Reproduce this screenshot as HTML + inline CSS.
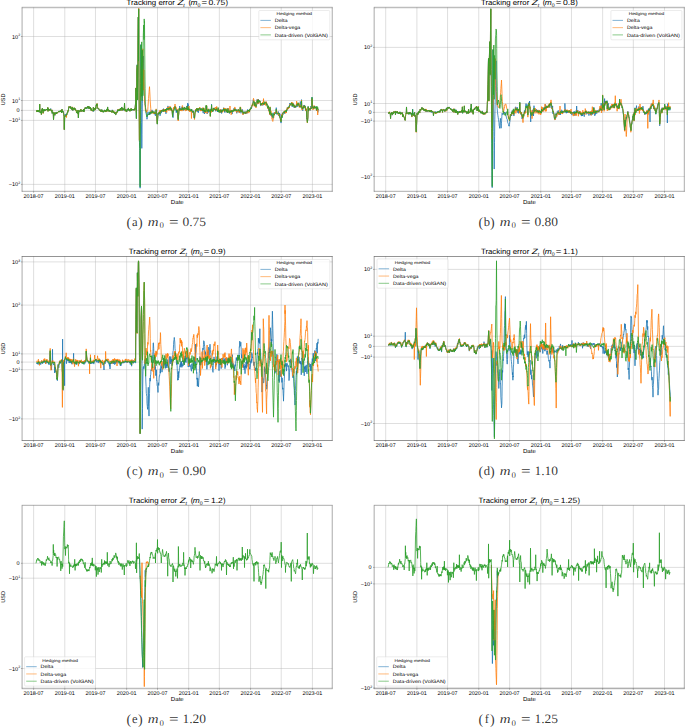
<!DOCTYPE html>
<html><head><meta charset="utf-8"><style>html,body{margin:0;padding:0;background:#fff;overflow:hidden}svg{display:block}</style></head>
<body>
<svg width="685" height="727" viewBox="0 0 685 727" font-family="'Liberation Sans', sans-serif" fill="#000" text-rendering="geometricPrecision">
<rect width="685" height="727" fill="#fff"/>
<clipPath id="clipa"><rect x="22.3" y="7.5" width="310" height="183.9"/></clipPath>
<path d="M33.6 7.5V191.4M64.79 7.5V191.4M95.46 7.5V191.4M126.65 7.5V191.4M157.5 7.5V191.4M188.68 7.5V191.4M219.36 7.5V191.4M250.55 7.5V191.4M281.22 7.5V191.4M312.41 7.5V191.4M22.3 36.5H332.3M22.3 100.5H332.3M22.3 110.4H332.3M22.3 120.4H332.3M22.3 184.4H332.3" stroke="#b0b0b0" stroke-opacity="0.45" stroke-width="0.9" fill="none"/>
<path d="M36.5 110.28 36.75 111.76 36.99 111.2 37.24 110.7 37.48 111.35 37.73 110.32 37.97 111.56 38.22 111.78 38.46 110.4 38.71 111.51 38.95 111.29 39.2 110.25 39.44 111.42 39.69 104.34 40 111.96 40.18 112.91 40.42 112.11 40.67 112.15 40.91 112.94 41.16 111.25 41.4 114.55 41.65 111.28 41.89 109.52 42.14 110.54 42.38 108.1 42.63 110.17 42.87 110.68 43.12 113.15 43.36 110.35 43.61 110.27 43.86 110.76 44 109.22 44.1 111.07 44.35 110.88 44.59 109.85M45.08 111.02 45.33 110.43 45.57 110.13 45.82 109.64 46.06 110.14 46.31 109.79 46.55 109.46 46.8 109.74 47.04 109.43 47.29 109.56 47.53 108.81 47.78 107.56 48 110.96 48.27 108.42 48.51 109.39 48.76 109.66 49 109.42 49.25 110.25 49.49 109.44 49.74 110.4 49.98 109.41 50.23 109.82 50.47 109.06 50.72 108.53 50.97 109.59 51.21 110.68 51.46 111.28 51.7 111.07 52 110.13 52.19 113.53 52.44 112.09 52.68 112.14 52.93 112.22 53.2 112.24 53.42 116.57 53.5 119.64 53.66 117.14 53.9 113.93 54.15 112.98 54.4 113.61 54.64 114.4 54.89 115.55 55 112.99 55.13 113.4 55.38 112.46 55.62 112.85 55.87 113.47 56.11 112.97 56.36 112.63 56.6 113.82 56.85 112.19 57.09 112.41 57.34 112.68 57.58 113.09 57.83 112.33 58 111.9 58.32 111.59 58.57 111.57 58.81 111.82 59.06 111.79 59.3 110.98 59.55 111.52 59.79 111.91 60.04 111.81 60.28 110.83 60.53 110.71 60.77 111.78 61 110.84 61.26 110.48 61.51 112.61 61.75 111.63 62 109.25 62.24 112.58 62.49 111.24 62.73 111.39 62.98 111.61 63.22 111.18 63.5 112.12 63.71 114.68 64 116.32 64.2 126.18 64.3 129.66 64.45 125.22 64.7 115.91 64.94 115.71 65.18 114 65.43 114.99 65.68 116.3 65.92 116.18 66.17 116.04 66.41 115.27 66.5 113.86 66.66 114.39 66.9 114.77 67.15 113.76 67.39 112.17 67.64 113 67.88 111.14 68 111.38 68.13 111 68.37 110.82 68.62 107.96 68.86 106.86 69 106.78 69.11 106.46 69.35 107.49 69.6 107.31 69.84 107.87 70.09 107.96 70.33 108.13 70.58 106.37 70.82 108.46 71.07 108.18 71.31 107.73 71.56 109.19 71.8 108.29 72 108.05 72.29 107.15 72.54 108.9 72.79 110.53 73.03 108.08 73.28 108.71 73.52 108.62 73.77 109.55 74.01 109.33 74.26 107.92 74.5 108.44 74.75 109.2 75 109.93 75.24 108.59 75.48 108.79 75.73 110.33 75.97 110.52 76.22 110.11M77 112.79 77.2 112.52 77.44 113.58 77.69 112.41 77.93 110.48 78.18 113.11 78.42 117.85 78.67 111.86 78.91 111.44 79.16 110.49 79.4 110.99 79.65 112.16 79.9 111.2 80 110.91 80.14 110.94 80.39 111.08 80.63 111.07 80.88 109.19 81.12 110.32 81.37 110.58 81.61 111.39 81.86 111.34 82.1 110.68 82.35 110.23 82.59 110.64 82.84 110.02 83.08 110.44 83.33 111.9 83.57 109.27 83.82 111.21 84 111.44 84.31 111.58 84.55 109.12 84.8 108.14 85 108.17 85.29 107.46 85.53 107.18 85.78 108.1 86.02 109.04 86.27 107.73 86.51 107.67 86.76 107.87 87 107.84 87.25 108.48 87.5 107.01 87.74 106.38 88 107.31 88.23 107.3 88.48 106.23 88.72 107.78 88.97 108.79 89.21 106.58 89.46 107.61 89.7 107.55 90 108.58 90.19 108.89 90.44 107.22 90.68 108.59 90.93 109.43 91.17 110.35 91.42 108.75 91.66 109.98 91.91 110.12 92 110.17 92.15 110.82 92.4 110.93 92.64 110.88 92.89 110.87 93.13 109.71 93.38 107.28 93.62 111.56 93.87 110.7 94.11 109.59 94.36 108.91 94.61 107.97 94.85 108.42 95 108.98 95.1 110.01 95.34 109.15 95.59 107.62 95.83 108.44 96.08 105.57 96.32 105.19 96.5 104.33 96.81 105.68 97.06 103.77 97.3 106.22 97.55 107.51 97.79 108.48 98 108.38 98.28 109.01 98.53 108.91 98.77 108.86 99.02 108.74 99.26 110.08 99.51 110.4 99.75 110.07 100 110.56 100.24 110.81 100.49 111.43 100.73 110.4 100.98 109.57 101.22 110.5 101.47 111.2 101.72 111.9 101.96 109.78 102.21 111.58 102.45 111.95 102.7 110.85 103 111.59 103.19 111.78 103.43 112.27 103.68 111.26 103.92 111.35 104.17 111.48 104.41 109.94 104.66 110.1 104.9 111.48 105.15 111.26 105.39 110.52 105.64 110.47 105.88 111.86 106.13 110.23 106.37 110.75 106.62 110.76 106.86 110.54 107 109 107.11 109.84 107.35 110.55 107.6 106.91 107.84 110.28 108.09 111.41 108.33 109.94 108.58 109.66 108.83 110.56 109.07 110.5 109.32 111.23 109.56 110.04 109.81 111.11 110 111.93 110.3 110.76 110.54 111.17 110.79 111.16 111.03 111.5 111.28 111.95 111.52 111.67 111.77 112.25 112.01 111.46 112.26 109.85 112.5 111.47 112.75 110.54 113 110.68 113.24 112.74 113.48 111.68 113.73 111.83 113.97 111.7 114.22 112.8 114.46 113.5 114.71 112.3 114.95 112.1 115.2 112.03 115.44 113.91 115.69 114.78 116 114.42 116.18 113.74 116.43 112.22 116.67 112.88 116.92 112.78 117.16 111.2 117.41 111.93 117.65 109.84 117.9 110.83 118 109.65 118.14 110.34 118.39 110.61 118.63 111.21 118.88 109.61 119.12 109.61 119.37 110.56 119.61 110.28 119.86 109 120.1 110.66 120.35 109.48 120.59 108.12 120.84 109.39 121.08 108.29 121.33 108.28 121.57 108.45 121.82 106.96 122 110.49 122.31 108.77 122.55 108.54 122.8 109.37 123.04 109.81 123.29 108.51 123.54 110.27 123.78 109.86 124.03 110.24 124.27 109.9 124.52 103.06 124.76 109.71 125.01 109.59 125.25 111.09 125.5 109.88 125.74 109.35 126 109.33 126.23 111.21 126.48 109.85 126.72 111.6 126.97 110.64 127.21 109.97 127.46 109.45 127.7 110.26 127.95 108.94 128.19 109.51 128.44 108.01 128.68 110.31 128.93 109.78 129.17 110.53 129.42 111.05 129.66 109.52 129.91 109.89 130 111.21 130.15 110.2 130.4 109.29 130.65 109.59 130.89 109.85 131.14 108.49 131.38 110.73 131.63 109.82 131.87 109.5 132.12 109.24 132.36 109.67 132.61 110.32 132.85 109.48 133 109.82 133.1 109.89 133.34 109.02 133.59 109.96 133.83 110.02 134.08 109.88 134.32 110.19 134.5 109.26 134.81 108.59 135 109.45 135.3 105.93 135.6 102.91 135.79 93.95 135.9 88 136.04 97.99 136.2 112.66 136.28 113.89 136.4 118.52 136.53 102.33 136.8 70.09 137.02 67.43 137.2 64.72 137.51 92.68 137.6 99.57 137.76 74.51 138 39.95 138.3 17.02 138.5 61.28 138.7 8.7 139 77.62 139.23 114.34 139.4 139.66 139.5 142.56 139.72 148.42 139.8 150.66 139.96 170.23 140.1 188.16 140.2 169.26 140.5 120.59 140.7 83.41 140.9 44.53 141 55.99 141.19 78.57 141.3 109.51 141.43 122.13 141.7 141 141.8 148.36 142 134.36 142.1 125.03 142.3 110 142.41 103.17 142.5 98.73 142.66 88.1 142.9 75.95 143 70.75 143.15 63.89 143.3 60.75 143.39 58.26 143.5 56.07 143.7 69.88 143.8 75.66 143.88 81.64 144 90.26 144.2 92.87 144.37 94.97 144.5 96.75 144.62 98.87 144.9 103.1 145 104.77 145.11 104.97 145.3 104.97 145.5 107.23 145.6 108.04 145.8 110.53 146 112.03 146.09 113.14 146.34 114.67 146.5 115.22 146.58 115.49 146.83 117.49 147 119.26 147.32 116.3 147.56 113.78 147.81 113.09 148 111.75 148.3 113.43 148.54 114.24 148.8 113.88 149.03 114.23 149.28 114.7 149.5 113.12 149.77 114.74 150 111.57 150.2 113.74 150.5 113.76 150.75 112.5 151 111.18 151.24 113.33 151.48 112.76 151.73 111.72 152 109.89 152.22 111.54 152.47 111.36 152.71 111.73 153 112.3 153.2 112.41 153.45 112.07 153.69 112.71 153.94 111.34 154.18 114.23 154.43 114.1 154.67 113.18 154.92 113.69 155.16 114.48 155.41 115.82 155.65 113.01 155.9 112.72 156.14 110.04 156.39 113.15 156.5 113.89 156.63 114.88 156.88 118.59 157.12 122.4 157.3 123.77 157.61 118.98 157.86 115.81 158 113.1 158.1 114.86 158.35 114.61 158.59 114.17 158.84 112.72 159.08 112.8 159.33 111.58 159.58 112.88 159.82 112.8 160.07 115.82 160.31 111.7 160.56 111.59 160.8 112.02 161.05 110.48 161.29 113.13 161.54 111.13 161.78 111.19 162 109.94 162.27 111.64 162.52 110.5 162.76 109.73 163.01 109.43 163.25 110.06 163.5 108.61 163.74 110.28 163.99 110.27 164.23 110.67 164.48 110.28 164.72 109.69 165 110.63 165.21 110.81 165.46 111.14 165.7 109.29 165.95 113.84 166.19 110.46 166.44 110.27 166.69 108.15 166.93 109.54 167.18 109.58 167.42 109.17 167.67 108.31 167.91 105.92 168.16 106.67 168.4 110.01 168.65 107.8 168.89 108.2 169.14 109.41 169.38 109.52 169.63 108.96 169.87 109.8 170 107.56 170.12 108.92 170.36 108.12 170.61 107.17 170.85 109.94 171.1 110.14 171.34 110.39 171.59 108.61 171.83 111.03 172.08 110.05 172.32 112.97 172.57 115.87 172.81 111.93 173 117.69 173.3 111.82 173.55 111.52 173.8 110.25 174.04 109.03 174.29 108.26 174.53 107.73 174.78 106.55 175 106.41 175.27 108.45 175.51 108.54 175.76 110.08 176 110.3 176.25 112.69 176.49 110.63 176.74 112.18 176.98 109.51 177.23 111.17 177.5 110.68 177.72 116.9 177.96 118.57 178.2 119.49 178.45 115.96 178.7 114.14 179 109.88 179.19 109.07 179.43 110.08 179.68 106.06 179.92 109.51 180.17 108.1 180.41 109.11 180.66 109.75 180.9 109.61 181.15 109.15 181.4 109.83 181.64 107.74 181.89 109.07 182.13 106.69 182.38 108.76 182.62 106.99 182.87 109.33 183.11 110.39 183.36 110.5 183.6 108.45 183.85 108.26 184.09 109.44 184.34 107.85 184.58 106.94 184.83 107.28 185 108.49 185.32 108.51 185.56 108.26 185.81 108.46 186.05 108.95 186.3 110.24 186.54 108.36 186.79 109.29 187.03 105.97 187.28 109.21 187.52 108.08 187.77 102.99 188.01 107.94 188.26 104.48 188.51 108.6 188.75 107.88 189 110.58 189.24 109.89 189.49 110.28 189.73 108.58 190 110.24 190.22 109.84 190.47 110.41 190.71 110.85 190.96 111.1 191.2 109.33 191.45 110.29 191.69 109.55 191.94 111.42 192.18 111.74 192.43 112.66 192.67 111.99 192.92 110.62 193.16 111.96 193.41 111.56 193.5 111.52 193.65 113.36 193.9 117.74 194.14 116.44 194.39 116.68 194.5 118.71 194.63 117.01 194.88 113.16 195.12 111.96 195.37 110.25 195.5 111.21 195.62 109.53 195.86 111.2 196.11 110.72 196.35 109.76 196.6 109.07 196.84 108.66 197.09 109.68 197.33 110.84 197.58 110.69 197.82 111.91 198.07 109.93 198.31 112.82 198.56 111.42 198.8 110.72 199.05 110.74 199.29 108.58 199.54 108.65 199.78 108.02 200 108.08 200.27 109.66 200.52 110.55 200.76 109.65 201.01 109.24 201.25 110.53 201.5 109.89 201.74 108.44 201.99 109.68 202.23 110.75 202.48 109.83 202.73 109.98 202.97 112.28 203.22 113.13 203.46 111.38 203.71 108.6 203.95 111.25 204.2 111.31 204.44 114 204.69 110.63 205 112.01 205.18 111.94 205.42 112.47 205.67 111.91 205.91 109.7 206.16 105.81 206.4 110.11 206.65 106.51 206.89 110.72 207.14 113.96 207.38 113.3 207.63 111.22 207.87 111.52 208.12 109.83 208.36 112.49 208.61 110.1 208.85 110.46 209.1 111.21 209.34 111.29 209.59 110.88 209.83 110.84 210 109.63 210.08 108.83 210.33 115.87 210.57 111.55 210.82 110.04 211.06 112.07 211.31 110.79 211.55 104.2 211.8 110.14 212.04 109.87 212.29 109.29 212.53 110.9 212.78 111.75 213.02 108.3 213.27 109.6 213.51 108.49 213.76 109.23 214 107.85 214.25 108.63 214.49 108.84 214.74 109.44 215 108.95 215.23 110.1 215.47 109.93 215.72 111.33 215.96 109.89 216.21 109.73 216.45 109.11 216.7 107.68 216.94 109.82 217.19 109.38 217.44 111.93 217.68 109.85 217.93 111.21 218.17 109.45 218.42 108.72 218.66 111.96 218.91 110.21 219.15 110.24 219.4 109.98 219.64 111.02 219.89 111.54 220 111.81 220.13 110.25 220.38 110.82 220.62 109.37 220.87 112.59 221.11 110.92 221.36 110.37 221.6 113.51 221.85 111.59 222.09 109.42 222.34 110.53 222.58 110.89 222.83 110.14 223.07 110.82 223.32 110.7 223.56 107.7 223.81 110.97 224.05 108.88 224.3 108.93 224.55 112.13 224.79 112.56 225 109.82 225.28 110.65 225.53 109.94 225.77 110.67 226.02 110.26 226.26 112.41 226.51 110.43 226.75 110.87 227 108.91 227.24 109.99 227.49 112.61 227.73 112.09 227.98 108.07 228.22 110.8 228.47 111.5 228.71 111.09 228.96 112.72 229.2 110.95 229.45 113.54 229.69 112.41 230 111.68 230.18 111.58 230.43 111.93 230.67 112.34 230.92 112.41 231.16 111.15 231.41 109.96 231.66 110.27 231.9 112.5 232.15 114.07 232.39 111.73 232.64 110.92 232.88 111.33 233.13 110.66 233.37 109.65 233.62 109.77 233.86 109.71 234.11 107.99 234.35 110.29 234.6 111.08 234.84 108.98 235 109.44 235.09 110.29 235.33 109.3 235.58 110.11 235.82 109.13 236.07 109.23 236.31 111.47 236.56 110.94 236.8 113.34 237.05 110.98 237.29 111.31 237.54 111.23 237.78 110.86 238.03 110.3 238.27 109.18 238.52 110.84 238.77 110.63 239.01 112.68 239.26 111.33 239.5 110.79 239.75 111.15 240 111.76 240.24 107.72 240.48 110.19 240.73 111.09 240.97 113.27 241.22 111.23 241.46 109.61 241.71 111.38 241.95 111.87 242.2 110.25 242.44 109.45 242.69 110.82 242.93 113.75 243.18 114.4 243.42 111.83 243.67 113.21 243.91 113.31 244.16 111.74 244.4 112.33 244.65 111.73 244.89 112.86 245 112.17 245.14 113.21 245.38 113.92 245.63 112.84 245.87 111.51 246.12 112.6 246.37 112.37 246.61 113.56 246.86 113.78 247.1 112.59 247.35 110.27 247.59 109.5 247.84 110.74 248.08 110.87 248.33 111.63 248.57 110.17 248.82 110.8 249.06 110.85 249.31 110.74 249.55 110.6 249.8 108.91 250 108.79 250.29 108.59 250.53 109.85 250.78 107.85 251.02 107.26 251.27 107.88 251.51 108.51 251.76 107.02 252 105.09 252.25 105.49 252.49 105.38 252.74 104.48 252.98 101.87 253.23 99.77 253.48 100.11 253.72 101.92 254 102.82 254.21 101.96 254.46 102.82 254.7 104.96 254.95 102.38 255.19 105.28 255.44 105.15 255.68 106.11 256 107.1 256.17 104.74 256.42 104.62 256.66 104.26 256.91 103.3 257.15 99.21 257.4 101.8 257.64 100.28 257.89 101.19 258.13 103.91 258.38 99.16 258.62 100.16 258.8 101.41 259.11 100.94 259.36 101.04 259.6 100.71 259.85 101.09 260 101.87 260.09 101.69 260.34 102.7 260.59 105.75 260.83 105.68 261 103.25 261.32 104.94 261.57 104.2 261.81 104.64 262.06 103.8 262.3 103.08 262.55 103.83 262.79 105.53 263.04 104.14 263.28 104.74 263.5 103.92 263.77 104.49 264.02 104.96 264.26 103.39 264.51 103.85 264.75 103.22 265 103.32 265.24 103.28 265.49 103.88 265.73 103.19 266 101.78 266.22 103.68 266.47 102.43 266.71 103.42 266.96 104.09 267.2 104.77 267.45 107.01 267.7 107.74 268 106.38 268.19 109 268.43 107.62 268.68 110.43 268.92 109.41 269.17 110.63 269.41 109.84 269.66 112.15 269.9 114.63 270 108.16 270.15 113.77 270.39 113.56 270.64 113.55 270.88 113.65 271 115.78 271.13 114.12 271.37 114.13 271.62 116.37 271.86 115.89 272 115.21 272.11 114.52 272.35 116.58 272.6 116.54 272.8 116.95 273 118.4 273.09 116.31 273.33 113.55 273.5 112.82 273.82 114 274.07 115.2 274.31 115.16 274.5 112.42 274.8 112.93 275.05 113.79 275.3 112.32 275.54 112.52 275.79 112.65 276 111.47 276.28 107.67 276.52 112.5 276.77 114.22 277.01 114.56 277.26 114.15 277.5 113.79 277.75 113.73 277.99 112.55 278.24 111.43 278.48 112.94 278.73 115.84 279 114.57 279.22 112.9 279.46 115.24 279.71 117.23 279.95 113.8 280.2 116.82 280.44 119.26 280.69 119.13 281 123.08 281.18 121.08 281.42 118.76 281.67 114.92 281.91 117.94 282.16 116.27 282.41 112.93 282.65 114.64 282.9 114.46 283 114.52 283.14 113.18 283.39 111.89 283.63 112.17 283.88 112.14 284.12 112.09 284.37 113.63 284.61 111.9 284.86 113.29 285.1 111.9 285.35 111.23 285.59 111.19 285.84 111.54 286 111.24 286.08 110.59 286.33 112.32 286.57 110.56 286.82 110.75 287 109.86 287.31 107.75 287.55 108.3 287.8 107.61 288.04 109.08 288.29 108.61 288.53 108.74 288.78 106.67 289.02 107.68 289.27 106.73 289.52 104.43 289.76 103.04 290.01 103.31 290.25 104.43 290.5 105.24 290.74 104.07 290.99 103.53 291.23 104.42 291.5 103.78 291.72 104.17 291.97 102.94 292.21 106.85 292.46 104.08 292.7 103.9 292.95 106.2 293.19 103.28 293.44 105.65 293.68 105.05 293.93 106.59 294.17 107.92 294.42 106.13 294.66 104.88 294.91 107.61 295 107.34 295.15 106.37 295.4 107.38 295.64 106.12 295.89 106.34 296.13 107.29 296.38 106.36 296.63 104.21 296.87 104.41 297.12 103.38 297.36 104.19 297.61 106.64 297.85 104.6 298 104.28 298.1 102.93 298.34 105.12 298.59 103.7 298.83 104.09 299 105.54 299.32 106.4 299.57 105.6 299.81 105.77 300.06 103.72 300.3 101.5 300.55 103.89 300.79 106.89 301.04 106.38 301.28 104.2 301.53 99.64 301.77 106.63 302 108.76 302.26 108.09 302.51 108.77 302.75 110.81 303 108.14 303.24 107.76 303.49 108.19 303.73 105.26 303.98 106.84 304.23 106.85 304.47 105.35 304.72 105.34 305 107.94 305.21 107.3 305.45 109.49 305.7 110.58 305.94 109.57 306.19 111.32 306.5 111.56 306.68 118.93 306.92 117.79 307.17 120.12 307.4 121.61 307.66 119.5 307.9 117.36 308.15 106.47 308.39 108.86 308.5 110.39 308.64 110.41 308.88 110.38 309.13 110.33 309.37 108.45 309.62 108.63 309.86 109.77 310.11 110.57 310.35 108.26 310.6 108.79 310.84 106.1 311.09 108.33 311.34 108.86 311.58 108.43 311.83 106.93 312 97.19 312.32 106.15 312.56 108.15 312.81 106.84 313.05 108.32 313.3 106.74 313.54 107.92 313.79 108.24 314.03 107.4 314.28 105.97 314.52 106.19 314.77 106.84 315 107.99 315.26 107.17 315.5 107.74 315.75 108.3 315.99 106.87 316.24 107.04 316.48 110.49 316.73 110.75 316.97 108.33 317.22 107.74 317.46 111.11 317.71 109.21 317.95 109.09 318.2 112.41" stroke="#1f77b4" stroke-width="0.8" stroke-opacity="1" fill="none" stroke-linejoin="round" clip-path="url(#clipa)"/>
<path d="M36.5 110.28 36.75 111.62 36.99 111.41 37.24 110.47 37.48 111.64 37.73 110.28 37.97 111.54 38.22 111.64 38.46 110.07 38.71 111.12 38.95 111.14 39.2 110.45 39.44 111.51 39.69 104.04 40 112 40.18 112.53 40.42 112.12 40.67 112.2 40.91 113.11 41.16 111.41 41.4 114.55 41.65 111.56 41.89 109.66 42.14 110.85 42.38 108.19 42.63 110.74 42.87 111.11 43.12 113.54 43.36 110.62 43.61 110.14 43.86 111.25 44 109.42 44.1 110.9M44.59 109.88 44.84 110.24 45.08 110.9 45.33 110.08 45.57 110.02 45.82 109.93 46.06 110.26 46.31 109.97 46.55 109.03 46.8 109.78 47.04 109.35 47.29 109.73 47.53 108.98 47.78 107.41 48 111.39 48.27 108.46 48.51 109.3 48.76 109.4 49 109.41 49.25 110.14 49.49 109.61 49.74 110.43 49.98 109.61 50.23 109.75 50.47 109.19 50.72 109.32 50.97 110.51 51.21 110.63 51.46 111.19 51.7 110.97 52 109.85 52.19 113.11 52.44 112.32 52.68 112.82 52.93 112.72 53.2 112.49 53.42 116.64 53.5 119.5 53.66 116.82 53.9 113.93 54.15 112.62 54.4 113.32 54.64 113.94 54.89 115.1 55 112.61 55.13 113.37 55.38 112.98 55.62 113.46 55.87 113.73 56.11 113.33 56.36 112.97 56.6 113.86 56.85 112.3 57.09 112.58 57.34 113.34 57.58 112.94 57.83 112.32 58 111.78 58.32 111.73 58.57 111.48 58.81 111.93 59.06 112.06 59.3 111.1 59.55 111.64 59.79 111.82 60.04 111.87 60.28 111.15 60.53 110.65 60.77 111.64 61 110.68 61.26 110.78 61.51 112.79 61.75 112.18 62 109.37 62.24 112.15 62.49 111.4 62.73 111.5 62.98 111.75 63.22 111.73 63.5 112.48 63.71 114.63 64 116.4 64.2 126.19 64.3 129.73 64.45 124.71 64.7 115.86 64.94 115.36 65.18 115.4 65.43 115.65 65.68 116.33 65.92 116.04 66.17 115.98 66.41 114.98 66.5 117.5 66.66 114.37 66.9 114.64 67.15 113.8 67.39 112.5 67.64 112.79 67.88 110.83 68 111.2 68.13 110.53 68.37 110.97 68.62 108.25 68.86 107.19 69 106.84 69.11 106.21 69.35 107.37 69.6 107.41 69.84 107.77 70.09 108.15 70.33 108.25 70.58 106.67 70.82 107.92 71.07 107.57 71.31 108.14 71.56 109.48 71.8 108.28 72 108.25 72.29 106.8 72.54 108.98 72.79 110.26 73.03 108.21 73.28 109.15 73.52 108.88 73.77 109.66 74.01 109.73 74.26 107.68 74.5 108.37 74.75 109.24 75 109.82 75.24 108.62 75.48 108.98 75.73 110.41 75.97 110.37 76.22 109.96 76.46 112.67 76.71 111.76 77 113.01 77.2 112.32 77.44 113.39 77.69 112.43 77.93 110.05 78.18 113.02 78.42 117.73 78.67 111.95 78.91 111.53 79.16 110.55 79.4 111.05 79.65 111.89 79.9 111.26 80 111.06 80.14 111.21 80.39 111.35 80.63 111.29 80.88 109.06 81.12 110.33 81.37 110.53 81.61 111.21 81.86 111.55 82.1 111.01 82.35 110.58 82.59 110.51 82.84 109.97 83.08 110.12 83.33 111.66 83.57 108.96 83.82 110.94 84 111.23 84.31 111.42 84.55 109.03 84.8 108.34 85 108.23 85.29 107.48 85.53 108.05 85.78 107.85 86.02 108.97M87 107.61 87.25 107.86 87.5 107.3 87.74 106.33 88 107.22 88.23 107.52 88.48 106.5 88.72 107.86 88.97 108.93 89.21 106.76 89.46 107.71 89.7 107.83 90 108.88 90.19 108.94 90.44 107.25 90.68 108.57 90.93 109.97 91.17 110.51 91.42 108.68 91.66 109.95 91.91 109.98 92 110.07 92.15 111.01 92.4 111.23 92.64 110.96 92.89 111 93.13 109.7 93.38 107.27 93.62 110.99 93.87 110.71 94.11 109.53 94.36 108.98 94.61 108.21 94.85 108.68 95 108.56 95.1 110.01 95.34 108.91 95.59 107.85 95.83 108.91 96.08 105.34 96.32 105.14 96.5 104.03 96.81 105.71 97.06 103.36 97.3 105.86 97.55 107.07 97.79 108.04 98 108.48 98.28 108.78 98.53 108.52 98.77 108.6 99.02 108.79 99.26 109.87 99.51 110.35 99.75 109.95 100 110.5 100.24 110.99 100.49 111.41 100.73 110.5 100.98 109.72 101.22 110.69 101.47 111.37 101.72 111.79 101.96 109.87 102.21 111.6 102.45 112.22 102.7 110.99 103 111.48 103.19 111.3 103.43 111.99 103.68 111.09 103.92 111.2 104.17 111.51 104.41 110.05 104.66 110.4 104.9 111.52 105.15 111.57 105.39 110.63 105.64 110.29 105.88 112.06 106.13 110.36 106.37 111.14 106.62 111.63 106.86 110.85 107 109.32 107.11 110.05 107.35 110.36 107.6 106.98 107.84 110.38 108.09 111.4 108.33 109.28 108.58 109.65 108.83 110.28 109.07 110.94 109.32 111.37 109.56 110.27 109.81 111.2 110 111.94 110.3 111.07 110.54 111.38 110.79 111.3 111.03 111.63 111.28 112.08 111.52 111.85 111.77 112.48 112.01 111.83 112.26 110.09 112.5 111.82 112.75 110.92 113 110.7 113.24 112.76 113.48 111.31 113.73 111.69 113.97 111.15 114.22 112.43 114.46 113.25 114.71 112.15 114.95 112.01 115.2 112.07 115.44 113.73 115.69 114.46 116 113.86 116.18 113.2 116.43 112.08 116.67 113.2 116.92 113 117.16 111.74 117.41 112.2 117.65 109.96 117.9 110.61 118 109.33 118.14 110.04 118.39 110.53 118.63 110.85 118.88 109.51 119.12 109.69 119.37 110.8 119.61 110.08 119.86 108.8 120.1 110.58 120.35 109.36 120.59 108.14 120.84 109.18 121.08 108.53M121.82 107.01 122 110.73 122.31 108.85 122.55 108.42 122.8 109.41 123.04 109.92 123.29 108.68 123.54 109.96 123.78 109.73 124.03 110.13 124.27 110.16 124.52 103.08 124.76 109.17 125.01 109.71 125.25 111.21 125.5 109.52 125.74 109.45 126 109.51 126.23 111.4 126.48 110.05 126.72 111.68 126.97 110.38 127.21 109.7 127.46 109.11 127.7 110.27M128.19 109.57 128.44 107.89 128.68 109.89 128.93 109.89 129.17 110.6 129.42 110.82 129.66 109.43 129.91 109.82 130 111.23 130.15 110.59 130.4 109.39 130.65 109.35 130.89 109.98 131.14 108.41 131.38 110.51 131.63 109.5 131.87 109.63 132.12 109.13 132.36 109.69 132.61 109.83 132.85 109.34 133 109.8 133.1 109.83 133.34 109.25 133.59 110.24 133.83 109.81 134.08 109.86 134.32 110.21 134.5 109.66 134.81 108.55 135 109.55 135.3 106.26 135.6 103.16 135.79 93.85 135.9 87.85 136.04 98.06 136.2 112.19M136.4 118.59 136.53 103.34 136.8 70.26 137.02 68.19 137.2 65.6 137.51 92.97 137.6 99.49 137.76 74.99 138 40.46 138.3 17.19 138.5 60.99 138.7 8.25 139 78.21 139.23 114.64 139.4 140.45 139.5 109.84 139.72 119.48 139.8 123.14 139.96 114.45 140.1 106.36 140.2 99.78 140.5 88.34 140.7 79.81 140.9 74.42 141 70.25 141.19 67.76 141.3 66.32 141.43 65.5 141.7 62.78 141.8 62.15 142 60.6 142.1 59.54 142.3 55 142.41 54.22 142.5 53.08 142.66 51.24 142.9 48.79 143 58.96 143.15 73.65 143.3 90.23 143.39 86.76 143.5 81.61 143.7 74.33 143.8 69.58 143.88 73.69 144 79.14 144.2 86.62 144.37 95.3 144.5 101.81 144.62 101.74 144.9 103.07 145 105.23 145.11 106.53 145.3 108.85 145.5 110.82 145.6 110.54 145.8 109.66 146 110.54 146.09 110.23 146.34 111.44 146.5 112.38 146.58 111.12 146.83 112.02 147 111.08 147.32 110.76 147.56 109.91 147.81 109.83 148 106.39 148.3 101.98 148.54 98.47 148.8 94.85 149.03 92.34 149.28 89.39 149.5 86.7 149.77 91.48 150 96.1 150.2 100.71 150.5 104.92 150.75 108.4 151 112.59 151.24 111.7 151.48 113.26 151.73 113.33 152 113.09 152.22 111.99 152.47 110.97 152.71 111.14 153 112.13 153.2 112.17 153.45 113.78 153.69 113.43 153.94 112.28 154.18 113.42 154.43 113.79 154.67 112.01 154.92 112.88 155.16 113.08 155.41 113.42 155.65 112.7 155.9 113.77 156.14 108.87 156.39 111.37 156.5 115.16 156.63 114.56 156.88 119.83 157.12 122.21 157.3 123.81 157.61 118.72 157.86 115.58 158 113.7 158.1 113.62 158.35 113.83 158.59 113.35 158.84 112.32 159.08 112.72 159.33 111.67 159.58 112.16 159.82 110.33 160.07 113.29 160.31 110.83 160.56 110.34 160.8 111.77 161.05 110.86 161.29 110.73 161.54 110.6 161.78 110.91 162 110.65 162.27 110.62 162.52 109.82 162.76 109.86 163.01 109.61 163.25 111.55 163.5 109.71 163.74 111.59 163.99 109.94 164.23 111.24 164.48 110.56 164.72 109.08 165 111.8 165.21 110.48 165.46 111.16 165.7 109.61 165.95 111.14 166.19 109.09 166.44 109.83 166.69 112.49 166.93 110.98 167.18 109.02 167.42 107.44 167.67 107.16 167.91 109.35 168.16 109.24 168.4 108.85 168.65 106.9 168.89 110.66 169.14 108.3 169.38 108.56 169.63 108.26 169.87 108.07 170 105.97 170.12 110.29 170.36 109.76 170.61 107.8 170.85 109.98 171.1 109.78 171.34 110.48 171.59 108.24 171.83 110.7 172.08 111.55 172.32 113.24 172.57 116.33 172.81 110.53 173 112.18 173.3 111.38 173.55 107.2 173.8 109.34 174.04 108.46 174.29 108.6 174.53 108.41 174.78 108.6 175 104 175.27 107.97 175.51 108.02 175.76 106.85 176 106.85 176.25 108.51 176.49 108.3 176.74 109.07 176.98 109.93 177.23 110.91 177.5 109.61 177.72 115.44 177.96 118.14 178.2 120.98 178.45 116.77 178.7 114.01 179 110.35 179.19 108.21 179.43 110.18 179.68 107.87 179.92 110.55 180.17 109.18 180.41 110.84 180.66 109.96 180.9 109.73 181.15 109.25 181.4 109.85 181.64 109.78 181.89 111.13 182.13 106.69 182.38 105.47 182.62 106.23 182.87 110.5 183.11 109.44 183.36 109.13 183.6 107.78 183.85 108.78 184.09 108.86 184.34 108.81 184.58 107.56 184.83 109.19 185 110.08 185.32 111.09 185.56 110.86 185.81 110 186.05 108.9 186.3 109.76 186.54 110.15 186.79 110.64 187.03 107.29 187.28 109.19 187.52 109.53 187.77 108.27 188.01 109.18 188.26 107.42 188.51 110.54 188.75 109.69 189 106 189.24 110.66 189.49 111.89 189.73 109.16 190 110.22 190.22 110.66 190.47 110.63 190.71 111.59 190.96 111.1 191.2 110.42 191.45 118.51 191.69 112.15 191.94 111.76 192.18 111.56 192.43 111.36 192.67 111.44 192.92 110.94 193.16 111.05 193.41 111.02 193.5 112.02 193.65 114.09 193.9 113.72 194.14 115.99 194.39 118.5 194.5 119.5 194.63 117.83 194.88 114.31 195.12 112.64 195.37 112.05 195.5 111.12 195.62 109.35 195.86 111.77 196.11 110.38 196.35 109.66 196.6 109.4 196.84 108.08 197.09 109.56 197.33 108.74 197.58 110.32 197.82 109.37 198.07 108.33 198.31 110.97 198.56 109.7 198.8 108.51 199.05 109.15 199.29 108.54 199.54 108.37 199.78 107.08 200 108.4 200.27 109.21 200.52 111.13 200.76 110.32 201.01 110.71 201.25 110.75 201.5 110.04 201.74 109.23 201.99 110.57 202.23 110.81 202.48 109.47 202.73 107.6 202.97 110.61 203.22 109.98 203.46 110.47 203.71 108.1 203.95 111.27 204.2 108.78 204.44 111.41 204.69 110.37 205 112.72 205.18 110.71 205.42 112.86 205.67 113.15 205.91 111.06 206.16 105.86 206.4 109.29 206.65 105.48 206.89 110.57 207.14 113.39 207.38 111.78 207.63 110.12 207.87 110.74 208.12 108.62 208.36 110.88 208.61 110.64 208.85 109.98 209.1 110.71 209.34 110.45 209.59 111.56 209.83 111.46 210 110.98 210.08 109.71 210.33 116.39 210.57 110.08 210.82 112.3 211.06 110.03 211.31 112.38 211.55 104.99 211.8 111.77 212.04 110.67 212.29 109.66 212.53 109.23 212.78 110.84 213.02 109.32 213.27 109.4 213.51 107.95 213.76 109.14 214 108.37 214.25 108.48 214.49 108.5 214.74 109.96 215 110.04 215.23 107.24 215.47 108.31 215.72 107.73 215.96 107.49 216.21 110.77 216.45 110.16 216.7 106.41 216.94 108.68 217.19 110.45 217.44 110.37 217.68 110.1 217.93 110.34 218.17 108.44 218.42 109.34 218.66 111.65 218.91 110.52 219.15 110.81 219.4 109.62 219.64 111.78 219.89 112.67 220 111.04 220.13 110.81 220.38 111.32 220.62 109.48 220.87 111.7 221.11 112.13 221.36 110.4 221.6 110.75 221.85 109.98 222.09 110.13 222.34 112.39 222.58 111.21 222.83 111.27 223.07 110.53 223.32 111.41 223.56 109.54 223.81 108.1 224.05 110.1 224.3 107.92 224.55 110.88 224.79 110.48 225 108 225.28 108.99 225.53 109.46 225.77 110.54 226.02 109.56 226.26 112.08 226.51 110.02 226.75 111.5 227 108.77 227.24 108.52 227.49 112.11 227.73 110.45 227.98 108.42 228.22 110.89 228.47 111.4 228.71 112.27 228.96 112.43 229.2 111.1 229.45 113.09 229.69 110.91 230 106 230.18 112.07 230.43 112.53 230.67 112.82 230.92 110.62 231.16 114.77 231.41 112.64 231.66 110.64 231.9 110.65 232.15 111.32 232.39 111.31 232.64 112.09 232.88 110.41 233.13 110.68 233.37 109.53 233.62 111.14 233.86 110.41 234.11 111.02 234.35 110.25 234.6 110.63 234.84 106.94 235 108.7 235.09 108.27 235.33 109.52 235.58 109.75 235.82 111.25 236.07 111.29 236.31 111.45 236.56 110.74 236.8 112.52 237.05 110.64 237.29 110.2 237.54 110.56 237.78 111.1 238.03 110.69 238.27 109.08 238.52 110.75 238.77 112.01 239.01 111.25 239.26 111.46 239.5 113.04 239.75 112.31 240 111.53 240.24 106.81 240.48 107.51 240.73 107.21 240.97 108.96 241.22 111.16 241.46 110.79 241.71 111.8 241.95 112.17 242.2 111.52 242.44 110.6 242.69 113.03 242.93 114.91 243.18 113.94 243.42 112.46 243.67 112.91 243.91 113.3 244.16 112.93 244.4 113.19 244.65 112.49 244.89 112.42 245 111.78 245.14 112.83 245.38 112.67 245.63 113.34 245.87 113.45 246.12 112.23 246.37 111.95 246.61 111.62 246.86 113.37 247.1 112.1 247.35 112.2 247.59 110.62 247.84 111.18 248.08 110.64 248.33 111.03 248.57 111.24 248.82 113.12 249.06 110.4 249.31 110.23 249.55 111.67 249.8 109.17 250 109.62 250.29 109.98 250.53 108.84 250.78 108.32 251.02 108.17 251.27 107.68 251.51 106.92 251.76 106.35 252 105.11 252.25 103.82 252.49 103.74 252.74 104.16 252.98 106.17 253.23 102.25 253.48 98.32 253.72 99.21 254 100.13 254.21 101.21 254.46 101.87 254.7 106.53 254.95 102.77 255.19 103.55 255.44 103.4 255.68 106.46 256 107.88 256.17 105.49 256.42 104.98 256.66 104.29 256.91 103.34 257.15 100.67 257.4 103.25 257.64 99.49 257.89 100.16 258.13 103.76 258.38 99.76 258.62 100.65 258.8 100.86 259.11 102.52 259.36 101.76 259.6 101.21 259.85 102.17 260 101 260.09 103.12 260.34 104.62 260.59 104.78 260.83 104.48 261 104.31 261.32 105.29 261.57 103.38 261.81 103.17 262.06 105.24 262.3 104.01 262.55 102.19 262.79 104.77 263.04 103.62 263.28 102.7 263.5 98.6 263.77 102.53 264.02 103.54 264.26 102.91 264.51 104.94 264.75 104.45 265 104.4 265.24 103.35 265.49 103.35 265.73 105.53 266 101.5 266.22 103.07 266.47 102.46 266.71 104.12 266.96 103.68 267.2 105.28 267.45 107.41 267.7 108.14 268 108.22 268.19 108.91 268.43 107.01 268.68 107.66 268.92 109.22 269.17 112.16 269.41 110 269.66 111.69 269.9 114.68 270 106.75 270.15 112.15 270.39 115.05 270.64 113.3 270.88 111.95 271 110.89 271.13 112.26 271.37 114.1 271.62 115.21 271.86 118.64 272 118.95 272.11 118.62 272.35 120.52 272.6 120.88 272.8 121.44 273 120.47 273.09 120.28 273.33 118.14 273.5 118.09 273.82 117.44 274.07 114.8 274.31 113.83 274.5 112.27 274.8 113.9 275.05 113.69 275.3 113.21 275.54 113.02 275.79 112.56 276 111.64 276.28 109.74 276.52 112.17 276.77 111.28 277.01 112.55 277.26 112.38 277.5 113.02 277.75 113.11 277.99 114.13 278.24 115.19 278.48 114.23 278.73 113.26 279 114.26 279.22 114.21 279.46 116.77 279.71 117.43 279.95 116.76 280.2 117.62 280.44 120.26 280.69 119.45 281 121.3 281.18 118.62 281.42 117.64 281.67 114.3 281.91 116.13 282.16 116.85 282.41 115.91 282.65 115.05 282.9 113.82 283 113.19 283.14 112.31 283.39 112.01 283.63 112.54 283.88 112.45 284.12 111.8 284.37 111.4 284.61 110.56 284.86 111.29 285.1 111.87 285.35 112.34 285.59 113.35 285.84 111.74 286 113 286.08 110.79 286.33 112.4 286.57 110.37 286.82 108.95 287 109.57 287.31 107.52 287.55 108.31 287.8 107.98 288.04 108.91 288.29 107.27 288.53 108.92 288.78 107.73 289.02 106.97 289.27 107.97 289.52 105.82 289.76 104.26 290.01 104.06 290.25 104.9 290.5 104.59 290.74 105.12 290.99 105.09 291.23 103.35 291.5 103.13 291.72 101.99 291.97 102.83 292.21 105.96 292.46 104.11 292.7 102.62 292.95 104.38 293.19 103.73 293.44 105.39 293.68 106.24 293.93 105.81 294.17 106.9 294.42 105.57 294.66 104.87 294.91 107.52 295 107.58 295.15 106.93 295.4 106.95 295.64 106.51 295.89 106.61 296.13 105.86 296.38 105.43 296.63 101.12 296.87 103.55 297.12 103.41 297.36 104.25 297.61 104.81 297.85 103.02 298 105.95 298.1 103.15 298.34 103.53 298.59 104.31 298.83 103.84 299 103 299.32 107.43 299.57 106.68 299.81 105.67 300.06 107.34 300.3 105.61 300.55 105.48 300.79 106.14 301.04 106.6 301.28 107.6 301.53 100.04 301.77 108.21 302 110.11 302.26 108.58 302.51 109.09 302.75 109 303 105.89 303.24 107.17 303.49 106.8 303.73 105.93 303.98 107.19 304.23 106.81 304.47 107.33 304.72 105.8 305 108.17 305.21 106.74 305.45 107.29 305.7 110.37 305.94 109.16 306.19 110.8 306.5 108.56 306.68 116.33 306.92 117.53 307.17 122.42 307.4 123.02 307.66 119.4 307.9 117.96 308.15 106.91 308.39 109.32 308.5 110.19 308.64 111.17 308.88 109.43 309.13 109.19 309.37 108.4 309.62 109.48 309.86 109.51 310.11 110.14 310.35 110.08 310.6 108.24 310.84 107.8 311.09 108.11 311.34 106.95 311.58 107.72 311.83 107.93 312 98.64 312.32 106.03 312.56 106.32 312.81 106.73 313.05 109.96 313.3 108.22 313.54 107.38 313.79 106.68 314.03 105.45 314.28 106.01 314.52 108.52 314.77 108.87 315 108.81 315.26 107.75 315.5 107.62 315.75 107.49 315.99 107.43 316.24 108.42 316.48 110.58 316.73 107.85 316.97 107 317.22 107.31 317.46 110.48 317.71 114.99 317.95 110.96 318.2 109.29" stroke="#ff7f0e" stroke-width="0.8" stroke-opacity="1" fill="none" stroke-linejoin="round" clip-path="url(#clipa)"/>
<path d="M36.5 110.28 36.75 111.7 36.99 111.35 37.24 110.61 37.48 111.58 37.73 110.21 37.97 111.53 38.22 111.83 38.46 110.53 38.71 111.64 38.95 111.18 39.2 110.42 39.44 111.44 39.69 104.12 40 111.74 40.18 112.73 40.42 112.09 40.67 112.09 40.91 112.81 41.16 111.09 41.4 114.46 41.65 111.54 41.89 109.56 42.14 110.86 42.38 108.22 42.63 110.18 42.87 110.84 43.12 113.12 43.36 110.05 43.61 110.11 43.86 110.5 44 109.09 44.1 110.89 44.35 110.95 44.59 109.84 44.84 110.45 45.08 111.03 45.33 110.09 45.57 110.16 45.82 109.45 46.06 109.97 46.31 109.92 46.55 109.01 46.8 109.62 47.04 109.14 47.29 109.61 47.53 108.78 47.78 107.47 48 111.5 48.27 108.63 48.51 109.34 48.76 109.54 49 109.4 49.25 110.24 49.49 109.57 49.74 110.36 49.98 109.36 50.23 109.72 50.47 109.14 50.72 109.37 50.97 110.48 51.21 110.76 51.46 111.35 51.7 110.97 52 109.93 52.19 113.31 52.44 111.84 52.68 112.49 52.93 112.48 53.2 112.27 53.42 116.62 53.5 119.66 53.66 116.99 53.9 113.82 54.15 112.65 54.4 113.64 54.64 114.2 54.89 114.95 55 112.66 55.13 113.31 55.38 112.84 55.62 113.2 55.87 113.67 56.11 113.01 56.36 112.75 56.6 113.83 56.85 112.14 57.09 112.36 57.34 112.86 57.58 112.78 57.83 112.18 58 111.91 58.32 111.74 58.57 111.48 58.81 111.77 59.06 111.88 59.3 110.84 59.55 111.49 59.79 111.85 60.04 111.65 60.28 111.1 60.53 110.78 60.77 111.85 61 110.68 61.26 110.72 61.51 112.89 61.75 111.63 62 109.18 62.24 112.06 62.49 111.11 62.73 111.43 62.98 111.74 63.22 111.6 63.5 112.4 63.71 114.63 64 116.42 64.2 126.28 64.3 129.63 64.45 125.07 64.7 115.86 64.94 115.95 65.18 115.6 65.43 115.66 65.68 116.39 65.92 116.07 66.17 115.9 66.41 115 66.5 113.79 66.66 114.44 66.9 114.5 67.15 113.76 67.39 112.4 67.64 112.82 67.88 110.8 68 111.27 68.13 110.68 68.37 110.91 68.62 108.08 68.86 107.04 69 106.82 69.11 106.42 69.35 107.4 69.6 107.4 69.84 107.71 70.09 107.78 70.33 108.17 70.58 106.54 70.82 108.13 71.07 107.94 71.31 108.17 71.56 109.58 71.8 108.34 72 108.23 72.29 107.07 72.54 108.81 72.79 110.33 73.03 107.91 73.28 108.82 73.52 108.58 73.77 109.32 74.01 109.34 74.26 107.73 74.5 108.52 74.75 109.08 75 109.86 75.24 108.6 75.48 108.84 75.73 110.3 75.97 110.44 76.22 110.07 76.46 112.69 76.71 111.79 77 112.81 77.2 112.37 77.44 113.35 77.69 112.16 77.93 110.05 78.18 112.99 78.42 117.93 78.67 111.96 78.91 111.23 79.16 110.4 79.4 110.9 79.65 111.83 79.9 111.29 80 111.14 80.14 111.16 80.39 111.15 80.63 111.19 80.88 109.28 81.12 110.54 81.37 110.62 81.61 111.42 81.86 111.43 82.1 110.92 82.35 110.18 82.59 110.58 82.84 110.32 83.08 110.3 83.33 111.77 83.57 109.14 83.82 111.13 84 111.37 84.31 111.49 84.55 109.03 84.8 108.25 85 108.17 85.29 107.57 85.53 108.1 85.78 108.08 86.02 108.98 86.27 107.7 86.51 107.29 86.76 107.46 87 107.57 87.25 108.29 87.5 107.15 87.74 106.3 88 107.33 88.23 107.46 88.48 106.59 88.72 107.68 88.97 108.85 89.21 106.64 89.46 107.71 89.7 107.54 90 108.67 90.19 108.99 90.44 107.3 90.68 108.57 90.93 109.88 91.17 110.48 91.42 108.68 91.66 110.08 91.91 110.09 92 110.25 92.15 110.84 92.4 110.8 92.64 110.61 92.89 110.82 93.13 109.63 93.38 107.34 93.62 111.11 93.87 110.39 94.11 109.44 94.36 109.11 94.61 108.33 94.85 108.62 95 108.71 95.1 110.05 95.34 108.95 95.59 107.53 95.83 108.62 96.08 105.42 96.32 104.91 96.5 104.17 96.81 105.76 97.06 103.78 97.3 106.32 97.55 107.51 97.79 108.41 98 108.32 98.28 108.83 98.53 108.65 98.77 108.88 99.02 108.72 99.26 109.86 99.51 110.27 99.75 110.04 100 110.44 100.24 110.86 100.49 111.44 100.73 110.53 100.98 109.64 101.22 110.62 101.47 111.34 101.72 111.71 101.96 109.82 102.21 111.58 102.45 112 102.7 110.89 103 111.53 103.19 111.72 103.43 112.26 103.68 111.03 103.92 111.17 104.17 111.3 104.41 109.98 104.66 109.96 104.9 111.33 105.15 111.46 105.39 110.59 105.64 110.53 105.88 111.98 106.13 110.02 106.37 111.09 106.62 111.03 106.86 110.47 107 108.85 107.11 109.84 107.35 110.29 107.6 107.06 107.84 110.11 108.09 111.42 108.33 109.81 108.58 109.65 108.83 110.42 109.07 111.07 109.32 111.25 109.56 110.28 109.81 111.18 110 111.85 110.3 110.85 110.54 111.1 110.79 111.17 111.03 111.44 111.28 111.93 111.52 111.59 111.77 112.46 112.01 111.63 112.26 110.23 112.5 111.54 112.75 110.65 113 110.79 113.24 112.73 113.48 111.71 113.73 111.77 113.97 111.69 114.22 112.7 114.46 113.59 114.71 112.26 114.95 112.09 115.2 112.13 115.44 113.78 115.69 114.68 116 114.39 116.18 113.84 116.43 112.29 116.67 112.72 116.92 112.81 117.16 111.49 117.41 111.99 117.65 110 117.9 110.64 118 109.54 118.14 110.1 118.39 110.47 118.63 110.92 118.88 109.79 119.12 109.64 119.37 110.76 119.61 110.21 119.86 108.88 120.1 110.55 120.35 109.31 120.59 108.19 120.84 109.34 121.08 108.51 121.33 108.64 121.57 108.64 121.82 107.04 122 110.56 122.31 108.83 122.55 108.44 122.8 109.59 123.04 109.94 123.29 108.58 123.54 110.01 123.78 109.62 124.03 109.9 124.27 110.01 124.52 103.01 124.76 109.64 125.01 109.73 125.25 111.09 125.5 109.63 125.74 109.55 126 109.61 126.23 111.39 126.48 110.36 126.72 111.84 126.97 110.45 127.21 109.84 127.46 109.23 127.7 110.29 127.95 108.88 128.19 109.62 128.44 107.98 128.68 110.04 128.93 109.87 129.17 110.51 129.42 110.88 129.66 109.5 129.91 109.83 130 111.27 130.15 110.39 130.4 109.43 130.65 109.55 130.89 109.62 131.14 108.37 131.38 110.72 131.63 109.58 131.87 109.57 132.12 109.16 132.36 109.79 132.61 110.11 132.85 109.31 133 109.73 133.1 109.88 133.34 109.14 133.59 110.11 133.83 109.82 134.08 109.8 134.32 110.23 134.5 109.55 134.81 108.52 135 109.5 135.3 106.11 135.6 103.13 135.79 93.98 135.9 87.97 136.04 97.86 136.2 112.22 136.28 113.73 136.4 118.63 136.53 102.72 136.8 70.23 137.02 67.63 137.2 64.88 137.51 92.87 137.6 99.94 137.76 74.94 138 40.14 138.3 17.04 138.5 61.04 138.7 9.03 139 78.8 139.23 114.62 139.4 140.21 139.5 142.7 139.72 148.54 139.8 150.77 139.96 169.72 140.1 186.85 140.2 168.67 140.5 120.51 140.7 83.52 140.9 44.86 141 56.33 141.19 79.51 141.3 96.3 141.43 76.5 141.7 41.89 141.8 57.04 142 85.57 142.1 100.75 142.3 74.77 142.41 60.62 142.5 50.25 142.66 67.62 142.9 95.71 143 79.48 143.15 57.32 143.3 35.09 143.39 32.74 143.5 29.95 143.7 24.97 143.8 29.38 143.88 33.89 144 39.59 144.2 18.93 144.37 22.49 144.5 21.59 144.62 38.59 144.9 69.45 145 79.91 145.11 88.25 145.3 104.28 145.5 107.42 145.6 109.22 145.8 111.34 146 112.35 146.09 112.91 146.34 113.24 146.5 113.58 146.58 113.97 146.83 116.63 147 115.37 147.32 116.44 147.56 115.81 147.81 114.85 148 114.63 148.3 113.86 148.54 114.68 148.8 114.38 149.03 114 149.28 113.75 149.5 112.82 149.77 114.35 150 112.08 150.2 113.52 150.5 112.94 150.75 112.68 151 112.15 151.24 113.19 151.48 112.42 151.73 112.34 152 111.38 152.22 113.35 152.47 111.25 152.71 112.27 153 112.17 153.2 111.95 153.45 112.34 153.69 112.61 153.94 111.56 154.18 113.17 154.43 113.21 154.67 113.12 154.92 113.54 155.16 113.59 155.41 112.75 155.65 113.2 155.9 113.41 156.14 109.6 156.39 113.13 156.5 113.9 156.63 115.59 156.88 118.94 157.12 122.13 157.3 124.23 157.61 119.08 157.86 115.98 158 113.55 158.1 113.45 158.35 113.81 158.59 113.79 158.84 112.93 159.08 113.29 159.33 112 159.58 113.3 159.82 112.86 160.07 114.22 160.31 111.48 160.56 111.32 160.8 111.03 161.05 110.83 161.29 111.46 161.54 110.48 161.78 110.83 162 110.42 162.27 111.16 162.52 110.7 162.76 110.53 163.01 110.51 163.25 111.67 163.5 109.66 163.74 110.43 163.99 110.16 164.23 110.4 164.48 110.39 164.72 109.87 165 111.27 165.21 110.17 165.46 111.13 165.7 109.01 165.95 110.55 166.19 109.34 166.44 110.2 166.69 108.66 166.93 109.92 167.18 109.38 167.42 108.98 167.67 108.33 167.91 109.97 168.16 108.99 168.4 108.97 168.65 108.21 168.89 109.23 169.14 109 169.38 108.49 169.63 109.01 169.87 108.85 170 107.34 170.12 108.58 170.36 108.82 170.61 107.44 170.85 109.63 171.1 110.09 171.34 110.23 171.59 108.81 171.83 110.11 172.08 110.44 172.32 112.89 172.57 116.72 172.81 111.15 173 112.45 173.3 110.75 173.55 110.74 173.8 110.73 174.04 109.07 174.29 108.61 174.53 109.26 174.78 108.13 175 106.48 175.27 107.72 175.51 108.17 175.76 108.35 176 109.34 176.25 110.68 176.49 109.97 176.74 110.62 176.98 110.61 177.23 111.29 177.5 110.38 177.72 114.97 177.96 117.07 178.2 119.66 178.45 116.47 178.7 114.34 179 110.25 179.19 108.61 179.43 110.3 179.68 107.97 179.92 109.95 180.17 108.95 180.41 109.57 180.66 109.71 180.9 109.6 181.15 109.53 181.4 110.14 181.64 109.02 181.89 109.62 182.13 108.62 182.38 109.58 182.62 107.55 182.87 108.77 183.11 108.74 183.36 109.3 183.6 107.92 183.85 108.77 184.09 109.94 184.34 107.92 184.58 107.37 184.83 108.67 185 109.18 185.32 109.2 185.56 108.55 185.81 109.11 186.05 107.99 186.3 109.27 186.54 108.53 186.79 109.23 187.03 105.96 187.28 108.71 187.52 109.84 187.77 108.53 188.01 109.64 188.26 107.45 188.51 110.23 188.75 109 189 109.8 189.24 110.1 189.49 110.18 189.73 109.34 190 110.24 190.22 110.38 190.47 110.21 190.71 110.7 190.96 111.31 191.2 109.69 191.45 110.98 191.69 109.23 191.94 111.08 192.18 111.58 192.43 111.75 192.67 111.32 192.92 112.05 193.16 111.33 193.41 111.06 193.5 111.17 193.65 113.26 193.9 114.8 194.14 115.28 194.39 117 194.5 118.11 194.63 116.96 194.88 114.72 195.12 113.42 195.37 111.29 195.5 111.14 195.62 109.92 195.86 111.42 196.11 111.07 196.35 110.08 196.6 110.04 196.84 108.13 197.09 109.37 197.33 109.18 197.58 110.38 197.82 109.04 198.07 108.52 198.31 110.3 198.56 109.28 198.8 108.59 199.05 109.42 199.29 109.16 199.54 108.77 199.78 107.86 200 108.27 200.27 108.77 200.52 109.88 200.76 108.96 201.01 108.65 201.25 109.7 201.5 109.41 201.74 108.74 201.99 109.82 202.23 110.74 202.48 110.56 202.73 108.73 202.97 110.82 203.22 111.1 203.46 110.22 203.71 107.81 203.95 110.9 204.2 109.92 204.44 111.95 204.69 110.54 205 111.97 205.18 110.55 205.42 111.82 205.67 111.15 205.91 110.02 206.16 105.1 206.4 109.7 206.65 105.97 206.89 110.59 207.14 111.84 207.38 111.51 207.63 110 207.87 110.98 208.12 109.34 208.36 110.81 208.61 109.47 208.85 110.3 209.1 111.24 209.34 110.92 209.59 111.29 209.83 111.48 210 110.65 210.08 109.6 210.33 116.38 210.57 110.36 210.82 109.57 211.06 110.78 211.31 110.83 211.55 104.86 211.8 110.39 212.04 110.36 212.29 109.84 212.53 110.35 212.78 111.8 213.02 110.07 213.27 110.86 213.51 108.29 213.76 108.93 214 108.05 214.25 109.05 214.49 109.49 214.74 110.01 215 109.51 215.23 109.84 215.47 109.81 215.72 109.91 215.96 108.96 216.21 109.76 216.45 108.98 216.7 108.71 216.94 109.71 217.19 110.47 217.44 111.02 217.68 110.08 217.93 111.25 218.17 107.49 218.42 109.52 218.66 112.27 218.91 110.01 219.15 110.76 219.4 110 219.64 111.54 219.89 112.66 220 111.43 220.13 111.44 220.38 110.82 220.62 110.35 220.87 111.4 221.11 111.58 221.36 110.68 221.6 112.1 221.85 110.47 222.09 109.82 222.34 111.48 222.58 110.45 222.83 110.28 223.07 110.51 223.32 110.24 223.56 108.7 223.81 109.82 224.05 110.06 224.3 109.3 224.55 111.28 224.79 110.68 225 109.12 225.28 110.16 225.53 109.8 225.77 110.07 226.02 108.75 226.26 111.38 226.51 110.38 226.75 111.61 227 110.06 227.24 110.33 227.49 112.9 227.73 110.73 227.98 108.73 228.22 111.27 228.47 111.79 228.71 111.74 228.96 112.34 229.2 110.54 229.45 112.94 229.69 112.47 230 111.64 230.18 111.72 230.43 111.69 230.67 112.38 230.92 110.51 231.16 111.83 231.41 110.84 231.66 111.43 231.9 110.96 232.15 111.34 232.39 110.56 232.64 112.06 232.88 110.9 233.13 110.4 233.37 110.75 233.62 111.42 233.86 109.66 234.11 111.01 234.35 110.84 234.6 110.73 234.84 108.9 235 109.76 235.09 109.9 235.33 110.45 235.58 110.78 235.82 110.29 236.07 109.54 236.31 110.79 236.56 110.3 236.8 110.76 237.05 110.39 237.29 110.54 237.54 110.87 237.78 111.11 238.03 110.8 238.27 109.45 238.52 110.4 238.77 110.73 239.01 110.3 239.26 111.2 239.5 111.12 239.75 111.18 240 110.25 240.24 107.19 240.48 111.41 240.73 110.45 240.97 111.63 241.22 111.13 241.46 110.66 241.71 111.53 241.95 112.01 242.2 111.42 242.44 110.62 242.69 111.45 242.93 113.11 243.18 113.31 243.42 112.19 243.67 113.11 243.91 113.42 244.16 112.79 244.4 113.14 244.65 112.7 244.89 113.04 245 112.43 245.14 113.27 245.38 113.51 245.63 112.99 245.87 112.39 246.12 111.63 246.37 111.67 246.61 112.08 246.86 112.39 247.1 112.09 247.35 112.21 247.59 110.67 247.84 111.2 248.08 110.26 248.33 110.89 248.57 110.04 248.82 111.14 249.06 109.91 249.31 110.21 249.55 111.69 249.8 109.09 250 109.51 250.29 109.61 250.53 109.17 250.78 107.98 251.02 108.19 251.27 108.55 251.51 107.7 251.76 106.46 252 105.84 252.25 105.26 252.49 104.61 252.74 103.84 252.98 104.5 253.23 102.9 253.48 101.61 253.72 101.16 254 101.22 254.21 102.12 254.46 102.58 254.7 106 254.95 102.28 255.19 103.63 255.44 104.49 255.68 105.59 256 106.62 256.17 105.02 256.42 105.45 256.66 104.78 256.91 103.29 257.15 100.6 257.4 102.7 257.64 100.15 257.89 100.68 258.13 102.86 258.38 99.83 258.62 100.85 258.8 100.93 259.11 101.48 259.36 101.27 259.6 100.57 259.85 101.97 260 101.37 260.09 102.18 260.34 103.22 260.59 103.73 260.83 104.91 261 104.07 261.32 105.07 261.57 103.53 261.81 103.59 262.06 104.21 262.3 103.16 262.55 103.27 262.79 103.75 263.04 103.02 263.28 103.36 263.5 103.97 263.77 103.18 264.02 104.43 264.26 101.61 264.51 103.44 264.75 103.74 265 103.47 265.24 103 265.49 102.51 265.73 102.74 266 102.45 266.22 103.17 266.47 103.02 266.71 105.29 266.96 103.98 267.2 105.22 267.45 106.85 267.7 107.89 268 108.08 268.19 108.14 268.43 105.68 268.68 108.01 268.92 109.11 269.17 110.65 269.41 109.88 269.66 111.73 269.9 114.03 270 107.09 270.15 112.23 270.39 113.09 270.64 112.48 270.88 113.31 271 114.91 271.13 114.41 271.37 114.28 271.62 114.14 271.86 115.15 272 112.84 272.11 114.25 272.35 116.26 272.6 115.96 272.8 116.17 273 116.3 273.09 117.66 273.33 116.65 273.5 114.19 273.82 114.71 274.07 115.1 274.31 115.01 274.5 113.98 274.8 114.23 275.05 113.93 275.3 113.43 275.54 112.9 275.79 112.71 276 111.64 276.28 109.05 276.52 112.26 276.77 113.82 277.01 113.26 277.26 113.54 277.5 113.64 277.75 113.65 277.99 113.78 278.24 112.98 278.48 113.15 278.73 113.1 279 113.88 279.22 113.44 279.46 116.34 279.71 117.08 279.95 116.94 280.2 118.1 280.44 119.6 280.69 119.14 281 121.97 281.18 120.11 281.42 119.03 281.67 115.48 281.91 117.66 282.16 117.3 282.41 115.48 282.65 115.53 282.9 113.99 283 113.18 283.14 112.63 283.39 112.42 283.63 112.38 283.88 112.2 284.12 111.5 284.37 112.66 284.61 111.3 284.86 111.86 285.1 111.66 285.35 111.05 285.59 111.15 285.84 111.19 286 110.93 286.08 109.99 286.33 112.02 286.57 109.95 286.82 110.26 287 110.37 287.31 108.49 287.55 108.39 287.8 108.24 288.04 108.08 288.29 106.9 288.53 107.39 288.78 107.6 289.02 107.11 289.27 107.15 289.52 105.34 289.76 105.76 290.01 105.23 290.25 105.02 290.5 104.67 290.74 104.04 290.99 103.92 291.23 102.81 291.5 102.89 291.72 103.88 291.97 103.5 292.21 106.12 292.46 103.76 292.7 103.63 292.95 105.84 293.19 104.38 293.44 105.38 293.68 104.74 293.93 105.67 294.17 106.86 294.42 106.23 294.66 105.63 294.91 107.36 295 107.26 295.15 106.17 295.4 106.96 295.64 106.24 295.89 106.13 296.13 106.52 296.38 105.53 296.63 105.31 296.87 104.98 297.12 104.08 297.36 104.69 297.61 105.43 297.85 104.09 298 104.43 298.1 102.67 298.34 104.61 298.59 104.81 298.83 104.41 299 105.59 299.32 106.72 299.57 106.87 299.81 106.35 300.06 106.48 300.3 106.12 300.55 105.83 300.79 107.36 301.04 106.86 301.28 106.61 301.53 100.89 301.77 107.75 302 108.4 302.26 107.94 302.51 107.97 302.75 108.8 303 107.03 303.24 107.8 303.49 108.12 303.73 106.1 303.98 106.02 304.23 106.2 304.47 105.65 304.72 105.93 305 107.53 305.21 106.34 305.45 107.6 305.7 109.72 305.94 109.16 306.19 110.55 306.5 110.79 306.68 117.4 306.92 117.62 307.17 121.24 307.4 122.52 307.66 119.94 307.9 117.32 308.15 106.6 308.39 111.05 308.5 110.51 308.64 109.41 308.88 109.57 309.13 109.18 309.37 109.26 309.62 109.07 309.86 108.69 310.11 109.15 310.35 109.09 310.6 109.2 310.84 107.96 311.09 108.3 311.34 108.3 311.58 108.12 311.83 107.16 312 97.28 312.32 106.13 312.56 106.92 312.81 107.22 313.05 108.14 313.3 107.5 313.54 107.95 313.79 108.7 314.03 107.69 314.28 106 314.52 107.38 314.77 107.24 315 108.06 315.26 107.27 315.5 106.74 315.75 107.14 315.99 107.4 316.24 106.51 316.48 110.28 316.73 107.86 316.97 106.33 317.22 106.64 317.46 108.93 317.71 108 317.95 107.77 318.2 110.18" stroke="#2ca02c" stroke-width="0.8" stroke-opacity="1" fill="none" stroke-linejoin="round" clip-path="url(#clipa)"/>
<path d="M22.1 7.5V191.4M332.3 7.5V191.4" stroke="#000" stroke-opacity="0.26" stroke-width="1.3" fill="none"/>
<path d="M21.7 7.5H332.7M21.7 191.4H332.7" stroke="#000" stroke-opacity="0.26" stroke-width="1.3" fill="none"/>
<path d="M33.6 191.4v1.4M64.79 191.4v1.4M95.46 191.4v1.4M126.65 191.4v1.4M157.5 191.4v1.4M188.68 191.4v1.4M219.36 191.4v1.4M250.55 191.4v1.4M281.22 191.4v1.4M312.41 191.4v1.4M22.3 36.5h-1.4M22.3 100.5h-1.4M22.3 110.4h-1.4M22.3 120.4h-1.4M22.3 184.4h-1.4" stroke="#000" stroke-opacity="0.5" stroke-width="0.5" fill="none"/>
<text x="33.6" y="197.8" font-size="5.5" text-anchor="middle" textLength="20" lengthAdjust="spacingAndGlyphs">2018-07</text>
<text x="64.79" y="197.8" font-size="5.5" text-anchor="middle" textLength="20" lengthAdjust="spacingAndGlyphs">2019-01</text>
<text x="95.46" y="197.8" font-size="5.5" text-anchor="middle" textLength="20" lengthAdjust="spacingAndGlyphs">2019-07</text>
<text x="126.65" y="197.8" font-size="5.5" text-anchor="middle" textLength="20" lengthAdjust="spacingAndGlyphs">2020-01</text>
<text x="157.5" y="197.8" font-size="5.5" text-anchor="middle" textLength="20" lengthAdjust="spacingAndGlyphs">2020-07</text>
<text x="188.68" y="197.8" font-size="5.5" text-anchor="middle" textLength="20" lengthAdjust="spacingAndGlyphs">2021-01</text>
<text x="219.36" y="197.8" font-size="5.5" text-anchor="middle" textLength="20" lengthAdjust="spacingAndGlyphs">2021-07</text>
<text x="250.55" y="197.8" font-size="5.5" text-anchor="middle" textLength="20" lengthAdjust="spacingAndGlyphs">2022-01</text>
<text x="281.22" y="197.8" font-size="5.5" text-anchor="middle" textLength="20" lengthAdjust="spacingAndGlyphs">2022-07</text>
<text x="312.41" y="197.8" font-size="5.5" text-anchor="middle" textLength="20" lengthAdjust="spacingAndGlyphs">2023-01</text>
<text x="18.1" y="38.5" font-size="5.5" text-anchor="end">10</text>
<text x="18.2" y="36.4" font-size="3.6">2</text>
<text x="18.1" y="102.5" font-size="5.5" text-anchor="end">10</text>
<text x="18.2" y="100.4" font-size="3.6">1</text>
<text x="19.5" y="112.4" font-size="5.5" text-anchor="end">0</text>
<text x="18.1" y="122.4" font-size="5.5" text-anchor="end">−10</text>
<text x="18.2" y="120.3" font-size="3.6">1</text>
<text x="18.1" y="186.4" font-size="5.5" text-anchor="end">−10</text>
<text x="18.2" y="184.3" font-size="3.6">2</text>
<text x="177.3" y="204.3" font-size="5.8" text-anchor="middle" textLength="13" lengthAdjust="spacingAndGlyphs">Date</text>
<text transform="translate(5 99.45) rotate(-90)" font-size="5.6" text-anchor="middle" textLength="11.6" lengthAdjust="spacingAndGlyphs">USD</text>
<text x="126.5" y="5.4" font-size="7.6" textLength="48.4" lengthAdjust="spacingAndGlyphs">Tracking error</text>
<text x="177.4" y="5.4" font-size="7.6" font-style="italic" textLength="6" lengthAdjust="spacingAndGlyphs">Z</text>
<text x="183.3" y="6.7" font-size="5.2" font-style="italic">t</text>
<text x="188.4" y="5.4" font-size="7.6">(</text>
<text x="190.4" y="5.4" font-size="7.6" font-style="italic" textLength="7" lengthAdjust="spacingAndGlyphs">m</text>
<text x="197.4" y="6.7" font-size="5.2">0</text>
<text x="201.4" y="5.2" font-size="7.6" textLength="5.6" lengthAdjust="spacingAndGlyphs">=</text>
<text x="208.6" y="5.4" font-size="7.6" textLength="16.6" lengthAdjust="spacingAndGlyphs">0.75</text>
<text x="225.4" y="5.4" font-size="7.6">)</text>
<rect x="258.8" y="10.5" width="71" height="29.3" rx="1" fill="#fff" fill-opacity="0.8" stroke="#d0d0d0" stroke-opacity="0.8" stroke-width="0.5"/>
<text x="294.3" y="15.3" font-size="4" text-anchor="middle" textLength="35.5" lengthAdjust="spacingAndGlyphs">Hedging method</text>
<path d="M260.4 20.4h10.5" stroke="#1f77b4" stroke-opacity="0.55" stroke-width="1"/>
<text x="274.8" y="22.1" font-size="4.8" textLength="12.8" lengthAdjust="spacingAndGlyphs">Delta</text>
<path d="M260.4 27.65h10.5" stroke="#ff7f0e" stroke-opacity="0.55" stroke-width="1"/>
<text x="274.8" y="29.35" font-size="4.8" textLength="25.5" lengthAdjust="spacingAndGlyphs">Delta-vega</text>
<path d="M260.4 34.9h10.5" stroke="#2ca02c" stroke-opacity="0.55" stroke-width="1"/>
<text x="274.8" y="36.6" font-size="4.8" textLength="53" lengthAdjust="spacingAndGlyphs">Data-driven (VolGAN)</text>
<g font-family="'Liberation Serif', serif" fill-opacity="0.8">
<text x="126.4" y="227" font-size="14">(</text>
<text x="138" y="227" font-size="14">)</text>
<text x="134.85" y="226.1" font-size="12.6" text-anchor="middle">a</text>
<text x="147.7" y="226.1" font-size="12.6" font-style="italic" textLength="10.8" lengthAdjust="spacingAndGlyphs">m</text>
<text x="159.5" y="228.4" font-size="8.8">0</text>
<text x="169.1" y="226.1" font-size="12.6" textLength="9.6" lengthAdjust="spacingAndGlyphs">=</text>
<text x="182.5" y="226.1" font-size="12.8" textLength="23.6" lengthAdjust="spacingAndGlyphs">0.75</text>
</g>
<clipPath id="clipb"><rect x="374.4" y="7.5" width="310" height="183.9"/></clipPath>
<path d="M385.7 7.5V191.4M416.89 7.5V191.4M447.56 7.5V191.4M478.75 7.5V191.4M509.6 7.5V191.4M540.78 7.5V191.4M571.46 7.5V191.4M602.65 7.5V191.4M633.32 7.5V191.4M664.51 7.5V191.4M374.4 47.4H684.4M374.4 103.5H684.4M374.4 112.4H684.4M374.4 121.1H684.4M374.4 176.5H684.4" stroke="#b0b0b0" stroke-opacity="0.45" stroke-width="0.9" fill="none"/>
<path d="M388.6 113.88 388.85 112.86 389.09 111.99 389.34 112.96 389.58 112.7 389.83 113.09 390.07 114.08 390.32 114.06 390.56 118.83 390.81 114.28 391.05 113.18 391.3 113.25 391.54 112.77 391.79 114.22 392 112.46 392.28 115.18 392.52 114.93 392.77 113.24 393.01 112.85 393.26 113.72 393.5 112.7 393.75 111.51 393.99 112.34 394.24 112.58 394.48 112.75 394.73 112.45 394.97 112.12 395.22 111.19 395.46 114.84 395.71 112.5 396 111.42 396.2 112.69 396.45 112.16 396.69 112.16 396.94 112.26 397.18 113.25 397.43 111.58 397.67 113.09 397.92 112.55 398.16 112.97 398.41 113.78 398.65 112.83 398.9 113.7 399.14 112.79 399.39 112.91 399.63 112.86 399.88 111.85 400 113.72 400.12 112.21 400.37 113.08 400.61 114.22 400.86 112.84 401.1 113.37 401.35 112.83 401.59 113.41 401.84 113.85 402.08 112.58 402.33 114.06 402.57 113.73 402.82 116.84 403 114.76 403.31 115.15 403.56 116.2 403.8 116.59 404.05 116.79 404.29 117.42 404.54 118.69 404.78 120.01 405.03 120.22 405.2 120.31 405.52 116.32M406 113.44 406.25 113.95 406.5 106.94 406.74 113.35 406.99 113.63 407.23 114.05 407.48 113.46 407.72 112.75 407.97 112.47 408.21 112.17 408.46 113.94 408.7 113.26 408.95 113.14 409.19 114.47 409.44 112.75 409.68 113.73 410 112.28 410.17 113.81 410.42 112.87 410.67 113.3 410.91 113.94 411.16 114.57 411.4 113.14 411.65 113.62 411.89 116.55 412.14 113.4 412.38 113.18 412.63 109.11 412.87 114.33 413 113.23 413.12 114.35 413.36 114.7 413.61 114.85 413.85 115.75 414.1 115.32 414.34 114.37 414.59 112.42 414.83 116.51 415.08 115.33 415.32 116.21 415.5 116.32 415.81 123.82 416.06 129.55 416.2 131.69 416.3 128.71 416.55 124.57 416.79 119.67 417 113.13 417.28 114.21 417.53 114.16 417.78 114.64 418.02 114.19 418.27 112.03 418.51 113.45 418.76 111.6 419 110.97 419.25 110.86 419.49 111.45 419.74 112.68 419.98 110.24 420.23 109.12 420.47 110 420.72 110.56M421.21 109.01 421.45 108.86 421.7 107.68 422 107.31 422.19 109.35 422.43 108.54 422.68 108.72 422.92 108.98 423.17 109.42 423.41 108.78 423.66 108.8 423.9 110.46 424.15 109.07 424.39 110.47 424.64 110.44 424.89 110.16 425 110.58 425.13 109.35 425.38 109.01 425.62 109.56 425.87 111.6 426.11 109.9 426.36 110.08 426.6 111.18 426.85 111.58 427.09 110.82 427.34 111.37 427.58 110.72 427.83 110.88 428.07 111.23 428.32 110.53 428.56 110.66 428.81 110.69 429.05 110.51 429.3 111.51 429.54 110.76 429.79 111.86 430 110.28 430.28 111.33 430.52 111.81 430.77 111.66 431.01 110.06 431.26 111.21 431.5 110.33 431.75 111.74 432 112.9 432.24 111.24 432.49 111.71 432.73 111.38 432.98 111.81 433.22 112.49 433.47 115.89 433.71 113 433.96 112.28 434.2 111.68 434.45 112.31 434.69 112.3 435 113.18 435.18 112.54 435.43 112.3 435.67 111.47 435.92 112.84 436.16 112.14 436.41 112.9 436.65 112.54 436.9 112.87 437.14 111.95 437.39 111.4 437.63 112.38 437.88 112.12 438.12 112.19 438.37 111.78 438.61 111.37 438.86 112.19 439.1 112 439.35 111.19 439.6 111.31 439.84 112.13 440 110.7 440.09 111.32 440.33 110.2 440.58 110.72 440.82 109.66 441.07 109.06 441.31 110.41 441.56 109.65 441.8 109.28 442.05 109.47 442.29 110.32 442.54 112.26 442.78 110.04 443.03 110.05 443.27 109.93 443.52 110.02 443.76 109.42 444.01 110.25 444.25 109.98 444.5 110.85 444.74 111.46 445 109.58 445.23 109.7 445.48 109.95 445.72 110.85 445.97 110.68 446.21 109.19 446.46 107.97 446.71 109.07 446.95 109.96 447.2 107.58 447.44 107.89 447.69 108.2 447.93 107.33 448.18 107.04 448.42 108.08 448.67 108.17 448.91 107.76 449 108.11 449.16 106.93 449.4 107.74 449.65 108.3 449.89 108.15 450.14 108.56 450.38 108.62 450.63 109.27 450.87 108.65 451.12 109.43 451.36 109.38 451.61 109.1 451.85 109.06 452 110.15 452.1 110.56 452.34 109.76 452.59 111.83 452.83 111.46 453.08 110.49 453.32 109.88 453.57 109.07 453.82 109.77 454.06 112.43 454.31 109.38 454.55 108.88 454.8 110.29 455.04 109.9 455.29 110.97 455.53 110.98 455.78 112.85 456.02 109.75 456.27 111.1 456.51 112.7 456.76 112.62 457 112.76 457.25 111.84 457.49 111.34 457.74 114.23 458 112.09 458.23 111.75 458.47 111.4 458.72 112.14 458.96 112.78 459.21 111.84 459.45 112.08 459.7 112.97 459.94 112.35 460.19 112.25 460.43 111.77 460.68 111.66 460.93 111.11 461.17 111.83 461.42 112.55 461.66 110.91 461.91 110.46 462.15 111.34 462.4 107.01 462.64 113.34 462.89 111.39 463 110.45 463.13 110.85 463.38 111.63 463.62 110.86 463.87 112.05 464.11 110.96 464.36 106 464.6 111.97 464.85 111.78 465.09 110.73 465.34 111.03 465.58 111.81 465.83 112.04 466.07 111.69 466.32 112.87 466.56 112.72 466.81 113.79 467.05 113.48 467.3 111.74 467.54 113.09 467.79 112.75 468 112.53 468.28 113.45 468.53 109.52 468.77 112.76 469.02 112.63 469.26 113.01 469.51 112.45 469.75 112.05 470 112.35 470.24 111.61 470.49 108.3 470.73 111.68 470.98 110.85 471.22 104.19 471.47 110.48 471.71 110.5 472 110.42 472.2 112.43 472.45 110.6 472.69 111.09 472.94 109.71 473.18 114.22 473.43 109.79 473.67 109.65 473.92 109.07 474.16 109.15 474.41 108.69 474.65 109.85 474.9 108.17 475.14 108.23 475.39 107.84 475.64 108.39 475.88 107.77 476.13 107.14 476.37 108.05 476.5 106.96 476.62 106.45 476.86 108.58 477.11 110.79 477.35 107.29 477.6 109.57 477.84 110.42 478.09 109.5 478.33 106.91 478.58 110.32 478.82 111.3 479 109.64 479.31 111.45 479.56 111.08 479.8 110.74 480.05 111.47 480.29 111.2 480.54 112.51 480.78 113.18 481.03 112.24 481.27 112.83 481.52 112.96 481.76 112.28 482.01 111.84 482.25 110.83 482.5 112.31 482.75 113.75 483 112.95 483.24 114.2 483.48 112.68 483.73 113.98 483.97 112.89 484.22 113.62 484.46 113.17 484.71 114.35 484.95 114.2 485.2 113.6 485.44 113.24 485.69 112.76 486 112.28 486.18 112.12 486.42 112.19 486.67 111.79 486.91 112.76 487 112.08 487.16 108.04 487.4 101.91 487.5 101.01 487.65 94.01 487.89 84.7 488 79.96 488.14 74.49 488.38 62.79 488.5 58.7 488.63 71.61 488.9 100.66 489.12 78.3 489.3 60.52 489.61 47.43 489.8 41.75 490.1 67.2 490.2 75.27 490.35 53.75 490.5 31.15 490.59 25.88 490.8 8.63 491.08 50.18 491.2 69.4 491.33 86.43 491.5 104.23 491.7 128.55 491.82 143.75 492.06 171.67 492.2 187.67 492.31 166.42 492.6 109.91 492.8 78.65 493 49.77 493.29 83.3 493.4 95.31 493.6 112.91 493.8 131.58 494 150.47 494.2 169.05 494.51 142.53 494.6 136.25 494.8 119.81 495 108.96 495.3 92.13 495.4 85.42 495.5 79.97 495.8 69.04 496 60.85 496.3 80.89 496.47 91.6 496.6 99.67 496.72 103.01 496.9 103.9 497 104.38 497.21 108.86 497.5 112.49 497.7 114.13 497.95 115.71 498.19 117.24 498.5 119.61 498.68 120.93 499 122.76 499.17 125.41 499.42 126.19 499.7 128.34 499.91 125.12 500 123.82 500.15 122.41 500.4 118.38 500.5 118.92 500.64 120.21 500.89 122.86 501 125.6 501.1 128.22 501.38 123.53 501.5 121.62 501.62 120.44 501.87 116.32 502 113.83 502.11 113.29 502.3 114.03 502.6 113.84 502.85 114.68 503 114.15 503.09 113.79 503.34 112.99 503.5 112.99 503.58 113.32 503.83 113.4 504.07 113.44 504.32 112.43 504.57 112.13 504.81 113.58 505 112.26 505.3 113.08 505.55 113.94 505.79 113.72 506 115.22 506.28 117.36 506.53 117.45 506.77 118.8 507 118.97 507.26 119.47 507.51 121.45 507.75 122.69 508 123.22 508.24 123.63 508.49 124.5 508.73 125.91 508.98 125.79 509.3 126.18 509.5 124.64 509.71 122.09 509.96 121.15 510.2 118.39 510.5 114.92 510.69 115.68 511 114.56 511.18 115.68 511.43 115.13 511.68 115.98 511.92 114.23 512.17 110.62 512.41 112.76 512.66 113.71 512.9 111.08 513.15 110.54 513.39 110.03 513.64 113.36 513.88 116.04 514.13 113.54 514.37 113.63 514.62 110.2 514.86 110.17 515 108.68 515.11 108.35 515.35 107.35 515.6 106.79 515.84 109.39 516.09 109.46 516.33 110.26 516.58 110.05 516.82 111.12 517.07 107.01 517.31 108.13 517.56 109.82 517.8 112.62 518.05 109.33 518.29 109.46 518.54 113.36 518.79 112.68 519.03 111.15 519.28 111.24 519.52 111.48 519.77 102.6 520 111.02 520.26 112.17 520.5 111.47 520.75 114.34 520.99 112.83 521.24 113.5 521.48 115.2 521.73 115.74 521.97 119.04 522.22 118.67 522.46 116.48 522.71 118.58 523 118.9 523.2 115.15 523.44 116.54 523.69 116.1 523.93 114.27 524.18 113.96 524.42 110.54 524.67 112.62 524.91 111.44 525.16 112.36 525.4 108.65 525.65 107.14 525.9 104.77 526 103.54 526.14 106.44 526.39 106.56 526.63 107.01 526.88 105.22 527.12 104.39 527.37 107.09 527.61 106.5 527.86 114.4 528.1 106.39 528.35 107.72 528.59 107.17 528.84 102.6 529.08 103.34 529.33 104.53 529.6 101 529.82 107.71 530.06 107.43 530.31 112.54 530.55 112.3 530.7 121.9 530.8 114.93 531 113.68 531.29 113.48 531.53 113.62 531.78 113.15 532.02 115.34 532.27 114.53 532.51 112.74 532.76 109.79 533 112.01 533.25 112.28 533.5 115.98 533.74 111.58 533.99 105.71 534.23 109.8 534.48 111.15 534.72 110.04 535 110.77 535.21 110.99 535.46 111.66 535.7 110.94 535.95 110.64 536.19 109.07 536.44 110.18 536.68 111.1 536.93 112.5 537.17 112.06 537.42 111.46 537.66 112.2 537.91 111.88 538.15 110.34 538.4 112.97 538.64 112.65 538.89 112.69 539.13 109.96 539.38 111.41 539.62 111.2 539.87 111.01 540 111.23 540.11 110.95 540.36 111.33 540.61 112.8 540.85 113.45 541.1 110.99 541.34 112.38 541.59 108.8 541.83 110.91 542.08 110.55 542.32 111.48 542.57 110.04 542.81 111 543.06 111.4 543.3 109.31 543.55 108.7 543.79 109.22 544.04 107.22 544.28 109.53 544.53 109.28 544.77 107.85 545 108.97 545.26 109.54 545.51 104.5 545.75 105.3 546 107.06 546.24 107.06 546.49 108.68 546.73 107.26 546.98 105.94 547.22 106.02 547.47 106.66 547.72 107.65 547.96 106.51 548.21 106.36 548.45 106.46 548.7 104.94 549 104.64 549.19 106.61 549.43 105.06 549.68 105.19 549.92 107.71 550.17 106.27 550.41 103.42 550.66 103.68 550.9 104.28 551 102.74 551.15 104.79 551.39 104.39 551.64 105.01 551.88 108.8 552.13 108.49 552.37 109.54 552.62 105.94 552.86 113.71 553.11 112.26 553.35 112.3 553.6 113.65 553.84 113.16 554.09 115.62 554.33 118.19 554.58 117.55 554.83 119.61 555 119.86 555.32 118.16 555.56 116.67 555.81 118.11 556.05 113.33 556.3 115.94 556.54 115 556.79 115.52 557 114.36 557.28 111.52 557.52 112.43 557.77 112.26 558.01 111.14 558.26 110.37 558.5 112.73 558.75 111.74 558.99 114.52 559.24 114.42 559.48 114.98 559.73 114 560 113.66 560.22 114.11 560.46 114.95 560.71 113.54 560.95 111.98 561.2 110.41 561.44 109.8 561.69 110.54 562 112.46 562.18 110.74 562.43 112.41 562.67 111.16 562.92 111.15 563.16 112.27 563.41 113.15 563.65 112.8 563.9 112.51 564.14 111.99 564.39 110.65 564.63 110.93 564.88 103.43 565.12 107.2 565.37 108.51 565.61 111.49 565.86 112.44 566.1 111.01 566.35 113.24 566.59 112.07 566.84 110.15 567 111.41 567.08 111.37 567.33 111.84 567.57 112.76 567.82 112.1 568.06 111.18 568.31 112.8 568.55 112.19 568.8 112.67 569.04 112.76 569.29 112.12 569.54 111.81 569.78 111.73 570.03 111.92 570.27 110.89 570.52 112.26 570.76 112.7 571.01 113.35 571.25 111.79 571.5 112.55 571.74 113.93 572 115.05 572.23 112.48 572.48 112.47 572.72 112.19 572.97 112.03 573.21 112.75 573.46 112.61 573.7 111.75 573.95 113.43 574.19 111.54 574.44 111.28 574.68 115.57 574.93 113.83 575.17 112.33 575.42 112.14 575.66 115.29 575.91 112.7 576.15 110.51 576.4 111.64 576.65 106.02 576.89 110.51 577 112.35 577.14 111.67 577.38 111.45 577.63 110.87 577.87 110.02 578.12 112.28 578.36 113.36 578.61 113.36 578.85 113.08 579.1 113.27 579.34 112.45 579.59 110.98 579.83 112.76 580.08 114.18 580.32 113.4 580.57 112.92 580.81 113.48 581.06 113.82 581.3 116.05 581.55 116.03 581.79 113.44 582 113.38 582.28 113.55 582.53 115.98 582.77 112.48 583.02 114.4 583.26 112.43 583.51 112.71 583.76 112.75 584 115.86 584.25 116.66 584.49 114.14 584.74 113.56 584.98 113.69 585.23 111.81 585.47 112.13 585.72 112.19 585.96 110.64 586.21 112.42 586.45 112.05 586.7 114.31 587 113.78 587.19 113.36 587.43 112.99 587.68 112.06 587.92 111.85 588.17 113.3 588.41 111.77 588.66 111.83 588.9 115.6 589.15 112.39 589.39 112.64 589.64 112.68 589.88 112.83 590.13 111.96 590.37 114.93 590.62 112.26 590.87 114.4 591.11 115.29 591.36 113.51 591.6 113 591.85 112.16 592 110.55 592.09 111.97 592.34 112.68 592.58 114.62 592.83 114.2 593.07 112.76 593.32 112.75 593.56 110.76 593.81 107.28 594.05 111.27 594.3 113.26 594.54 112.06 594.79 115.84 595.03 113.22 595.28 112.83 595.52 114.37 595.77 110.75 596.01 111.01 596.26 110.87 596.5 113.2 596.75 113.72 597 112.04 597.24 110.45 597.48 110.83 597.73 111.14 597.97 110.52 598.22 111.39 598.47 112.03 598.71 110.81 598.96 112.15 599.2 109.31 599.45 109.88 599.69 109.39 600 107.74 600.18 108.94 600.43 108.44 600.67 106.95 600.92 107.98 601.16 103.2 601.41 106.38 601.65 109.77 601.9 107.85 602 107.49 602.14 110.85 602.39 108.86 602.63 95.8 602.88 108.35 603.12 104.64 603.37 106.41 603.61 104.97 603.86 103.38 604.1 109.69 604.35 102.91 604.59 98.57 604.84 104.29 605.08 101.91 605.33 100.94 605.58 104.15 605.82 101.92 606.07 100.93 606.31 102.93 606.4 102 606.56 101.96 606.8 102.55 607.05 100.6 607.29 109.07 607.54 102.19 607.78 106.21 608.03 106.93 608.27 103.31 608.52 105.53 608.76 107.43 609 109.34 609.25 107.44 609.5 109.6 609.74 109.5 609.99 108.94 610.23 106.75 610.48 106.41 610.72 107.08 610.97 105.77 611.21 105.53 611.46 105.8 611.7 106.12 612 106.43 612.19 106.37 612.44 105.65 612.69 104.2 612.93 106.35 613.18 106.53 613.42 107.48 613.67 104.6 613.91 105.01 614.16 107.79 614.4 105.4 614.65 106.57 614.89 103.72 615 104.13 615.14 105.24 615.3 103.91 615.38 104.6 615.63 105.22 615.87 104.15 616.12 103.3 616.36 105.63 616.61 105.14 616.85 106.73 617.1 106.84 617.34 105.6 617.59 108.26 617.83 106.95 618 108.87 618.32 107.57 618.57 107.16 618.81 103.93 619.06 106.1 619.3 106.13 619.55 99.08 619.8 104.86 620.04 104.1 620.29 102.48 620.53 102.34 620.78 102.63 621 103.63 621.27 105.38 621.51 104.31 621.76 104.86 622 106.48 622.25 107.98 622.49 108.82 622.74 109.21 623 112.32 623.23 112.94 623.47 114.65 623.72 118.04 623.96 120.4 624.21 124.77 624.45 129.68 624.7 130.92 625 119.95 625.19 127.12 625.43 125.14 625.68 121.06 626 119.97 626.17 118.63 626.3 119.03 626.41 118.06 626.66 118.09 626.9 116.28 627.2 114.62 627.4 114.68 627.64 111.88 627.89 111.19 628 111.64 628.13 114.02 628.38 116.37 628.62 115.61 628.87 117.62 629.11 118.07 629.36 117.56 629.6 120.72 629.85 123.12 630.09 123.79 630.34 127.71 630.58 127.14 630.83 129.47 631 130.26 631.32 125.65 631.56 122.78 631.81 123.86 632.05 121.13 632.3 120.21 632.54 118.83 632.79 115.9 633 116.57 633.28 119.86 633.52 116.75 633.77 113.69 634.01 120.61 634.26 112.81 634.51 115.81 634.75 112.01 635 107.76 635.24 112.83 635.49 113.37 635.73 112.93 635.98 111.13 636.22 109.69 636.47 105.61 636.71 107.76 637 108.89 637.2 109.99 637.45 110.5 637.69 110.48 637.94 110.42 638.18 109.19 638.43 110.47 638.67 109.63 638.92 106.43 639.16 109.61 639.41 109.12 639.65 109.1 639.9 108.3 640 109.02 640.14 108.57 640.39 109.21 640.63 108.26 640.88 109.84 641.12 108.42 641.37 107.33 641.62 109.1 641.86 107.95 642 108.61 642.11 108.43 642.35 108.72 642.6 110.26 642.84 106.12 643.09 106.44 643.33 109.09 643.58 109.9 643.82 112.42 644.07 112.81 644.31 112.53 644.56 112.8 644.8 114.82 645 112.77 645.29 112.69 645.54 112.48 645.78 112.71 646.03 112.9 646.27 114.14 646.52 112.5 646.76 112.78 647.01 112.92 647.25 110.42 647.5 113.66 647.8 113.85 648 112.09 648.23 109.5 648.48 108.62 648.73 111.11 648.97 110.45 649.22 109.9 649.46 109.76 649.71 108.42 650 122 650.2 107.66 650.44 107.18 650.69 108.23 651 107.53 651.18 108.62 651.42 103.67 651.67 105.07 651.91 105.9 652.16 105.34 652.4 105.58 652.65 104.98 652.89 104.22 653 104.49 653.2 105.44 653.38 106.1 653.63 108.11 653.87 108.6 654.12 107.64 654.36 109.04 654.61 108.51 654.85 109.7 655.1 109.19 655.34 108.64 655.59 109.51 655.83 114.29 656 110.25 656.08 109.54 656.33 110.55 656.57 111.45 656.82 108.81 657.06 109 657.31 106.98 657.55 105.98 657.8 103.87 658.04 104.09 658.29 103.44 658.53 103.46 658.78 102.4 659 102.72 659.27 109.92 659.51 117.89 659.7 125.8 660 121.79 660.25 117.11 660.49 114.2 660.74 112.78 661 110.14 661.23 109.69 661.47 109.41 661.72 108.56 661.96 111.42 662.21 107.56 662.45 109.64 662.7 108.98 662.94 108.49 663.19 109.36 663.44 109.08 663.68 109.43 663.93 108.58 664.17 109.19 664.42 108.35 664.66 104.29 664.91 108.76 665 107.12 665.15 106.08 665.4 106.88 665.64 107.13 665.89 108.19 666.13 109.48 666.38 107.89 666.62 106.57 666.87 106.96 667.11 108.49 667.36 123.01 667.6 103.81 667.85 106.98 668.09 106.42 668.34 107.49 668.58 107.94 668.83 110.38 669.07 108.54 669.32 108.45 669.56 108.51 669.81 107.21 670.05 110.2 670.3 109.44" stroke="#1f77b4" stroke-width="0.8" stroke-opacity="1" fill="none" stroke-linejoin="round" clip-path="url(#clipb)"/>
<path d="M388.6 113.88 388.85 113.25 389.09 111.98 389.34 112.97 389.58 111.69 389.83 113.35 390.07 113.98 390.32 114.11 390.56 118.49 390.81 114.66 391.05 113.31 391.3 113.18 391.54 112.92 391.79 114.06 392 112.21 392.28 114.81 392.52 114.69 392.77 113.17 393.01 113.5 393.26 113.99 393.5 112.86 393.75 111.57 393.99 112.31 394.24 112.35 394.48 112.72 394.73 112.36 394.97 112.13 395.22 110.93 395.46 114.89 395.71 112.63 396 111.4 396.2 112.68 396.45 111.88 396.69 112.46 396.94 112.06 397.18 111.7 397.43 111.12 397.67 112.93 397.92 112.77 398.16 112.64 398.41 113.61 398.65 112.77 398.9 113.86 399.14 112.54 399.39 112.31 399.63 112.34 399.88 112.02 400 113.93 400.12 112.49 400.37 112.94 400.61 114.29 400.86 113.13 401.1 114.11 401.35 113.32 401.59 113.52 401.84 114.13 402.08 112.44 402.33 114.08 402.57 113.99 402.82 116.59 403 114.48 403.31 114.88 403.56 116.57 403.8 116.37 404.05 117.06 404.29 117.7 404.54 118.72 404.78 119.28 405.03 120.13 405.2 120.41 405.52 115.99 405.76 114.55 406 113.23 406.25 113.66 406.5 106.97 406.74 112.98 406.99 113.75 407.23 114 407.48 113.77 407.72 112.76 407.97 112.54 408.21 112.74 408.46 114.19 408.7 113.42 408.95 113.42 409.19 113.86 409.44 112.64 409.68 113.24 410 112.09 410.17 113.49 410.42 113.01 410.67 112.94 410.91 113.71 411.16 114.09 411.4 113.87 411.65 113.89 411.89 117.07 412.14 113.79M413.12 114.36 413.36 114.84 413.61 114.89 413.85 115.98 414.1 114.82 414.34 114.13 414.59 112.46 414.83 116.5 415.08 115.49 415.32 116.08 415.5 116.51 415.81 123.8 416.06 129.2 416.2 132.41 416.3 128.56 416.55 124.7 416.79 119.88 417 113.47 417.28 114.62 417.53 114.38 417.78 115.02 418.02 113.7 418.27 111.99 418.51 113.24 418.76 111.83 419 111.12 419.25 111.21 419.49 111.77 419.74 113.09 419.98 110.41 420.23 109.01 420.47 110.13 420.72 110.49 420.96 109.97 421.21 108.71 421.45 109.1 421.7 108.11 422 107.59 422.19 109.36 422.43 108.71 422.68 108.12 422.92 108.19 423.17 109.28 423.41 108.47 423.66 108.34 423.9 110.32 424.15 109.75 424.39 110.63 424.64 110.64 424.89 110.67 425 110.78 425.13 109.37 425.38 109.04 425.62 109.36 425.87 111.51 426.11 108.93 426.36 109.89 426.6 110.76 426.85 111.16 427.09 110.54 427.34 111.08 427.58 110.75 427.83 110.94 428.07 111.22 428.32 110.07 428.56 110.46 428.81 110.77 429.05 110.15 429.3 111.37 429.54 110.64 429.79 111.97 430 110.16 430.28 111.23 430.52 111.71 430.77 111.77 431.01 110.72 431.26 111.38 431.5 110.58 431.75 111.42 432 111.62 432.24 110.93 432.49 111.75 432.73 111.45 432.98 111.79 433.22 112.65 433.47 115.3 433.71 112.95 433.96 112.55 434.2 111.68 434.45 112.3 434.69 112.12 435 113.36 435.18 113.56 435.43 112.81 435.67 112.19 435.92 113.95 436.16 112.24 436.41 112.96 436.65 112.18 436.9 113.2 437.14 111.97 437.39 111.63M437.88 112.19 438.12 112.2 438.37 111.66 438.61 111.31 438.86 112.14 439.1 111.64 439.35 112.11 439.6 111.87 439.84 112.65 440 111.18 440.09 111.28 440.33 110.37 440.58 110.49 440.82 110.26 441.07 109.36 441.31 110.39 441.56 109.56 441.8 109.96 442.05 109.56 442.29 110.51 442.54 112.52 442.78 109.69 443.03 109.98 443.27 109.88 443.52 110.1 443.76 109.47 444.01 109.71 444.25 110.28 444.5 110.8 444.74 111.42 445 109.89 445.23 109.67 445.48 109.68 445.72 110.99 445.97 111.39 446.21 109.64 446.46 108.38 446.71 109.59 446.95 110.34 447.2 107.62 447.44 107.82 447.69 108.05 447.93 107.02 448.18 107.32 448.42 108.07 448.67 108.3 448.91 108.2 449 108.17 449.16 107.2 449.4 107.65 449.65 108.21 449.89 108.32 450.14 108.47 450.38 108.75 450.63 109.49 450.87 109.17 451.12 109.72 451.36 109.33 451.61 109.76 451.85 109.79 452 110.27 452.1 110.25 452.34 109.75 452.59 111.56 452.83 111.59 453.08 110.22 453.32 109.48 453.57 108.7 453.82 109.87 454.06 112.59 454.31 109.21 454.55 108.9 454.8 110.96 455.04 110.44 455.29 111.09 455.53 111.09 455.78 112.82 456.02 110.07 456.27 110.95 456.51 112.47 456.76 112.78 457 112.43 457.25 111.75 457.49 111.26 457.74 114.41 458 112.37 458.23 112.78 458.47 112.03 458.72 112.47 458.96 112.93 459.21 112.15 459.45 111.3 459.7 112.7 459.94 111.96 460.19 111.8 460.43 111.82 460.68 111.59 460.93 110.91 461.17 112.26 461.42 112.23 461.66 110.43 461.91 110.15 462.15 111.04 462.4 106.75 462.64 112.91 462.89 111.06 463 110.39 463.13 110.43 463.38 111.77 463.62 110.92 463.87 112.27 464.11 111.13 464.36 105.86 464.6 112.02 464.85 112.1 465.09 110.72 465.34 111.49 465.58 111.92 465.83 112.28 466.07 111.26 466.32 111.85 466.56 111.63 466.81 113.25 467.05 113.4 467.3 111.69 467.54 112.6 467.79 112.4 468 112.36 468.28 113.55 468.53 109.33 468.77 112.47 469.02 112.34 469.26 112.91 469.51 112.3 469.75 111.82 470 112 470.24 112.1 470.49 108.75 470.73 111.67 470.98 110.37 471.22 104.03M471.71 110.44 472 110.41 472.2 112.64 472.45 110.94 472.69 111.18 472.94 109.67 473.18 114.16 473.43 109.56 473.67 109.41 473.92 109.26 474.16 109.19 474.41 108.37 474.65 109.41 474.9 107.95 475.14 107.92 475.39 107.72 475.64 107.98 475.88 107.47 476.13 106.53 476.37 107.95 476.5 106.69 476.62 106.42 476.86 108.78 477.11 110.88 477.35 107.08 477.6 109.25 477.84 110.18 478.09 109.19 478.33 106.46 478.58 110.17 478.82 111.68 479 109.75 479.31 111.58 479.56 111.04 479.8 110.54 480.05 111.51 480.29 111.17 480.54 112.44 480.78 112.69 481.03 111.52 481.27 112.68 481.52 112.56 481.76 112.48 482.01 113.57 482.25 111.72 482.5 112.96 482.75 113.82 483 112.75 483.24 114.52 483.48 113.17 483.73 114.33 483.97 112.51 484.22 113.46 484.46 112.97 484.71 114.04 484.95 114.49 485.2 113.51 485.44 113.26 485.69 112.88 486 113.28 486.18 111.88 486.42 112.2 486.67 111.15 486.91 112.42 487 112.14 487.16 108.29 487.4 100.58 487.5 100.72 487.65 93.9 487.89 84.12 488 79.72 488.14 73.69 488.38 62.97 488.5 58.57 488.63 71.81 488.9 101.36 489.12 79.03 489.3 61.05 489.61 48.33 489.8 41.78 490.1 66.13 490.2 74.37 490.35 52.88 490.5 30.18 490.59 25.23 490.8 8.84 491.08 50.65 491.2 69.44 491.33 87.07 491.5 112.53 491.7 120.53 491.82 125.2 492.06 134.86 492.2 139.38 492.31 134.79 492.6 119.77 492.8 109.74 493 105.64 493.29 98.38 493.4 93.85 493.6 90.18 493.8 85.11 494 79.74 494.2 77.11 494.51 73.24 494.6 71.37 494.8 68.56 495 64.67 495.3 58.55 495.4 64.44 495.5 71.6 495.8 90.15 496 92.15 496.3 95.86 496.47 98.35 496.6 100.19 496.72 101.53 496.9 103.33 497 104.99 497.21 104.57 497.5 105.41 497.7 105.78 497.95 105.65 498.19 106.74 498.5 107.17 498.68 107.77 499 107.36 499.17 106.27 499.42 104.82 499.7 102.28 499.91 100.47 500 99.53 500.15 97.9 500.4 95.2 500.5 94.1 500.64 92.73 500.89 88.63 501 86.36 501.1 86.01 501.38 82.29 501.5 80.03 501.62 83.25 501.87 89.26 502 93.47 502.11 96.19 502.3 101.69 502.6 103.14 502.85 106.46 503 107.37 503.09 107.73 503.34 110.53 503.5 111.75 503.58 112.36 503.83 110.76 504.07 109.08 504.32 107.56 504.57 107.9 504.81 104.89 505 105.28 505.3 104.17 505.55 104.14 505.79 104.1 506 104.13 506.28 105.28 506.53 106.94 506.77 108.73 507 109.05 507.26 109.83 507.51 110.86 507.75 112.25 508 114.38 508.24 117.81 508.49 117.58 508.73 118.85 508.98 117.94 509.3 120.45 509.5 120.79 509.71 119.22 509.96 115.16 510.2 114.55 510.5 115.24 510.69 115.86 511 114.09 511.18 114.1 511.43 114.25 511.68 112.08 511.92 114.19 512.17 112.34 512.41 113.95 512.66 112.78 512.9 111.16 513.15 112.26 513.39 110.04 513.64 114.88 513.88 111.38 514.13 110.9 514.37 112.92 514.62 111.59 514.86 109.89 515 109.3 515.11 109.27 515.35 109.51 515.6 107.63 515.84 113.4 516.09 109.84 516.33 108.17 516.58 110 516.82 111.45 517.07 109.38 517.31 110.95 517.56 110.29 517.8 109.05 518.05 109.61 518.29 110.58 518.54 110.29 518.79 110.44 519.03 108.75 519.28 111.21 519.52 113.2 519.77 102.99 520 110.86 520.26 111.73 520.5 112.31 520.75 113.35 520.99 112.07 521.24 114.27 521.48 112.09 521.73 113.9 521.97 116.98 522.22 115.32 522.46 115.88 522.71 118.29 523 122.6 523.2 114.21 523.44 116.33 523.69 117.02 523.93 115.2 524.18 112.73 524.42 111.82 524.67 112.22 524.91 113.95 525.16 111.82 525.4 111.82 525.65 111.33 525.9 112.7 526 108.09 526.14 107.92 526.39 107.67 526.63 107.48 526.88 107.27 527.12 106.08 527.37 107.4 527.61 108.54 527.86 117.14 528.1 105.96 528.35 106.14 528.59 107.6 528.84 103.05 529.08 103.72 529.33 104.33 529.6 106.55 529.82 109.09 530.06 106.59 530.31 112.25 530.55 113.12 530.7 112.53 530.8 112.83 531 111.59 531.29 110.44 531.53 114.24 531.78 116.31 532.02 118.66 532.27 117.04 532.51 113.65 532.76 111.78 533 111.65 533.25 109.81 533.5 113.46 533.74 111.38 533.99 108.39 534.23 110.26 534.48 111.28 534.72 110.58 535 113.4 535.21 110.78 535.46 108.33 535.7 110.92 535.95 111.62 536.19 110.1 536.44 111.14 536.68 111.81 536.93 111.27 537.17 113.4 537.42 110.19 537.66 109.87 537.91 110.4 538.15 110.29 538.4 112 538.64 111.96 538.89 114.35 539.13 111.99 539.38 111.66 539.62 110.09 539.87 112.02 540 113.74 540.11 114.2 540.36 111 540.61 114.91 540.85 114.38 541.1 111.13 541.34 112.62 541.59 106.61 541.83 109.28 542.08 109.59 542.32 110.69 542.57 107.28 542.81 111.82 543.06 110.34 543.3 109.6 543.55 109.84 543.79 110.74 544.04 110.19 544.28 108.68 544.53 108.4 544.77 107.58 545 104 545.26 111.43 545.51 110.98 545.75 110.08 546 108.3 546.24 111.29 546.49 106.39 546.73 106.82 546.98 105.85 547.22 107.07 547.47 108 547.72 107.01 547.96 107.58 548.21 106.62 548.45 104.65 548.7 105.07 549 107.59 549.19 106.47 549.43 103.48 549.68 105.93 549.92 105.24 550.17 103.92 550.41 103.52 550.66 102.05 550.9 102.89 551 99.9 551.15 104.32 551.39 104.54 551.64 106.87 551.88 107.92 552.13 109.01 552.37 107.9 552.62 109.18 552.86 110.51 553.11 111.67 553.35 111.1 553.6 113.87 553.84 114.46 554.09 115.6 554.33 117.22 554.58 118.54 554.83 119.65 555 119.5 555.32 119.93 555.56 118.26 555.81 117.47 556.05 113.99 556.3 114.94 556.54 114.65 556.79 116.68 557 114.84 557.28 113.18 557.52 113.97 557.77 113.97 558.01 111.72 558.26 112.97 558.5 114.36 558.75 113.68 558.99 114.46 559.24 114.82 559.48 112.84 559.73 112.61 560 106 560.22 113.41 560.46 114.01 560.71 111.86 560.95 112.67 561.2 111.88 561.44 113.27 561.69 112.96 562 113.54 562.18 112.49 562.43 114.05 562.67 112.84 562.92 111.68 563.16 111.79 563.41 112.04 563.65 111.31 563.9 110.79 564.14 112.14 564.39 110.79 564.63 109.18 564.88 109.7 565.12 110.24 565.37 111.16 565.61 111.01 565.86 111.26 566.1 111.17 566.35 111.25 566.59 110.49 566.84 110.54 567 109.56 567.08 109.8 567.33 111.21 567.57 110.8 567.82 110.35 568.06 110.67 568.31 110.82 568.55 111.26 568.8 112.93 569.04 110.21 569.29 111.47 569.54 110.58 569.78 110.04 570.03 112.11 570.27 113.44 570.52 113.22 570.76 111.55 571.01 109.01 571.25 111.39 571.5 112.97 571.74 113.46 572 112.45 572.23 113.24 572.48 112.52 572.72 112.76 572.97 112.93 573.21 116.12 573.46 114.01 573.7 113.76 573.95 115.56 574.19 113.71 574.44 112.46 574.68 113.23 574.93 112.98 575.17 112.48 575.42 115.3 575.66 113.81 575.91 112.51 576.15 112.36 576.4 115.62 576.65 110.64 576.89 112.2 577 113.06 577.14 112.18 577.38 110.46 577.63 112.27 577.87 111.01 578.12 113.54 578.36 116.24 578.61 113.34 578.85 112.57 579.1 111.48 579.34 111.54 579.59 111.63 579.83 113.3 580.08 113.62 580.32 114.36 580.57 111.38 580.81 114.59 581.06 112.59 581.3 112.85 581.55 114.53 581.79 113.91 582 114.38 582.28 114.35 582.53 113.08 582.77 110.17 583.02 110.86 583.26 112.9 583.51 112.22 583.76 113.17 584 113.43 584.25 114.08 584.49 111.83 584.74 113.04 584.98 114.75 585.23 108.57 585.47 109.83 585.72 112.38 585.96 110.68 586.21 113.1 586.45 111.1 586.7 113.06 587 112.36 587.19 112.51 587.43 112.69 587.68 111.64 587.92 113.51 588.17 113.36 588.41 112.4 588.66 113.29 588.9 112.97 589.15 112.28 589.39 113.74 589.64 112.96 589.88 111.92 590.13 111.47 590.37 112.76 590.62 111.43 590.87 112.16 591.11 115.4 591.36 113.06 591.6 113.15 591.85 112.83 592 110.75 592.09 111.81 592.34 106.69 592.58 112.71 592.83 110.08 593.07 111.05 593.32 112.81 593.56 112.16 593.81 108.35 594.05 113.97 594.3 112.72 594.54 110.98 594.79 109.83 595.03 111.66 595.28 112.51 595.52 112.47 595.77 110.61 596.01 111.24 596.26 111.04 596.5 110.92 596.75 112.58 597 111.57 597.24 111.59 597.48 111.45 597.73 111.92 597.97 111.93 598.22 111.47 598.47 112.15 598.71 110.36 598.96 110.37 599.2 110.49 599.45 111.14 599.69 110.16 600 106 600.18 110.42 600.43 108.79 600.67 107.7 600.92 110.42 601.16 105.42 601.41 112.91 601.65 112.48 601.9 110.71 602 108.34 602.14 110.1 602.39 108.8 602.63 94.87 602.88 108.65 603.12 106.45 603.37 105.07 603.61 104.96 603.86 104.07 604.1 111.34 604.35 104.8 604.59 102.94 604.84 104.76 605.08 102.65 605.33 102.23 605.58 101.94 605.82 101.1 606.07 101.72 606.31 103.57 606.4 101.45 606.56 102.69 606.8 103.24 607.05 101.96 607.29 110.99 607.54 105.05 607.78 104.83 608.03 104.62 608.27 108.07 608.52 107.51 608.76 110.02 609 109.83 609.25 108.64 609.5 109.28 609.74 109.91 609.99 108.69 610.23 108.2 610.48 109.17 610.72 109.23 610.97 106.68 611.21 106.14 611.46 105.66 611.7 104.16 612 108.14 612.19 105.1 612.44 106.82 612.69 104.14 612.93 106.01 613.18 104.58 613.42 105.97 613.67 104.52 613.91 104.74 614.16 108.36 614.4 105.67 614.65 107.56 614.89 102.53 615 105.96 615.14 106 615.3 95.7 615.38 102.07 615.63 104.65 615.87 106.05 616.12 105.08 616.36 105.76 616.61 103.97 616.85 107.09 617.1 111.24 617.34 108.53 617.59 107.47 617.83 108.18 618 107.93 618.32 107.78 618.57 106.05 618.81 103.1 619.06 104.47 619.3 109.14 619.55 100.19 619.8 105.82 620.04 105.74 620.29 105.18 620.53 104.45 620.78 103.98 621 99.2 621.27 102.6 621.51 103.35 621.76 104.82 622 107.48 622.25 107.91 622.49 107.29 622.74 108.91 623 109.97 623.23 110.19 623.47 113.26 623.72 120.33 623.96 123.47 624.21 124.89 624.45 127.75 624.7 131.29 625 114.02 625.19 117.1 625.43 121.63 625.68 125.76 626 131.37 626.17 134.69 626.3 136.52 626.41 134.8 626.66 130.33 626.9 124.09 627.2 117.73 627.4 115.09 627.64 111.79 627.89 111.8 628 112.26 628.13 114.12 628.38 114.79 628.62 114.39 628.87 116.26 629.11 117.6 629.36 120.7 629.6 121.26 629.85 123.27 630.09 123.51 630.34 127.17 630.58 127.93 630.83 132.3 631 130.47 631.32 126.49 631.56 123.88 631.81 122.58 632.05 121.92 632.3 120.65 632.54 119.71 632.79 119.44 633 117.54 633.28 114.43 633.52 114.96 633.77 114.67 634.01 121.12 634.26 112.02 634.51 117.09 634.75 113.57 635 109.44 635.24 114.8 635.49 109.1 635.73 109.58 635.98 112 636.22 110.15 636.47 110.35 636.71 108.18 637 109.89 637.2 109.49 637.45 110.2 637.69 109.22 637.94 110.58 638.18 108.93 638.43 109.92 638.67 108.08 638.92 107.08 639.16 108.7 639.41 113.5 639.65 110.24 639.9 107.65 640 104 640.14 110.45 640.39 108.42 640.63 106.84 640.88 108.32 641.12 110.21 641.37 108.96 641.62 109.02 641.86 107.82 642 107.57 642.11 107.34 642.35 109.09 642.6 111.19 642.84 110.67 643.09 109.61 643.33 110.81 643.58 110.72 643.82 111.04 644.07 111.22 644.31 112.19 644.56 112.69 644.8 113.21 645 113.61 645.29 114.29 645.54 112.57 645.78 112.94 646.03 111.99 646.27 111.73 646.52 111.03 646.76 112.43 647.01 109.98 647.25 110.36 647.5 112.17 647.8 128.4 648 113.28 648.23 112.1 648.48 110.54 648.73 114.54 648.97 110.87 649.22 110.7 649.46 111.61 649.71 108.38 650 109.22 650.2 107.61 650.44 105.8 650.69 109.01 651 107.11 651.18 104.02 651.42 104.58 651.67 104.6 651.91 105.08 652.16 104.85 652.4 102.89 652.65 104.3 652.89 103.96 653 105.08 653.2 99.9 653.38 105.26 653.63 106.63 653.87 107.9 654.12 109.37 654.36 105.67 654.61 106.93 654.85 107.02 655.1 110.78 655.34 109.72 655.59 111.31 655.83 112.64 656 111.01 656.08 110.47 656.33 110.8 656.57 110.26 656.82 108.34 657.06 108.33 657.31 108.68 657.55 106.93 657.8 104.32 658.04 104.24 658.29 103.38 658.53 103.57 658.78 101.51 659 99.94 659.27 109.48 659.51 118.74 659.7 124.25 660 121.75 660.25 118.78 660.49 114.82 660.74 111.91 661 110.47 661.23 109.24 661.47 109.62 661.72 109.03 661.96 113.21 662.21 108.15 662.45 110.25 662.7 109.81 662.94 110.15 663.19 109.72 663.44 107.61 663.68 107.94 663.93 107.76 664.17 109.41 664.42 109.11 664.66 105.2 664.91 109.13 665 108.15 665.15 106.72 665.4 108.22 665.64 108.88 665.89 109.11 666.13 110.34 666.38 109.95 666.62 108.25 666.87 106.61 667.11 107.87 667.36 114.33 667.6 106.53 667.85 107.07 668.09 107.34 668.34 108.79 668.58 102.72 668.83 108.3 669.07 108.22 669.32 108.77 669.56 107.79 669.81 106.49 670.05 106.23 670.3 108.17" stroke="#ff7f0e" stroke-width="0.8" stroke-opacity="1" fill="none" stroke-linejoin="round" clip-path="url(#clipb)"/>
<path d="M388.6 113.88 388.85 112.94 389.09 112.11 389.34 112.89 389.58 112.33 389.83 113.49 390.07 114.15 390.32 114.11 390.56 118.51 390.81 114.26 391.05 113.04 391.3 112.93 391.54 112.74 391.79 114.1 392 112.27 392.28 114.93 392.52 114.71 392.77 113.03 393.01 112.94 393.26 113.82 393.5 112.93 393.75 111.69 393.99 112.36 394.24 112.47 394.48 112.64 394.73 112.3 394.97 112.17 395.22 111.05 395.46 114.8 395.71 112.44 396 111.56 396.2 112.84 396.45 112.2 396.69 112.08 396.94 111.94 397.18 112.69 397.43 111.39 397.67 113.13 397.92 112.88 398.16 112.94 398.41 113.73 398.65 112.76 398.9 113.78 399.14 112.88 399.39 112.6 399.63 112.69 399.88 111.84 400 113.71 400.12 112.38 400.37 113.31 400.61 114.31 400.86 113.16 401.1 113.63 401.35 113.03 401.59 113.45 401.84 113.97 402.08 112.46 402.33 114.17 402.57 113.97 402.82 116.91 403 114.59 403.31 114.95 403.56 116.38 403.8 116.54 404.05 116.79 404.29 117.57 404.54 118.78 404.78 119.85 405.03 120.21 405.2 120.41 405.52 116.37 405.76 114.82 406 113.43 406.25 113.72 406.5 107 406.74 113.2 406.99 113.73 407.23 113.64 407.48 113.23 407.72 112.72 407.97 112.48 408.21 112.59 408.46 114.21 408.7 113.36 408.95 113.27 409.19 113.98 409.44 112.42 409.68 113.14 410 112.26 410.17 113.42 410.42 113.08 410.67 113.13 410.91 113.78 411.16 114.46 411.4 113.39 411.65 113.55 411.89 116.53 412.14 113.74 412.38 113.63 412.63 109.51 412.87 114.65 413 113.41 413.12 114.35 413.36 114.78 413.61 114.9 413.85 115.64 414.1 114.96 414.34 114.25 414.59 112.36 414.83 116.3 415.08 115.33 415.32 115.91 415.5 116.29 415.81 123.67 416.06 129.24 416.2 131.93 416.3 128.48 416.55 124.57 416.79 119.74 417 113.34 417.28 114.52 417.53 114.14 417.78 114.73 418.02 114.4 418.27 112.19 418.51 113.36 418.76 111.74 419 110.91 419.25 111.06 419.49 111.59 419.74 112.75 419.98 110.38 420.23 109.18 420.47 110.24 420.72 110.53 420.96 110.01 421.21 109.04 421.45 109.04 421.7 107.89 422 107.37 422.19 109.38 422.43 108.66 422.68 108.44 422.92 108.76 423.17 109.35 423.41 108.54 423.66 108.61 423.9 110.47 424.15 109.63 424.39 110.45 424.64 110.76 424.89 110.57 425 110.74 425.13 109.29 425.38 109.24 425.62 109.52 425.87 111.34 426.11 109.91 426.36 110.2 426.6 110.84 426.85 111.21 427.09 110.67 427.34 111.16 427.58 110.68 427.83 110.88 428.07 111.17 428.32 110.18 428.56 110.52 428.81 110.61 429.05 110.44 429.3 111.52 429.54 110.7 429.79 111.66 430 110.41 430.28 111.19 430.52 111.87 430.77 111.77 431.01 110.5 431.26 111.3 431.5 110.55 431.75 111.7 432 111.79 432.24 110.98 432.49 111.67 432.73 111.36 432.98 111.68 433.22 112.39 433.47 115.51 433.71 112.77 433.96 112.37 434.2 112.14 434.45 112.33 434.69 112.51 435 113.22 435.18 113.16 435.43 112.73 435.67 112.15 435.92 113.49 436.16 112.25 436.41 112.87 436.65 112.4 436.9 112.87 437.14 111.8 437.39 111.64 437.63 112.39 437.88 112.22 438.12 112.35 438.37 111.86 438.61 111.26 438.86 112.24 439.1 111.32 439.35 110.85 439.6 111.53 439.84 112.43 440 110.98 440.09 111.47 440.33 110.44 440.58 110.78 440.82 110.22 441.07 109.44 441.31 110.34 441.56 109.56 441.8 109.79 442.05 109.71 442.29 110.42 442.54 112.3 442.78 109.91 443.03 110.28 443.27 110.01 443.52 109.93 443.76 109.53 444.01 110.14 444.25 109.95 444.5 110.66 444.74 111.39 445 109.81 445.23 109.6 445.48 109.74 445.72 110.82 445.97 110.67 446.21 109.32 446.46 108.07 446.71 109.39 446.95 110.33 447.2 107.76 447.44 107.93 447.69 108.12 447.93 107 448.18 107.16 448.42 108.24 448.67 108.36 448.91 108.07 449 108 449.16 106.97 449.4 107.63 449.65 108.16 449.89 108.14 450.14 108.42 450.38 108.49 450.63 109.24 450.87 108.79 451.12 109.79 451.36 109.39 451.61 109.52 451.85 109.44 452 110.26 452.1 110.56 452.34 109.81 452.59 111.48 452.83 111.58 453.08 110.44 453.32 109.85 453.57 108.92 453.82 109.71 454.06 112.23 454.31 109.29 454.55 108.94 454.8 110.54 455.04 109.95 455.29 110.9 455.53 111.02 455.78 113.02 456.02 109.93 456.27 111.06 456.51 112.52 456.76 112.63 457 112.66 457.25 111.8 457.49 111.23 457.74 114.52 458 112.14 458.23 112.44 458.47 111.98 458.72 112.26 458.96 112.79 459.21 111.84 459.45 111.28 459.7 112.54 459.94 111.73 460.19 111.94 460.43 111.98 460.68 111.75 460.93 111.1 461.17 111.85 461.42 112.09 461.66 110.36 461.91 110.28 462.15 111.16 462.4 106.8 462.64 113.26 462.89 111.26 463 110.29 463.13 110.73 463.38 111.73 463.62 110.97 463.87 112.23 464.11 110.92 464.36 105.82 464.6 111.78 464.85 111.75 465.09 110.74 465.34 111.37 465.58 111.9 465.83 112.03 466.07 111.08 466.32 112.64 466.56 112.27 466.81 113.66 467.05 113.43 467.3 111.63 467.54 112.86 467.79 112.36 468 112.51 468.28 113.45 468.53 109.41 468.77 112.75 469.02 112.66 469.26 112.88 469.51 112.36 469.75 111.81 470 112.08 470.24 111.66 470.49 108.31 470.73 111.82 470.98 110.7 471.22 104.02 471.47 110.15 471.71 110.45 472 110.57 472.2 112.42 472.45 110.85 472.69 111.08 472.94 109.82 473.18 114.23 473.43 109.75 473.67 109.74 473.92 109.37 474.16 109.19 474.41 108.53 474.65 109.62 474.9 108.18 475.14 108.27 475.39 107.79 475.64 108.11 475.88 107.7 476.13 106.89 476.37 107.93 476.5 106.71 476.62 106.3 476.86 108.51 477.11 110.99 477.35 107.38 477.6 109.2 477.84 110.3 478.09 109.2 478.33 106.67 478.58 110.07 478.82 111.2 479 109.9 479.31 111.68 479.56 111.21 479.8 110.8 480.05 111.34 480.29 111.03 480.54 112.55 480.78 113.2 481.03 111.69 481.27 112.78 481.52 112.81 481.76 112.41 482.01 113.47 482.25 111.53 482.5 112.88 482.75 113.92 483 112.99 483.24 114.25 483.48 113.04 483.73 114.13 483.97 112.72 484.22 113.66 484.46 113.21 484.71 114.08 484.95 114.29 485.2 113.48 485.44 113.13 485.69 112.53 486 113.13 486.18 112.15 486.42 112.2 486.67 111.38 486.91 112.69 487 112.2 487.16 108.22 487.4 102.18 487.5 101.24 487.65 94.03 487.89 84.35 488 80.18 488.14 74.44 488.38 63.06 488.5 58.38 488.63 71.56 488.9 100.97 489.12 78.67 489.3 61.17 489.61 48.3 489.8 41.67 490.1 65.93 490.2 74.46 490.35 52.86 490.5 30.57 490.59 25.52 490.8 9.02 491.08 50.69 491.2 69.36 491.33 86.49 491.5 104.15 491.7 128.52 491.82 143.27 492.06 171.63 492.2 186.55 492.31 166.67 492.6 110.21 492.8 79.88 493 49.41 493.29 81.92 493.4 94.85 493.6 70.31 493.8 45.05 494 72.81 494.2 99.32 494.51 63.9 494.6 55.45 494.8 67.19 495 79.28 495.3 57.01 495.4 38.31 495.5 38.38 495.8 34.86 496 28.97 496.3 29.57 496.47 30.1 496.6 35.3 496.72 48.34 496.9 71.08 497 75.94 497.21 86.81 497.5 104.85 497.7 104.03 497.95 102.93 498.19 101.59 498.5 100 498.68 101.61 499 102.58 499.17 104 499.42 104.99 499.7 108.16 499.91 108.47 500 107.87 500.15 107.1 500.4 104.29 500.5 102.89 500.64 100.44 500.89 97.42 501 94.69 501.1 96.31 501.38 98.82 501.5 98.81 501.62 101.54 501.87 103.86 502 105.65 502.11 106.94 502.3 108.18 502.6 109.33 502.85 109.9 503 112.24 503.09 111.77 503.34 111.31 503.5 112.7 503.58 113.19 503.83 112.63 504.07 114.01 504.32 115.06 504.57 114.7 504.81 115.01 505 114.76 505.3 115.62 505.55 113.61 505.79 114.29 506 113.83 506.28 113.04 506.53 112.91 506.77 111.88 507 111.48 507.26 112.42 507.51 114.96 507.75 108.85 508 115.78 508.24 115.99 508.49 116.34 508.73 118.13 508.98 117.94 509.3 119.73 509.5 120.54 509.71 119.33 509.96 117.19 510.2 116.72 510.5 116.29 510.69 115.53 511 113.91 511.18 114.33 511.43 114.08 511.68 112.42 511.92 113.27 512.17 111.68 512.41 113.49 512.66 112.56 512.9 110.96 513.15 111.11 513.39 108.85 513.64 114.22 513.88 111.76 514.13 111.71 514.37 110.7 514.62 110.95 514.86 110.87 515 110.16 515.11 109.29 515.35 109.29 515.6 108.51 515.84 109.86 516.09 109.51 516.33 108.87 516.58 109.69 516.82 110.15 517.07 108.34 517.31 109.17 517.56 110.52 517.8 109.99 518.05 109.13 518.29 109.34 518.54 110.83 518.79 110.7 519.03 109.77 519.28 110.07 519.52 109.09 519.77 102.28 520 110.76 520.26 111.86 520.5 111.82 520.75 112.36 520.99 112.31 521.24 113.96 521.48 114.2 521.73 113.94 521.97 115.96 522.22 115.59 522.46 115.95 522.71 117.95 523 117.9 523.2 114.09 523.44 115.95 523.69 116.17 523.93 114.11 524.18 113.31 524.42 112.27 524.67 112.75 524.91 111.76 525.16 110.85 525.4 110.15 525.65 108.42 525.9 108.6 526 106.15 526.14 107.84 526.39 107.32 526.63 107.65 526.88 106.57 527.12 105.93 527.37 107.45 527.61 106.93 527.86 115.08 528.1 105.72 528.35 105.29 528.59 106.2 528.84 103.29 529.08 104.04 529.33 103.93 529.6 105.22 529.82 106.66 530.06 106.99 530.31 111.89 530.55 112.32 530.7 112.9 530.8 114.36 531 112.18 531.29 114.27 531.53 115.3 531.78 114.84 532.02 115.44 532.27 114.7 532.51 114.02 532.76 112.32 533 112.85 533.25 112.34 533.5 113.25 533.74 111.68 533.99 108.11 534.23 110.1 534.48 111.54 534.72 110.39 535 110.55 535.21 110.4 535.46 110.11 535.7 110.93 535.95 110.69 536.19 110.79 536.44 111.03 536.68 111.46 536.93 110.98 537.17 110.48 537.42 111.34 537.66 110.67 537.91 111.87 538.15 111.32 538.4 112.58 538.64 111.42 538.89 112.22 539.13 111.19 539.38 111.27 539.62 110.98 539.87 111.53 540 112.58 540.11 112.49 540.36 111.34 540.61 112.11 540.85 112.86 541.1 111.6 541.34 113.12 541.59 109.14 541.83 110.85 542.08 109.89 542.32 111.04 542.57 110.1 542.81 110.49 543.06 110.15 543.3 109.37 543.55 109.74 543.79 109.15 544.04 108.19 544.28 109.52 544.53 108.82 544.77 107.54 545 108.42 545.26 108.48 545.51 107.46 545.75 107.05 546 106.82 546.24 107.63 546.49 106.69 546.73 107.89 546.98 106.37 547.22 105.99 547.47 106.55 547.72 107.51 547.96 107.06 548.21 106.44 548.45 105.7 548.7 105.78 549 105.96 549.19 106.55 549.43 103.82 549.68 104.94 549.92 105.76 550.17 103.85 550.41 103.81 550.66 103.53 550.9 103.64 551 102.81 551.15 104.55 551.39 104.29 551.64 106.09 551.88 107.63 552.13 108.4 552.37 108.53 552.62 110.19 552.86 111.57 553.11 110.9 553.35 112.17 553.6 113.29 553.84 113.57 554.09 114.44 554.33 116.69 554.58 118.73 554.83 118.85 555 118.32 555.32 118.31 555.56 117.29 555.81 117.12 556.05 113.83 556.3 114.97 556.54 114.26 556.79 114.36 557 113.27 557.28 113.07 557.52 113.01 557.77 112.67 558.01 112.33 558.26 112.64 558.5 113.28 558.75 112.34 558.99 112.94 559.24 112.63 559.48 113.24 559.73 112.94 560 113.11 560.22 113.8 560.46 113.34 560.71 111.19 560.95 111.98 561.2 111.98 561.44 112.53 561.69 112.14 562 112.81 562.18 111.55 562.43 112.95 562.67 111.42 562.92 111.37 563.16 111.87 563.41 111.71 563.65 111.49 563.9 111.78 564.14 112.23 564.39 111.52 564.63 110.4 564.88 111.13 565.12 111.02 565.37 110.84 565.61 112.02 565.86 112.13 566.1 110.82 566.35 112.15 566.59 111.42 566.84 110.49 567 110.38 567.08 110.81 567.33 111.17 567.57 111.82 567.82 111.16 568.06 111.56 568.31 111.85 568.55 112.11 568.8 111.42 569.04 110.56 569.29 111.69 569.54 112.34 569.78 111.54 570.03 111.64 570.27 112.15 570.52 113.43 570.76 112.23 571.01 112.3 571.25 111.85 571.5 112.8 571.74 112.91 572 113.3 572.23 113 572.48 112.76 572.72 112.71 572.97 113.13 573.21 113.35 573.46 113.01 573.7 112.63 573.95 113.09 574.19 112.74 574.44 112.1 574.68 113.87 574.93 112.74 575.17 112.06 575.42 112.15 575.66 112.38 575.91 113.15 576.15 111.87 576.4 112.97 576.65 110.86 576.89 112.37 577 112.35 577.14 111.79 577.38 111.4 577.63 111.43 577.87 111.9 578.12 113.55 578.36 113.52 578.61 112.21 578.85 112.62 579.1 113.2 579.34 112.85 579.59 111.97 579.83 112.79 580.08 113.77 580.32 114.12 580.57 112.97 580.81 113.5 581.06 112.85 581.3 115.07 581.55 114.34 581.79 114.27 582 114.38 582.28 113.82 582.53 114.31 582.77 113.1 583.02 113.08 583.26 113.2 583.51 112.49 583.76 112.82 584 112.97 584.25 113.89 584.49 112.82 584.74 113.21 584.98 113.15 585.23 111.97 585.47 111.26 585.72 112.37 585.96 111.96 586.21 112.77 586.45 111.55 586.7 112.66 587 112.08 587.19 112.55 587.43 112.43 587.68 112.63 587.92 112.28 588.17 113.07 588.41 111.84 588.66 111.93 588.9 112.36 589.15 111.88 589.39 112.77 589.64 113.11 589.88 111.96 590.13 111.99 590.37 112.69 590.62 112.02 590.87 112.98 591.11 114.23 591.36 112.73 591.6 113.26 591.85 112.92 592 111.91 592.09 112.9 592.34 112.35 592.58 113.53 592.83 113.36 593.07 112.83 593.32 113.04 593.56 112.13 593.81 107.84 594.05 112.33 594.3 112.75 594.54 111.57 594.79 112.11 595.03 112.72 595.28 112.51 595.52 112.96 595.77 110.87 596.01 112.13 596.26 111.41 596.5 111.06 596.75 112.37 597 111.54 597.24 111.72 597.48 111.46 597.73 111.47 597.97 111.52 598.22 111.69 598.47 112.04 598.71 111.25 598.96 110.66 599.2 110.62 599.45 110.56 599.69 110.58 600 109.75 600.18 108.93 600.43 109.03 600.67 108.49 600.92 110.27 601.16 109.33 601.41 109.58 601.65 110.25 601.9 109.84 602 108.95 602.14 108.68 602.39 108.52 602.63 95.2 602.88 107.86 603.12 105.62 603.37 106.17 603.61 106.56 603.86 105.52 604.1 110.05 604.35 103.7 604.59 103.71 604.84 105.85 605.08 103.27 605.33 102.55 605.58 103.35 605.82 101.87 606.07 101.38 606.31 102.36 606.4 101.53 606.56 101.35 606.8 102.51 607.05 101.41 607.29 109.12 607.54 103.98 607.78 105.64 608.03 106.52 608.27 107.53 608.52 107.44 608.76 108.83 609 110.19 609.25 108.54 609.5 109.54 609.74 109.69 609.99 108.9 610.23 108.7 610.48 106.93 610.72 107.87 610.97 107.27 611.21 107.34 611.46 106.21 611.7 106.64 612 107.49 612.19 106 612.44 106.08 612.69 105.05 612.93 106.1 613.18 105.38 613.42 105.19 613.67 104.86 613.91 104.79 614.16 107.94 614.4 104.21 614.65 105.49 614.89 103.42 615 104.75 615.14 105.18 615.3 104.6 615.38 104.42 615.63 104.27 615.87 105.04 616.12 104.14 616.36 105.21 616.61 105.45 616.85 107.57 617.1 106.94 617.34 106.31 617.59 107.26 617.83 107.63 618 108.53 618.32 108.58 618.57 106.57 618.81 104.65 619.06 105.56 619.3 108.12 619.55 99.4 619.8 104.73 620.04 103.83 620.29 104.14 620.53 103.34 620.78 103.12 621 103.05 621.27 104.5 621.51 104.93 621.76 106.05 622 107.27 622.25 108.01 622.49 106.65 622.74 108.74 623 110.6 623.23 112.46 623.47 114.89 623.72 117.38 623.96 120.94 624.21 124.33 624.45 126.89 624.7 130.1 625 120.03 625.19 126.13 625.43 124.22 625.68 120.82 626 119.29 626.17 117.32 626.3 118.02 626.41 117.37 626.66 117.71 626.9 115.22 627.2 114.82 627.4 114.64 627.64 112.26 627.89 112.23 628 112.15 628.13 113.48 628.38 114.31 628.62 114.84 628.87 116.76 629.11 118.41 629.36 120.14 629.6 122.26 629.85 123.57 630.09 123.67 630.34 126.72 630.58 127.81 630.83 129.79 631 130.74 631.32 126.82 631.56 124.03 631.81 124.32 632.05 121.82 632.3 120.86 632.54 118.65 632.79 116.49 633 116.59 633.28 114.47 633.52 114.08 633.77 114.56 634.01 120.54 634.26 112.57 634.51 116.15 634.75 112.1 635 108.09 635.24 112.92 635.49 112.5 635.73 111.7 635.98 112.54 636.22 110.39 636.47 110.12 636.71 109.75 637 109.9 637.2 110.59 637.45 110.63 637.69 109.24 637.94 109.87 638.18 109.22 638.43 110.34 638.67 109.29 638.92 108.51 639.16 109.91 639.41 109.91 639.65 108.79 639.9 108.66 640 108.81 640.14 109.13 640.39 109.04 640.63 108.09 640.88 108.51 641.12 108.7 641.37 107.63 641.62 109.42 641.86 107.64 642 108.81 642.11 107.9 642.35 109.06 642.6 109.8 642.84 109.4 643.09 109.59 643.33 110.35 643.58 111.14 643.82 112.44 644.07 111.68 644.31 111.8 644.56 113.36 644.8 113.6 645 112.39 645.29 113.82 645.54 112.8 645.78 113.23 646.03 112.58 646.27 112.76 646.52 111.89 646.76 112.05 647.01 112.08 647.25 111.43 647.5 113.02 647.8 112.52 648 111.66 648.23 111.31 648.48 110.75 648.73 111.09 648.97 110.04 649.22 108.89 649.46 110.6 649.71 109.42 650 108.25 650.2 107.85 650.44 107.36 650.69 108.65 651 106.55 651.18 106.23 651.42 106.13 651.67 106.61 651.91 106.15 652.16 105.72 652.4 105.4 652.65 105.33 652.89 104.09 653 104.13 653.2 105.91 653.38 105.75 653.63 107.33 653.87 108.8 654.12 108.02 654.36 108.08 654.61 107.82 654.85 108.23 655.1 111.12 655.34 110.19 655.59 110.58 655.83 113.89 656 111.6 656.08 111.49 656.33 111.66 656.57 111.73 656.82 108.89 657.06 108.97 657.31 108.04 657.55 106.65 657.8 105.61 658.04 104.67 658.29 104.57 658.53 104 658.78 102.67 659 102.69 659.27 110.4 659.51 117.24 659.7 123.99 660 121.56 660.25 117.58 660.49 115.02 660.74 112.78 661 111.07 661.23 109.64 661.47 109.62 661.72 109.06 661.96 112.72 662.21 108.83 662.45 109.78 662.7 109.3 662.94 108.23 663.19 109.14 663.44 108.06 663.68 109.42 663.93 108.72 664.17 108.46 664.42 107.9 664.66 104.21 664.91 108.73 665 107.29 665.15 106.95 665.4 108.95 665.64 108.44 665.89 108.1 666.13 108.87 666.38 108.47 666.62 107.67 666.87 107.63 667.11 108.27 667.36 115.03 667.6 106.73 667.85 108.17 668.09 108.03 668.34 108.5 668.58 107.21 668.83 109.95 669.07 108.04 669.32 108.65 669.56 108.75 669.81 106.82 670.05 109.15 670.3 108.14" stroke="#2ca02c" stroke-width="0.8" stroke-opacity="1" fill="none" stroke-linejoin="round" clip-path="url(#clipb)"/>
<path d="M374.2 7.5V191.4M684.4 7.5V191.4" stroke="#000" stroke-opacity="0.26" stroke-width="1.3" fill="none"/>
<path d="M373.8 7.5H684.8M373.8 191.4H684.8" stroke="#000" stroke-opacity="0.26" stroke-width="1.3" fill="none"/>
<path d="M385.7 191.4v1.4M416.89 191.4v1.4M447.56 191.4v1.4M478.75 191.4v1.4M509.6 191.4v1.4M540.78 191.4v1.4M571.46 191.4v1.4M602.65 191.4v1.4M633.32 191.4v1.4M664.51 191.4v1.4M374.4 47.4h-1.4M374.4 103.5h-1.4M374.4 112.4h-1.4M374.4 121.1h-1.4M374.4 176.5h-1.4" stroke="#000" stroke-opacity="0.5" stroke-width="0.5" fill="none"/>
<text x="385.7" y="197.8" font-size="5.5" text-anchor="middle" textLength="20" lengthAdjust="spacingAndGlyphs">2018-07</text>
<text x="416.89" y="197.8" font-size="5.5" text-anchor="middle" textLength="20" lengthAdjust="spacingAndGlyphs">2019-01</text>
<text x="447.56" y="197.8" font-size="5.5" text-anchor="middle" textLength="20" lengthAdjust="spacingAndGlyphs">2019-07</text>
<text x="478.75" y="197.8" font-size="5.5" text-anchor="middle" textLength="20" lengthAdjust="spacingAndGlyphs">2020-01</text>
<text x="509.6" y="197.8" font-size="5.5" text-anchor="middle" textLength="20" lengthAdjust="spacingAndGlyphs">2020-07</text>
<text x="540.78" y="197.8" font-size="5.5" text-anchor="middle" textLength="20" lengthAdjust="spacingAndGlyphs">2021-01</text>
<text x="571.46" y="197.8" font-size="5.5" text-anchor="middle" textLength="20" lengthAdjust="spacingAndGlyphs">2021-07</text>
<text x="602.65" y="197.8" font-size="5.5" text-anchor="middle" textLength="20" lengthAdjust="spacingAndGlyphs">2022-01</text>
<text x="633.32" y="197.8" font-size="5.5" text-anchor="middle" textLength="20" lengthAdjust="spacingAndGlyphs">2022-07</text>
<text x="664.51" y="197.8" font-size="5.5" text-anchor="middle" textLength="20" lengthAdjust="spacingAndGlyphs">2023-01</text>
<text x="370.2" y="49.4" font-size="5.5" text-anchor="end">10</text>
<text x="370.3" y="47.3" font-size="3.6">2</text>
<text x="370.2" y="105.5" font-size="5.5" text-anchor="end">10</text>
<text x="370.3" y="103.4" font-size="3.6">1</text>
<text x="371.6" y="114.4" font-size="5.5" text-anchor="end">0</text>
<text x="370.2" y="123.1" font-size="5.5" text-anchor="end">−10</text>
<text x="370.3" y="121" font-size="3.6">1</text>
<text x="370.2" y="178.5" font-size="5.5" text-anchor="end">−10</text>
<text x="370.3" y="176.4" font-size="3.6">2</text>
<text x="529.4" y="204.3" font-size="5.8" text-anchor="middle" textLength="13" lengthAdjust="spacingAndGlyphs">Date</text>
<text transform="translate(357.1 99.45) rotate(-90)" font-size="5.6" text-anchor="middle" textLength="11.6" lengthAdjust="spacingAndGlyphs">USD</text>
<text x="480.9" y="5.4" font-size="7.6" textLength="48.4" lengthAdjust="spacingAndGlyphs">Tracking error</text>
<text x="531.8" y="5.4" font-size="7.6" font-style="italic" textLength="6" lengthAdjust="spacingAndGlyphs">Z</text>
<text x="537.7" y="6.7" font-size="5.2" font-style="italic">t</text>
<text x="542.8" y="5.4" font-size="7.6">(</text>
<text x="544.8" y="5.4" font-size="7.6" font-style="italic" textLength="7" lengthAdjust="spacingAndGlyphs">m</text>
<text x="551.8" y="6.7" font-size="5.2">0</text>
<text x="555.8" y="5.2" font-size="7.6" textLength="5.6" lengthAdjust="spacingAndGlyphs">=</text>
<text x="563" y="5.4" font-size="7.6" textLength="12" lengthAdjust="spacingAndGlyphs">0.8</text>
<text x="575.2" y="5.4" font-size="7.6">)</text>
<rect x="610.9" y="10.5" width="71" height="29.3" rx="1" fill="#fff" fill-opacity="0.8" stroke="#d0d0d0" stroke-opacity="0.8" stroke-width="0.5"/>
<text x="646.4" y="15.3" font-size="4" text-anchor="middle" textLength="35.5" lengthAdjust="spacingAndGlyphs">Hedging method</text>
<path d="M612.5 20.4h10.5" stroke="#1f77b4" stroke-opacity="0.55" stroke-width="1"/>
<text x="626.9" y="22.1" font-size="4.8" textLength="12.8" lengthAdjust="spacingAndGlyphs">Delta</text>
<path d="M612.5 27.65h10.5" stroke="#ff7f0e" stroke-opacity="0.55" stroke-width="1"/>
<text x="626.9" y="29.35" font-size="4.8" textLength="25.5" lengthAdjust="spacingAndGlyphs">Delta-vega</text>
<path d="M612.5 34.9h10.5" stroke="#2ca02c" stroke-opacity="0.55" stroke-width="1"/>
<text x="626.9" y="36.6" font-size="4.8" textLength="53" lengthAdjust="spacingAndGlyphs">Data-driven (VolGAN)</text>
<g font-family="'Liberation Serif', serif" fill-opacity="0.8">
<text x="478.4" y="227" font-size="14">(</text>
<text x="490" y="227" font-size="14">)</text>
<text x="486.85" y="226.1" font-size="12.6" text-anchor="middle">b</text>
<text x="499.7" y="226.1" font-size="12.6" font-style="italic" textLength="10.8" lengthAdjust="spacingAndGlyphs">m</text>
<text x="511.5" y="228.4" font-size="8.8">0</text>
<text x="521.1" y="226.1" font-size="12.6" textLength="9.6" lengthAdjust="spacingAndGlyphs">=</text>
<text x="534.5" y="226.1" font-size="12.8" textLength="23.6" lengthAdjust="spacingAndGlyphs">0.80</text>
</g>
<clipPath id="clipc"><rect x="22.3" y="256.5" width="310" height="184"/></clipPath>
<path d="M33.6 256.5V440.5M64.79 256.5V440.5M95.46 256.5V440.5M126.65 256.5V440.5M157.5 256.5V440.5M188.68 256.5V440.5M219.36 256.5V440.5M250.55 256.5V440.5M281.22 256.5V440.5M312.41 256.5V440.5M22.3 261.9H332.3M22.3 305.1H332.3M22.3 353.9H332.3M22.3 362.1H332.3M22.3 369.7H332.3M22.3 418.9H332.3" stroke="#b0b0b0" stroke-opacity="0.45" stroke-width="0.9" fill="none"/>
<path d="M36.5 363.07 36.75 363.55 36.99 363.92 37.24 363.08 37.48 364.2 37.73 364.05 37.97 362.76 38.22 362.2 38.46 361.64 38.71 363.78 38.95 364.63 39.2 363.06 39.44 362.61 39.69 364 40 363.23 40.18 363.18 40.42 363.32 40.67 364.65 40.91 364.07 41.16 362.97 41.4 362.36 41.65 361.74 41.89 361.37 42.14 362.56 42.38 363.67 42.63 362.55 42.87 362.37 43.12 360.87 43.36 362.71 43.61 362.81 43.86 362.57 44.1 361.83 44.35 360.74 44.59 361.98 44.84 361.7 45 362.95 45.08 362.57 45.33 362.24 45.57 362.55 45.82 364.02 46.06 361.17 46.31 361.05 46.55 362.8 46.8 362.31 47.04 362.82 47.29 362.38 47.53 361.95 47.78 362.52 48 362.55 48.27 362.62 48.51 363.66 48.76 363.07 49 364.89 49.25 363.84 49.49 363.09 49.8 363.08 49.98 356.76 50.2 351.29 50.47 360.01 50.7 365.9 51 365.14 51.21 364.81 51.46 369.98 51.7 365.92 51.95 363.4 52.19 362.36 52.5 349.3 52.68 362.94 53 362.56 53.17 364.06 53.42 364.05 53.66 365.04 53.91 364.34 54.15 364.44 54.4 364.13 54.6 372.9 54.89 366.99 55 367.03 55.13 367.44 55.38 368.21 55.62 371.44 55.87 370.76 56.11 372.26 56.36 371.65 56.6 374.18 56.85 379.42 57.09 379.12 57.4 380.67 57.58 376.92 57.83 370.26 58 364.4 58.32 365.55 58.57 366.55 58.81 367.76 59.06 365.84 59.3 364.31 59.55 363.56 59.79 360.76 60 363.08 60.28 363.38 60.53 363.33 60.77 362.27 61.02 361.95 61.26 360.53 61.51 360.96 61.75 360.51 61.9 362.25 62 364.03 62.24 369.34 62.4 371.92 62.49 371.48 62.6 339.1 62.73 380.89 62.9 386.15 63 390.48 63.22 378.67 63.5 364.47 63.71 363.73 63.96 361.88 64.2 361.63 64.45 360.85 64.6 385.7 64.69 359.26 64.94 359.61 65.18 358.45 65.43 357.82 65.68 358.45 66 359.02 66.2 359.17 66.41 363.65 66.66 361.43 66.9 358.85 67.15 359.41 67.39 360.18 67.64 360.96 67.88 361.07 68.13 359.58 68.37 359.88 68.62 359.13 68.86 362.22 69.11 362.88 69.35 361.88 69.6 360.59 69.84 361.94 70 363.1 70.09 361.28 70.33 361.46 70.58 361.53 70.82 362.87 71.07 361.49 71.31 361.73 71.56 362.76 71.8 364.2 72.05 362.94 72.29 361.66 72.54 360.59 72.79 361.41 73.03 361.07 73.28 363 73.6 353.3 73.77 361.79 74.01 363.05 74.26 363.65 74.5 362.29 74.75 364.52 75 364.71 75.24 362.55 75.48 361.95 75.73 362.9 75.97 363.93 76.22 362.45 76.46 361.94 76.71 364.71 76.95 363.02 77.2 362.18 77.44 362.05 77.69 361.68 77.93 362.99 78.18 362.7 78.42 363.55 78.67 363.38 78.91 362.6 79.16 363.66 79.4 363.86 79.65 362.5 79.9 362.41 80 361.5 80.14 361.59 80.39 362.67 80.63 360.95 80.88 362.8 81.12 362.43 81.37 362.78 81.61 363.04 81.86 363.03 82.1 363.34 82.35 362.1 82.59 362.09 82.84 362.54 83.08 360.99 83.33 363.25 83.57 363.12 83.82 364.13 84 364.5 84.31 362.53 84.55 361.07 84.8 362.87 85.04 363.3 85.29 360.61 85.53 361.67 85.78 361.7 86 361.95 86.2 351.48 86.51 354.84 86.76 357.85 87 359.97 87.25 360.12 87.5 360.58 87.74 361.78 87.99 362.1 88.23 361.63 88.48 362.17 88.72 362.49 88.97 363.64 89.21 361.74 89.46 363.31 89.6 362.47 89.7 363.79 90 361.58 90.19 363.87 90.44 358.12 90.68 362.51 90.93 363.76 91.17 363.07 91.42 363.53 91.66 362.65 91.91 361.93 92.15 361.67 92.4 363.36 92.64 362.23 92.89 362.69 93 362.99 93.13 362.79 93.38 361.76 93.62 363.72 93.87 364.1 94.11 362.77 94.36 361.42 94.61 361.4 94.85 361.29 95.1 360.5 95.34 361.02 95.59 359.94 95.83 361.24 96 359.37 96.32 360.29 96.57 361.74 96.81 362.29 97.06 361.26 97.3 360.83 97.55 361.35 97.79 361.04 98.04 361.84 98.28 363.09 98.53 362.4 98.77 360.13 99.02 361.19 99.26 361.89 99.51 360.27 99.75 359.62 100 360.59 100.24 362.43 100.49 359.97 100.8 361.11 100.98 363.01 101.22 363.29 101.47 362.18 101.72 363.08 101.96 362.11 102.21 363.19 102.45 363.84 102.7 364.72 102.94 364.36 103.19 363.39 103.43 364.4 103.68 365.19 104 370 104.17 363.81 104.41 361.88 104.66 362.07 104.9 362.15 105.15 363.75 105.39 362.36 105.6 360.38 105.88 360.45 106 361.13 106.13 360.55 106.37 359.7 106.62 361.1 106.86 360.66 107.11 361.24 107.35 359.76 107.6 360.76 107.84 361.71 108.09 362.56 108.33 362.34 108.58 363.68 108.83 363.46 109.07 364.42 109.32 364.43 109.56 366.29 109.81 363.2 110 369 110.3 363.55 110.54 362.8 110.79 363.94 111.03 362.64 111.28 361.38 111.52 362.15 111.77 361.95 112.01 363.86 112.26 363.5 112.5 361.05 112.75 361.52 112.99 362.12 113.24 362.33 113.48 363.76 113.73 362.04 114 363.46 114.22 361.75 114.46 362.26 114.71 364.64 114.95 363.66 115.2 363.49 115.44 362.17 115.69 363.65 115.93 360.83 116.18 360.97 116.43 362.97 116.67 362.5 116.92 362.46 117 362.77 117.16 361.17 117.41 361.56 117.65 362.33 117.9 361.25 118 361.72 118.14 360.3 118.39 361.99 118.63 361.67 118.88 362.6 119.12 363.63 119.37 362.28 119.61 361.63 119.86 363.07 120.1 362.39 120.35 365.96 120.59 363.51 120.84 363.63 121.08 365.55 121.33 363.37 121.57 362.69 121.82 363.68 122 362.4 122.31 362.57 122.55 361.77 122.8 361.99 123.04 361.11 123.29 362.04 123.54 362.32 123.78 363.2 124.03 361.81 124.27 361.95 124.52 361.89 124.76 361.85 125.01 362.58 125.25 362.04 125.5 361.09 125.74 361.7 126 361.12 126.23 362.33 126.48 361.49 126.72 361.59 126.97 362.81 127.21 362.26 127.46 362.72 127.7 362.05 127.95 361.54 128.19 361.21 128.44 360.86 128.68 361.07 128.93 361.83 129.17 363.01 129.42 362.79 129.66 362.74 129.91 361.83 130 361.2 130.15 364.17 130.4 364.55 130.65 361.98 130.89 362.66 131.14 361.16 131.38 362.45 131.63 366.19 131.87 360.29 132.12 362.27 132.36 362.81 132.61 361.88 132.85 363.09 133.1 362.77 133.34 363.36 133.59 362.98 133.83 360.23 134 362.08 134.32 361.76 134.57 361.96 134.81 362.07 135.06 362.8 135.3 362.79 135.6 362.85 135.8 319.82 136.04 307.19 136.3 288.45 136.6 331.29 136.77 332.15 137.02 332.44 137.1 332.75 137.26 299.92 137.4 272.58 137.51 281.54 137.8 295.66 138 282.64 138.3 262.82 138.49 261.59 138.7 261.88 138.98 282.9 139.1 288.34 139.23 312.29 139.47 356.55 139.6 380.65 139.72 391.72 139.96 419.61 140.1 433.75 140.21 423.73 140.5 390.21 140.7 360.91 141 318.18 141.19 314.34 141.5 306.28 141.68 315.44 142 339.16 142.2 429.14 142.41 413.31 142.5 408.61 142.66 390.62 142.9 374.98 143 371.12 143.15 368.01 143.3 367.15 143.39 367.28 143.64 366.46 143.8 368.89 143.88 368.5 144.2 366.73 144.37 363.96 144.6 363.28 144.87 361.28 145 359.42 145.1 365.17 145.36 368.45 145.6 374.48 145.85 381.98 146.09 386.6 146.3 393.33 146.5 393.75 146.58 395.82 146.83 396.21 147 403.57 147.32 406.23 147.56 409.32 147.7 406.88 147.81 406.76 148 400.17 148.3 387.3 148.54 406.61 148.79 410.04 149 416.08 149.28 403.17 149.52 393.31 149.7 384.64 150 378.02 150.26 381.18 150.5 374.93 150.75 374.79 150.99 369.8 151.24 370.6 151.48 370.94 151.73 366.85 152 364.62 152.22 362.21 152.47 358.14 152.71 354.59 152.96 351.69 153.2 343.36 153.4 342.79 153.69 348.56 153.8 351.64 154 359.58 154.18 357.31 154.5 363.7 154.67 364.59 154.92 369.72 155 365.5 155.16 367.53 155.41 366.98 155.65 374.53 155.9 375.76 156 374.29 156.14 374.85 156.39 369.79 156.63 380.84 156.88 380.53 157 383.73 157.12 385.38 157.37 385.98 157.61 386.16 157.86 389.21 158 392.44 158.1 384.07 158.35 382.71 158.59 385.3 158.84 385.54 159 381.76 159.08 378.95 159.33 375.77 159.58 375.96 159.82 374.21 160 373.74 160.31 368.56 160.4 373.09 160.56 368.41 160.8 365.41 161.05 364.22 161.29 364.25 161.5 368.24 161.78 366.59 162 372.15 162.27 367.8 162.52 364.28 162.76 363.14 163 362.59 163.25 361.62 163.5 357.97 163.74 363.18 163.99 363.25 164.23 365.35 164.48 361.7 164.72 359.64 165 362.55 165.21 366.24 165.46 368.33 165.7 360.7 166 365.29 166.19 368.05 166.44 364.26 166.69 365.39 166.93 366.39 167.18 364.27 167.42 365.33 167.67 359.55 167.91 364.56 168 367.74 168.16 367.02 168.4 367.79 168.65 368.27 168.89 371.64 169.14 365.88 169.38 357.91 169.63 356.42 169.87 360.02 170 362.67 170.12 362.68 170.36 363.89 170.61 357.95 170.8 356.53 171.1 362.15 171.3 362.05 171.59 359.21 171.83 365.48 172 359.76 172.32 357.7 172.57 356.77 172.81 354.38 173 351.43 173.3 350.47 173.55 344.71 173.8 340.67 174.04 339.83 174.29 337.43 174.5 339.61 174.78 342.03 175 348.41 175.27 350.41 175.51 355.34 175.76 357.41 176 358.64 176.25 359.29 176.49 363.77 176.74 364.67 176.98 362.79 177.23 368.22 177.47 374.28 177.72 380.26 178 378.47 178.21 379.93 178.5 371.48 178.7 377.89 178.94 372.69 179.19 372.68 179.43 367.71 179.68 365.85 180 364.25 180.17 363.62 180.41 363.73 180.66 367.24 180.9 361.55 181 364.52 181.15 365.59 181.4 363.66 181.5 361.45 181.64 366 181.89 367.35 182.13 363.48 182.38 365.79 182.62 366.25 182.87 365.35 183 365.96 183.11 365.32 183.36 364.44 183.6 358.22 183.85 359.16 184 357.83 184.09 357.86 184.34 364.71 184.58 361.55 184.83 362.05 185.07 355.97 185.32 362.06 185.56 358.69 185.81 359.36 186 362.63 186.3 357.76 186.54 356.97 186.79 359.2 187 355.35 187.28 356.32 187.52 356.08 187.77 360.87 188.01 363.08 188.26 367.05 188.51 362.3 188.75 362.2 189 358.17 189.24 364.38 189.49 362.87 189.73 366.74 189.98 364.76 190.22 365.49 190.47 365.98 190.71 367.8 191 369.3 191.2 370.03 191.45 371.21 191.69 364.01 192 363.52 192.18 365.35 192.43 366.42 192.67 368.96 192.92 365.23 193.16 363.19 193.41 363.7 193.65 366.06 193.8 364.61 193.9 360.41 194.14 357.24 194.39 358.92 194.63 362.46 194.88 357.01 195 357.91 195.12 363.63 195.37 365.08 195.62 344.09 195.86 359.15 196.11 365.44 196.35 367.49 196.6 373.43 196.84 372.56 197 379.34 197.09 377.85 197.33 386.22 197.58 380.55 197.82 378.25 198 381.28 198.31 386.05 198.5 386.9 198.8 380.66 199 378.82 199.29 373.7 199.54 369.14 199.78 356.54 200 362.72 200.27 364.79 200.5 365.64 200.76 362.36 201.01 364.71 201.25 361 201.5 358.85 201.74 357.98 202 358.3 202.23 358.56 202.48 355.89 202.73 348.67 202.97 348.05 203.22 349.76 203.46 344.68 203.71 340.73 204 341.05 204.2 341.9 204.44 345.01 204.69 346.61 205 352.87 205.18 354.35 205.42 351.72 205.67 355.42 205.91 361.89 206 358.97 206.16 361.32 206.4 359.61 206.65 365.53 206.89 369.28 207.14 366.94 207.38 360.45 207.63 357.07 207.87 351.5 208 355.12 208.12 356.73 208.36 347.28 208.61 347.94 208.85 348.1 209.1 355.6 209.34 349.61 209.59 349.68 209.83 345.96 210 344.23 210.08 345.11 210.33 349.36 210.57 352.87 210.82 353.27 211 354.27 211.31 362.2 211.5 362.15 211.8 365.36 212 365.8 212.29 366 212.6 369.3 212.78 371.54 213.02 372.36 213.27 365.21 213.51 363.97 213.76 360.46 214 356.87 214.25 359.82 214.49 359.38 214.7 360.28 214.98 362.82 215.23 359.87 215.47 363.33 215.72 366.74 216 363.64 216.21 364.67 216.45 365.08 216.7 363.44 216.94 356.6 217.19 359.38 217.44 359.99 217.68 361.62 218 362.08 218.17 360.31 218.42 363.23 218.66 362.43 218.91 361.6 219 370.68 219.15 362.76 219.4 364.57 219.64 364.78 219.89 360.02 220 362.08 220.13 358.94 220.38 361.2 220.62 364.37 220.87 364.59 221.11 368.61 221.36 367.01 221.6 362.86 221.85 360.34 222 358.23 222.09 358.11 222.34 358.96 222.58 359.94 222.83 358.25 223.07 357.8 223.32 359.4 223.56 361.64 223.81 360.82 224 359.7 224.3 360.17 224.55 363.31 224.79 358.46 225 368.67 225.28 365.18 225.53 366.61 225.77 357.97 226 359.68 226.26 362.82 226.51 361 226.75 357.92 227 361.34 227.24 365.24 227.49 365.09 227.73 358.69 228 360.32 228.22 358.77 228.47 360.61 228.71 359.34 229 359.35 229.2 361.7 229.45 357.5 229.69 357.33 230 358.95 230.18 361.74 230.43 359.6 230.67 360.13 230.92 361.8 231.16 361.59 231.41 363.59 231.5 361.29 231.66 361.2 231.9 363.39 232 366.61 232.15 364.04 232.39 354.61 232.64 362.91 232.88 364.67 233 367.18 233.13 367.3 233.37 367.72 233.62 363.59 233.86 367.75 234 368.49 234.11 366.53 234.35 368.75 234.6 366.84 234.84 371.03 235 364.87 235.09 366.5 235.4 364.81 235.58 365.13 235.82 361.09 236 360.06 236.31 357.54 236.5 359.95 236.8 357.87 237 360.99 237.29 360.2 237.54 360.06 237.78 357.25 238 358.49 238.27 358.37 238.52 354.97 238.77 355.25 239.01 359.73 239.26 346.85 239.5 347.26 239.75 341.11 239.99 345.42 240.24 346.34 240.48 345.97 240.8 342.18 241 346.15 241.22 349.31 241.46 358.07 241.71 354.59 242 356.38 242.2 359.32 242.5 359.52 242.69 362.58 242.93 366.69 243.18 364.91 243.42 365.85 243.67 367.81 243.91 364.66 244 363.82 244.16 369.68 244.4 368.44 244.65 367.69 244.89 366.08 245 373.65 245.14 369.38 245.38 365.32 245.63 365.8 245.87 367.36 246 362.05 246.12 363.96 246.37 368.4 246.61 360.35 246.8 360.64 247.1 364.03 247.35 362.07 247.59 362.76 247.84 362.1 248 366.55 248.08 361.51 248.33 363.35 248.57 364.46 248.82 364.96 249 363.77 249.31 366.52 249.55 368.99 249.8 369.05 250 369.12 250.29 367.45 250.53 363.98 250.78 360.68 251 363.25 251.27 359.04 251.51 361.51 251.76 352.48 252 354.57 252.25 354.23 252.5 357.83 252.74 356.86 253 360.62 253.23 361.48 253.48 363.06 253.72 365.54 254 364.64 254.21 361.94 254.46 366.2 254.6 367.03 254.7 368 254.95 368.33 255.19 368.58 255.5 370.88 255.68 368.02 256 367.78 256.17 369.83 256.42 366.81 256.66 365.57 256.91 360.49 257 358.84 257.15 358.25 257.4 352.46 257.5 353.31 257.64 353.7 257.89 349.55 258 349.83 258.13 348.5 258.38 338.08 258.62 341.65 258.87 340.09 259 342.79 259.11 341.33 259.36 338.79 259.5 341.7 259.6 343.5 259.85 328.73 260 340.23 260.09 345.99 260.34 351 260.59 352.37 260.83 361.26 261 361.06 261.32 363.97 261.57 362.58 261.81 369.15 262 392.04 262.3 381.21 262.5 376.91 262.79 379.48 263 378.55 263.3 383.02 263.53 382.95 263.77 382.57 264 380 264.26 375.15 264.5 366.65 264.75 371.63 265 368.61 265.24 373.21 265.49 376.94 265.73 377.68 266 380.54 266.22 382.98 266.47 385.94 266.6 385.23 266.71 389.27 267 387.26 267.2 384.15 267.45 377.48 267.7 372.05 268 365.48 268.19 365.77 268.5 352.01 268.68 358.05 269 349.91 269.17 347.54 269.41 352.71 269.66 345.14 269.9 340.29 270 337.76 270.15 335.87 270.39 327.72 270.5 330.28 270.64 331.08 270.88 336.45 271.13 341.32 271.37 338.91 271.5 345.03 271.62 339.78 271.86 340.81 272 330.42 272.11 324.38 272.4 311.2 272.6 319.33 272.84 328.34 273.09 338.73 273.33 353.19 273.5 362.63 273.82 364.78 274.07 364.71 274.31 364.98 274.56 368.31 274.8 373.47 275 369.62 275.3 370.58 275.54 372.29 275.79 363.91 276.03 361.18 276.28 360.91 276.52 360.02 276.77 354.29 277 354.57 277.26 359.33 277.5 360.9 277.75 359.03 278 371.26 278.24 371.79 278.48 374.09 278.73 380.64 279 379.46 279.22 382.54 279.46 379.99 279.71 371.1 280 372.17 280.2 376.73 280.44 374.9 280.69 373.86 281 370.08 281.18 370.77 281.42 375.42 281.67 379.01 281.91 382.43 282.16 377.87 282.41 386.99 282.65 389.3 282.9 387.94 283 389.12 283.14 393.3 283.39 397.04 283.5 401.17 283.63 396.93 283.88 390.39 284.12 382.67 284.37 378.1 284.61 372.91 284.86 368.13 285 365.06 285.1 364.25 285.2 366.38 285.35 366.33 285.59 365.94 285.84 362.97 286.08 365.77 286.33 364.55 286.5 371.1 286.82 367.59 287 363.22 287.31 364.63 287.55 364.5 287.8 366.33 288 366.79 288.29 365.92 288.53 365.55 288.78 371.86 289 380.6 289.27 378.17 289.52 372.27 289.76 369.06 290 367.55 290.25 364.97 290.5 361.39 290.74 358.81 291 362.46 291.23 360.46 291.48 362.83 291.72 367.3 292 371.22 292.21 370.95 292.46 375.87 292.7 377.44 293 378.01 293.19 377.94 293.44 374.65 293.68 378.84 294 386.81 294.17 387.87 294.42 394.78 294.66 394.31 294.91 398.75 295 405.06 295.15 400.47 295.4 390.27 295.64 385.08 295.89 379.5 296 377.75 296.13 375.03 296.38 370.98 296.5 374.45 296.63 371.24 296.87 367.68 297 366.13 297.12 364.47 297.36 356.41 297.61 364.51 297.85 359.19 298 361.21 298.1 361.2 298.34 357.71 298.59 360.41 298.83 363.35 299 356.87 299.32 360.26 299.57 361.24 299.81 363.21 300 360.92 300.3 363.73 300.55 361.58 300.79 364.26 301 362.89 301.28 374.77 301.53 363.95 301.77 358.21 302 359.35 302.26 356.81 302.5 351.17 302.75 357.38 303 361.88 303.24 362.41 303.49 360.69 303.73 362.59 304 369.31 304.23 375.83 304.47 366.88 304.72 369.02 305 366.29 305.21 366.78 305.45 366.23 305.7 371.99 306 369.18 306.19 364.89 306.43 369.18 306.68 370.61 307 373.86 307.17 369.08 307.41 364.88 307.66 362.22 307.9 361.42 308 362.15 308.15 357.12 308.39 361.82 308.5 361.85 308.64 364.27 308.88 364.83 309 363.16 309.13 363.67 309.37 364.97 309.62 364.93 309.86 366.95 310 365.43 310.11 368.35 310.35 370.79 310.5 366.85 310.6 363.92 310.84 365.97 311.09 371.07 311.34 368.89 311.58 365.72 311.83 363.05 312 361.68 312.32 358.56 312.56 361.67 312.81 360.01 313.05 353.9 313.3 353.2 313.54 357.11 313.79 356.42 314 354.44 314.28 354.32 314.52 352.08 314.77 350.44 315.01 352.37 315.26 353.96 315.5 360.94 315.75 356.2 316 355.92 316.24 348.26 316.48 348.84 316.73 347.96 316.97 343.13 317.22 353.18 317.46 345.83 317.71 342.17 317.95 343.41 318.2 338.84" stroke="#1f77b4" stroke-width="0.8" stroke-opacity="1" fill="none" stroke-linejoin="round" clip-path="url(#clipc)"/>
<path d="M36.5 361.47 36.75 360.91 36.99 361.49 37.24 361.3 37.48 362.47 37.73 361.65 37.97 361.37 38.22 359.73 38.46 359.2 38.71 361.76 38.95 361.01 39.2 361.16 39.44 365.43 39.69 362.49 40 362.7 40.18 361.73 40.42 361.66 40.67 361.9 40.91 361.63 41.16 361.26 41.4 360.76 41.65 360.17 41.89 361.59 42.14 361.84 42.38 362.28 42.63 361.82 42.87 361.8 43.12 361.31 43.36 360.41 43.61 359.48 43.86 360.57 44.1 360.92 44.35 358.69 44.59 359.46 44.84 358.68 45 360.83 45.08 360.98 45.33 360.51 45.57 363.86 45.82 362.89 46.06 360.98 46.31 359.23 46.55 361.13 46.8 361.6 47.04 360.53 47.29 359.46 47.53 359.72 47.78 360.66 48 360.4 48.27 362.04 48.51 361.98 48.76 361.3 49 362.14 49.25 361.1 49.49 361.21 49.8 360.12 49.98 353.93 50.2 348.39 50.47 356.46 50.7 363.5 51 370.3 51.21 364.11 51.46 364.34 51.7 362.63 51.95 360.91 52.19 360.71 52.5 362.42 52.68 361.46 53 360.63 53.17 361.87 53.42 362.02 53.66 362.68 53.91 362.77 54.15 361.87 54.4 362.55 54.6 361.78 54.89 364.34 55 364.95 55.13 366.31 55.38 367.09 55.62 368.62 55.87 369.45 56.11 371.06 56.36 371.16 56.6 373 56.85 377.18 57.09 377.17 57.4 379.58 57.58 376.07 57.83 369.74 58 365.49 58.32 365.34 58.57 365.22 58.81 364.7 59.06 363.22 59.3 361.86 59.55 361.12 59.79 361.93 60 361.35 60.28 360.48 60.53 360.77 60.77 361.24 61.02 360.58 61.26 359.64 61.51 359.31 61.75 360.89 61.9 362.87 62 372.33 62.24 394.5 62.4 407.39 62.49 399.18 62.6 389.08 62.73 377.59 62.9 362.22 63 389.46 63.22 375.9 63.5 360.22 63.71 361.54 63.96 361.03 64.2 360.67 64.45 359.47 64.6 359.12 64.69 359.12 64.94 359.16 65.18 357.7 65.43 356.11 65.68 356.92 66 356.66 66.2 352.8 66.41 358.77 66.66 359.12 66.9 358 67.15 358.29 67.39 357.45 67.64 358.87 67.88 357.37 68.13 357.37 68.37 359.15 68.62 357.63 68.86 360.52 69.11 358.6 69.35 359.33 69.6 360.04 69.84 361.14 70 360.6 70.09 358.88 70.33 360.18 70.58 359.02 70.82 361.02 71.07 361.01 71.31 361.59 71.56 359.35 71.8 361.33 72.05 360.8 72.29 359.4 72.54 360.21 72.79 364.2 73.03 361.61 73.28 360.94 73.6 358.66 73.77 360.73 74.01 363.01 74.26 362.95 74.5 366.68 74.75 364.34 75 363.58 75.24 361.05 75.48 361.37 75.73 359.24 75.97 362.21 76.22 360.97 76.46 360.22 76.71 362.12 76.95 362.91 77.2 360.35 77.44 360.18 77.69 361.05 77.93 360.14 78.18 361.47 78.42 366.22 78.67 362.83 78.91 361.77 79.16 361.13 79.4 362.65 79.65 360.41 79.9 361.3 80 360.88 80.14 360.98 80.39 362.63 80.63 360.81 80.88 362.49 81.12 361.93 81.37 359.79 81.61 361.65 81.86 361.54 82.1 361.72 82.35 361.18 82.59 362.19 82.84 362.14 83.08 362.71 83.33 361.36 83.57 361.53 83.82 362.33 84 362.42 84.31 360.34 84.55 360.59 84.8 361.54 85.04 360.84 85.29 360.87 85.53 361.47 85.78 359.09 86 359.59 86.2 348.87 86.51 353.53 86.76 356.89 87 357.85 87.25 359.49 87.5 360.83 87.74 360.26 87.99 360.35 88.23 360.43 88.48 361.28 88.72 361.05 88.97 362.16 89.21 361.35 89.46 361.85 89.6 373.8 89.7 362.23 90 361.16 90.19 362.59 90.44 354.7 90.68 359.88 90.93 362.81 91.17 362.27 91.42 360.92 91.66 361.22 91.91 361.8 92.15 361.56 92.4 361.03 92.64 361.56 92.89 360.79 93 360.82 93.13 359.83 93.38 359.93 93.62 362.11 93.87 360.78 94.11 361.33 94.36 359.73 94.61 355.05 94.85 358.77 95.1 358.95 95.34 359.95 95.59 359.14 95.83 360.19 96 359.1 96.32 359.19 96.57 359.47 96.81 359.72 97.06 359.1 97.3 358.62 97.55 355.77 97.79 357.94 98.04 359.44 98.28 360.93 98.53 358.81 98.77 358.78 99.02 360.3 99.26 360.44 99.51 358.71 99.75 359.22 100 363.28 100.24 361.51 100.49 360.49 100.8 368.2 100.98 362.18 101.22 361.4 101.47 361.17 101.72 361.52 101.96 360.69 102.21 361.81 102.45 360.72 102.7 359.89 102.94 361.5 103.19 361.95 103.43 365.52 103.68 364.3 104 361.26 104.17 362.19 104.41 361.36 104.66 360.53 104.9 362.02 105.15 361.66 105.39 360.28 105.6 351.4 105.88 358.36 106 358.83 106.13 359.45 106.37 359.76 106.62 359.62 106.86 359.65 107.11 360.55 107.35 359.06 107.6 360.24 107.84 358.73 108.09 360.84 108.33 359.59 108.58 359.23 108.83 360.24 109.07 360.46 109.32 360.91 109.56 361.65 109.81 362.21 110 361.99 110.3 361.58 110.54 361.05 110.79 361.99 111.03 360.74 111.28 360.64 111.52 363.28 111.77 362.42 112.01 363.43 112.26 360.42 112.5 359.45 112.75 359.76 112.99 361.44 113.24 359.6 113.48 362.44 113.73 359.21 114 361.18 114.22 360.32 114.46 358.39 114.71 360.86 114.95 362.26 115.2 360.15 115.44 360.11 115.69 359.08 115.93 359.31 116.18 359.65 116.43 361.28 116.67 359.39 116.92 359.99 117 366 117.16 360.26 117.41 360.74 117.65 358.94 117.9 360.99 118 360.04 118.14 360.12 118.39 359.88 118.63 359.66 118.88 360.73 119.12 361.58 119.37 359.98 119.61 359.55 119.86 360.87 120.1 360.15 120.35 364.82 120.59 361.36 120.84 362.71 121.08 362.7 121.33 363.04 121.57 363.11 121.82 362.44 122 362.01 122.31 361.24 122.55 359.69 122.8 361.36 123.04 360.44 123.29 362 123.54 362.3 123.78 361.49 124.03 360.89 124.27 361.07 124.52 360.93 124.76 360.36 125.01 360.49 125.25 359.11 125.5 359 125.74 360.38 126 359.15 126.23 358.91 126.48 360.71 126.72 360.56 126.97 360.5 127.21 362.46 127.46 362.07 127.7 359.57 127.95 359.35 128.19 359.84 128.44 360.11 128.68 359.49 128.93 361.95 129.17 361.43 129.42 361.33 129.66 361.31 129.91 359.88 130 360.61 130.15 362.16 130.4 362.39 130.65 360.36 130.89 360.52 131.14 361.31 131.38 360.45 131.63 364.51 131.87 359.46 132.12 359.83 132.36 360.18 132.61 360.16 132.85 361.19 133.1 360.86 133.34 361.49 133.59 361.18 133.83 360.77 134 361.59 134.32 360.96 134.57 358.78 134.81 358.53 135.06 360.15 135.3 360.27 135.6 360.95 135.8 319.26 136.04 305.59 136.3 288.18 136.6 331.58 136.77 332.82 137.02 333.6 137.1 333.14 137.26 301.09 137.4 273.06 137.51 281.52 137.8 296.49 138 283.65 138.3 262.97 138.49 260.93 138.7 261.89 138.98 281.71 139.1 288.04 139.23 311.98 139.47 356.94 139.6 380.52 139.72 391.8 139.96 419.53 140.1 433.51 140.21 422.45 140.5 390.13 140.7 360.7 141 318.19 141.19 314 141.5 305.95 141.68 315.3 142 339.07 142.2 350.1 142.41 356.92 142.5 360.03 142.66 353.2 142.9 340.55 143 334.35 143.15 329.46 143.3 321.24 143.39 314.55 143.64 300.55 143.8 290.84 143.88 290.58 144.2 282.36 144.37 290.8 144.6 300.27 144.87 334.19 145 363.84 145.1 359.47 145.36 356.06 145.6 360.54 145.85 359.27 146.09 348.09 146.3 352.02 146.5 354.81 146.58 353.83 146.83 353.26 147 350.75 147.32 355.83 147.56 344.82 147.7 345.32 147.81 342.32 148 344.32 148.3 336.82 148.54 331.07 148.79 329.71 149 325.84 149.28 324.04 149.52 318.77 149.7 317.09 150 324.08 150.26 338.49 150.5 351.41 150.75 350.38 150.99 359.18 151.24 360.37 151.48 361.66 151.73 362.49 152 370.92 152.22 364.07 152.47 368.52 152.71 369.07 152.96 366.71 153.2 371.82 153.4 370.49 153.69 378.32 153.8 377.73 154 370.87 154.18 369.1 154.5 368.6 154.67 364.22 154.92 353.31 155 356.27 155.16 356.04 155.41 357.46 155.65 353.82 155.9 350.89 156 354.98 156.14 356.58 156.39 355.61 156.63 351.68 156.88 353.7 157 354.42 157.12 350.79 157.37 350.9 157.61 350.3 157.86 349.15 158 349.5 158.1 347.28 158.35 345.6 158.59 342.83 158.84 348.98 159 349.19 159.08 346.53 159.33 344.64 159.58 342.66 159.82 343.63 160 341.59 160.31 337.72 160.4 332.6 160.56 334.05 160.8 344.37 161.05 348.19 161.29 358.07 161.5 365.56 161.78 364.29 162 361.12 162.27 366.02 162.52 368.57 162.76 369.32 163 368.54 163.25 367.75 163.5 367.89 163.74 365.95 163.99 362.36 164.23 363.51 164.48 360.68 164.72 359.17 165 363.34 165.21 358.86 165.46 356.77 165.7 355.94 166 353.77 166.19 355.62 166.44 357.53 166.69 358.98 166.93 356.29 167.18 354.08 167.42 357.51 167.67 353.11 167.91 355.94 168 354.19 168.16 356.84 168.4 365.82 168.65 367.34 168.89 372.26 169.14 376.3 169.38 380.09 169.63 386.16 169.87 391.96 170 397.1 170.12 399.19 170.36 404.13 170.61 408.26 170.8 408.77 171.1 398.74 171.3 396.17 171.59 383.3 171.83 373.12 172 366.83 172.32 361.66 172.57 364.82 172.81 359.62 173 355.49 173.3 361.26 173.55 356.86 173.8 356.07 174.04 355.98 174.29 351.29 174.5 352.39 174.78 356.16 175 355.74 175.27 351.2 175.51 352.4 175.76 356.47 176 358.97 176.25 354.93 176.49 359.96 176.74 355.77 176.98 353.58 177.23 353.94 177.47 356.18 177.72 360.3 178 359.15 178.21 357.08 178.5 355.55 178.7 352.14 178.94 353.41 179.19 351.17 179.43 352.11 179.68 344.65 180 343.55 180.17 338.09 180.41 342.9 180.66 340.59 180.9 341.2 181 342.78 181.15 339.91 181.4 346.34 181.5 343.18 181.64 340.84 181.89 342.55 182.13 342.12 182.38 345.33 182.62 353.64 182.87 356.21 183 358.97 183.11 351.41 183.36 357.43 183.6 355.82 183.85 360.62 184 357.56 184.09 353.19 184.34 348.28 184.58 349.8 184.83 349.99 185.07 352.93 185.32 353.48 185.56 354.15 185.81 351.39 186 351.17 186.3 351.69 186.54 357.5 186.79 351.07 187 354.91 187.28 355.45 187.52 356.59 187.77 349.35 188.01 354.26 188.26 360.08 188.51 365.61 188.75 362.54 189 362.67 189.24 363.58 189.49 358.16 189.73 352.21 189.98 353.17 190.22 354.39 190.47 353.11 190.71 349.83 191 348.48 191.2 351.84 191.45 351.05 191.69 349.39 192 347.04 192.18 344.54 192.43 344.24 192.67 342.55 192.92 338.22 193.16 338.53 193.41 336.01 193.65 336.72 193.8 334.35 193.9 336.8 194.14 337.92 194.39 345.1 194.63 346.19 194.88 352.7 195 359.85 195.12 361.23 195.37 361.29 195.62 353.34 195.86 353.31 196.11 352.38 196.35 349.14 196.6 343.56 196.84 346.58 197 342.05 197.09 334.83 197.33 337.75 197.58 337.31 197.82 333.44 198 335.14 198.31 334.11 198.5 330.36 198.8 326.51 199 327.83 199.29 329.65 199.54 344.18 199.78 347.54 200 353.96 200.27 361.64 200.5 375.51 200.76 370.49 201.01 367.7 201.25 363.09 201.5 361.02 201.74 361.2 202 351.62 202.23 356.81 202.48 368.46 202.73 359.81 202.97 356.66 203.22 357.09 203.46 357.41 203.71 357.98 204 360.51 204.2 350.27 204.44 359.1 204.69 365.58 205 362.88 205.18 360.64 205.42 361.45 205.67 356.65 205.91 354.75 206 356.04 206.16 359.15 206.4 358.55 206.65 357.86 206.89 348.78 207.14 344.99 207.38 354.75 207.63 356.29 207.87 357.95 208 352.85 208.12 349.83 208.36 352.56 208.61 358.59 208.85 358.16 209.1 355.77 209.34 356.88 209.59 357.96 209.83 360.14 210 355.43 210.08 355.37 210.33 368.35 210.57 366.66 210.82 365.75 211 366.64 211.31 364.31 211.5 361.56 211.8 362.51 212 359.94 212.29 350.56 212.6 355.25 212.78 352.73 213.02 353.42 213.27 349.69 213.51 351.12 213.76 344.31 214 344.43 214.25 343.9 214.49 345.69 214.7 345.24 214.98 341.65 215.23 348.83 215.47 355.04 215.72 369.01 216 362.83 216.21 364.19 216.45 361.63 216.7 360.49 216.94 361.45 217.19 360.77 217.44 362.59 217.68 345.04 218 354.68 218.17 351.36 218.42 355.33 218.66 356.9 218.91 363.71 219 360.05 219.15 363.87 219.4 360.43 219.64 360.14 219.89 358.46 220 361.29 220.13 360.9 220.38 363.09 220.62 364.33 220.87 364.74 221.11 359.57 221.36 359.2 221.6 358.1 221.85 366.06 222 367.43 222.09 364.06 222.34 361.18 222.58 358.79 222.83 356.86 223.07 354.15 223.32 356.46 223.56 356.48 223.81 357.91 224 355.45 224.3 353.57 224.55 354.79 224.79 357.21 225 352.56 225.28 357.6 225.53 357.99 225.77 359.24 226 358.35 226.26 362.09 226.51 359.39 226.75 357.15 227 360.12 227.24 359.99 227.49 363.71 227.73 361.18 228 359.88 228.22 360.51 228.47 361.07 228.71 356.17 229 353.6 229.2 353.84 229.45 359.75 229.69 357.12 230 355.9 230.18 358.2 230.43 356.35 230.67 356.38 230.92 355.3 231.16 352.64 231.41 348.93 231.5 348.95 231.66 354.34 231.9 355.96 232 362.4 232.15 359.4 232.39 357.35 232.64 358.93 232.88 361.31 233 364.03 233.13 366.42 233.37 368.01 233.62 377.42 233.86 377.23 234 376.49 234.11 380.87 234.35 394.7 234.6 388.72 234.84 390.32 235 384.39 235.09 394.07 235.4 385.73 235.58 385.43 235.82 382.25 236 375.63 236.31 379.58 236.5 377.19 236.8 373.88 237 370.86 237.29 373.35 237.54 374.93 237.78 371.58 238 377.56 238.27 377.17 238.52 379.04 238.77 380.21 239.01 384.05 239.26 378.52 239.5 380.55 239.75 376.11 239.99 382.22 240.24 382.19 240.48 381.25 240.8 384.86 241 381.14 241.22 374.31 241.46 368.12 241.71 366.11 242 360.84 242.2 366.51 242.5 367.53 242.69 367.42 242.93 348.27 243.18 358.32 243.42 360.1 243.67 354.92 243.91 351.82 244 349.8 244.16 357.66 244.4 354.1 244.65 353.29 244.89 350.89 245 350.76 245.14 348.41 245.38 348.02 245.63 355.45 245.87 347.72 246 349.09 246.12 349.06 246.37 352.53 246.61 343 246.8 343.44 247.1 350.93 247.35 357.81 247.59 358.84 247.84 356.58 248 362.87 248.08 370.83 248.33 375.23 248.57 365.31 248.82 365.32 249 356.51 249.31 360.59 249.55 361.68 249.8 358.75 250 358.44 250.29 357.14 250.53 355.46 250.78 351.88 251 350.49 251.27 345.21 251.51 343.55 251.76 337.48 252 330 252.25 333.69 252.5 324.78 252.74 333.48 253 339.64 253.23 349.33 253.48 349.94 253.72 354.86 254 362.55 254.21 367.54 254.46 369.86 254.6 368.98 254.7 371.38 254.95 373.76 255.19 377.03 255.5 382.88 255.68 378.03 256 387.58 256.17 392.09 256.42 393.48 256.66 402.75 256.91 402.14 257 404.46 257.15 409.28 257.4 409.09 257.5 412.4 257.64 406.63 257.89 400.66 258 392.12 258.13 387.26 258.38 379.58 258.62 370.16 258.87 357.66 259 348.05 259.11 354.26 259.36 356.88 259.5 360.16 259.6 360.55 259.85 358.93 260 362.15 260.09 366.38 260.34 362.37 260.59 362.56 260.83 362.47 261 359.49 261.32 372.72 261.57 376.99 261.81 386.81 262 393.52 262.3 404.74 262.5 412.36 262.79 378.93 263 353.77 263.3 318.72 263.53 326.14 263.77 329.37 264 344.16 264.26 355.77 264.5 354.94 264.75 361.86 265 367.17 265.24 372.92 265.49 390.01 265.73 391.27 266 392.02 266.22 402.62 266.47 410.44 266.6 413.79 266.71 399.54 267 393.8 267.2 388.86 267.45 376.85 267.7 362.71 268 357.56 268.19 350.99 268.5 347.01 268.68 330.19 269 315.34 269.17 323.64 269.41 329.79 269.66 335.28 269.9 343.9 270 349.02 270.15 349.34 270.39 360.94 270.5 360.51 270.64 357.44 270.88 351.46 271.13 355.73 271.37 356.61 271.5 350.82 271.62 352.65 271.86 352.85 272 353.77 272.11 352.55 272.4 354.38 272.6 352.93 272.84 350.82 273.09 356.34 273.33 355.24 273.5 366.45 273.82 367.13 274.07 364.66 274.31 369.6 274.56 367.21 274.8 365.77 275 371.37 275.3 371.21 275.54 364.24 275.79 365.23 276.03 361.06 276.28 364.56 276.52 362.49 276.77 360.9 277 362.04 277.26 356.99 277.5 358.94 277.75 354.97 278 364.26 278.24 374.92 278.48 360.72 278.73 362.15 279 361.45 279.22 359.13 279.46 359.3 279.71 363.83 280 362.81 280.2 368.92 280.44 363.04 280.69 358.52 281 363.42 281.18 376.54 281.42 365.56 281.67 367.62 281.91 360.87 282.16 360.77 282.41 363.41 282.65 365.03 282.9 363.83 283 367.99 283.14 353.83 283.39 351.27 283.5 350.25 283.63 346.08 283.88 341.55 284.12 337.86 284.37 332.85 284.61 327.13 284.86 321.67 285 305.08 285.1 313.77 285.2 310.39 285.35 316.16 285.59 325.24 285.84 338.53 286.08 345.81 286.33 356.12 286.5 361.79 286.82 359.89 287 360.34 287.31 358.46 287.55 353.02 287.8 352.9 288 350.68 288.29 346.75 288.53 347.41 288.78 347.8 289 348.7 289.27 343.77 289.52 338.38 289.76 339.59 290 339.38 290.25 342.45 290.5 344.83 290.74 348.07 291 351.37 291.23 359.45 291.48 363.35 291.72 360.79 292 369.57 292.21 368.92 292.46 368.13 292.7 376.25 293 373.27 293.19 373.23 293.44 370.35 293.68 368.95 294 373.33 294.17 371.81 294.42 369.19 294.66 367.9 294.91 368.56 295 366.09 295.15 368.48 295.4 362.45 295.64 362.55 295.89 361.64 296 361.99 296.13 361.92 296.38 357.89 296.5 362.38 296.63 362.14 296.87 366.55 297 364.01 297.12 362.83 297.36 367.54 297.61 373.12 297.85 372.31 298 368.49 298.1 367.64 298.34 359.77 298.59 354.96 298.83 354.54 299 352.26 299.32 351.56 299.57 351.2 299.81 342.03 300 337.58 300.3 333.81 300.55 328.73 300.79 324.58 301 318.75 301.28 334.7 301.53 335.54 301.77 341.8 302 347.09 302.26 354.47 302.5 364.45 302.75 358.55 303 350.71 303.24 357.51 303.49 357.88 303.73 351.26 304 349.92 304.23 346.54 304.47 340.92 304.72 341.52 305 339.44 305.21 337.74 305.45 333.14 305.7 330.99 306 329.82 306.19 330.81 306.43 326.34 306.68 327.31 307 320.64 307.17 326.56 307.41 327.55 307.66 332.25 307.9 347.37 308 347.05 308.15 351.28 308.39 345.18 308.5 359.8 308.64 365.79 308.88 371.82 309 375.81 309.13 377.06 309.37 382.77 309.62 390.33 309.86 407.23 310 400.38 310.11 412.41 310.35 411.92 310.5 414.79 310.6 411.34 310.84 405.87 311.09 397.19 311.34 390.75 311.58 383.26 311.83 377.68 312 375.74 312.32 373.93 312.56 382.04 312.81 373.59 313.05 365.69 313.3 364.7 313.54 365.95 313.79 362.33 314 357.24 314.28 357.83 314.52 354.61 314.77 353.94 315.01 355.86 315.26 351.02 315.5 353.83 315.75 355.01 316 352.41 316.24 352.51 316.48 360.68 316.73 361.62 316.97 357.74 317.22 363.73 317.46 366.69 317.71 364.72 317.95 368.07 318.2 371.49" stroke="#ff7f0e" stroke-width="0.8" stroke-opacity="1" fill="none" stroke-linejoin="round" clip-path="url(#clipc)"/>
<path d="M36.5 362.47 36.75 362.39 36.99 362.2 37.24 362.98 37.48 363 37.73 362.91 37.97 362.73 38.22 362 38.46 361.59 38.71 362.72 38.95 362.51 39.2 362.32 39.44 363.55 39.69 362.58 40 362.91 40.18 362.8 40.42 363.12 40.67 363.04 40.91 363.17 41.16 362.96 41.4 361.99 41.65 361.66 41.89 362.86 42.14 362.38 42.38 363.18 42.63 362.24 42.87 362.2 43.12 361.77 43.36 361.45 43.61 362.22 43.86 361.8 44.1 361.91 44.35 360.49 44.59 360.87 44.84 361.35 45 361.9 45.08 361.79 45.33 361.77 45.57 361.95 45.82 362.1 46.06 361.27 46.31 360.51 46.55 361.07 46.8 361.87 47.04 360.86 47.29 360.98 47.53 361.02 47.78 362.24 48 362.02 48.27 363.38 48.51 362.9 48.76 362.17 49 363.29 49.25 361.92 49.49 361.67 49.8 361.02 49.98 356.36 50.2 350.57 50.47 359.23 50.7 365.14 51 365.1 51.21 364.77 51.46 363.85 51.7 363.56 51.95 362.09 52.19 361.96 52.5 362.14 52.68 361.87 53 361.93 53.17 363.05 53.42 362.53 53.66 363.04 53.91 363.51 54.15 362.91 54.4 362.93 54.6 362.05 54.89 365.17 55 365.89 55.13 366.93 55.38 367.72 55.62 369.55 55.87 370.36 56.11 372.34 56.36 373.1 56.6 374.46 56.85 378.93 57.09 378.09 57.4 379.81 57.58 376.44 57.83 370.13 58 365.47 58.32 365.4 58.57 365.25 58.81 364.9 59.06 363.79 59.3 363.01 59.55 362.88 59.79 361.66 60 363.03 60.28 362.24 60.53 361.94 60.77 362.4 61.02 361.47 61.26 361.24 61.51 360.33 61.75 359.92 61.9 360.67 62 362.33 62.24 368.24 62.4 371.8 62.49 373.82 62.6 377.05 62.73 381.48 62.9 386.07 63 389.68 63.22 377.4 63.5 362.66 63.71 362.21 63.96 361.79 64.2 361.62 64.45 360.23 64.6 359.5 64.69 359.65 64.94 359.69 65.18 358.1 65.43 356.77 65.68 358.02 66 357.96 66.2 359.07 66.41 359.44 66.66 359.63 66.9 358.77 67.15 358.79 67.39 359.51 67.64 359.46 67.88 359.17 68.13 358.82 68.37 360.53 68.62 359.64 68.86 360.88 69.11 360.99 69.35 360.47 69.6 359.6 69.84 360.54 70 361.05 70.09 361.17 70.33 361.09 70.58 360.59 70.82 361.62 71.07 361.37 71.31 361.29 71.56 361.91 71.8 362.83 72.05 361.7 72.29 360.88 72.54 361.12 72.79 360.99 73.03 361.55 73.28 361.79 73.6 359.2 73.77 361.15 74.01 362.03 74.26 362.63 74.5 362.24 74.75 362.71 75 363.78 75.24 362.31 75.48 361.72 75.73 362.69 75.97 363.64 76.22 361.65 76.46 361.44 76.71 364.17 76.95 362.51 77.2 361.43 77.44 361.68 77.69 361.76 77.93 361.86 78.18 362.2 78.42 362.72 78.67 362.31 78.91 362.01 79.16 362.41 79.4 362.82 79.65 361.67 79.9 361.26 80 361 80.14 360.82 80.39 361.8 80.63 361.56 80.88 361.69 81.12 361.77 81.37 362.25 81.61 362.48 81.86 362.03 82.1 363.19 82.35 362.36 82.59 363.53 82.84 363.59 83.08 362.7 83.33 361.89 83.57 362.73 83.82 363.9 84 362.97 84.31 362.63 84.55 362.76 84.8 362.67 85.04 362.09 85.29 361.02 85.53 360.99 85.78 360.65 86 361.14 86.2 351.01 86.51 354.57 86.76 357.77 87 360.07 87.25 360.44 87.5 360.38 87.74 361.2 87.99 361.35 88.23 361.07 88.48 361.81 88.72 361.9 88.97 362.54 89.21 361.54 89.46 362.75 89.6 362.29 89.7 363 90 362.71 90.19 363.57 90.44 357.71 90.68 361.17 90.93 362.75 91.17 362.72 91.42 362.32 91.66 361.89 91.91 362.56 92.15 362.64 92.4 362.16 92.64 361.76 92.89 362.21 93 361.86 93.13 362.2 93.38 361.73 93.62 362.73 93.87 362.69 94.11 362.53 94.36 360.53 94.61 360.09 94.85 360.39 95.1 360.25 95.34 360.06 95.59 359.23 95.83 359.88 96 359.35 96.32 359.72 96.57 360.11 96.81 360.68 97.06 360.46 97.3 360.47 97.55 360.14 97.79 359.96 98.04 360.68 98.28 360.8 98.53 361.13 98.77 360.2 99.02 360.63 99.26 360.69 99.51 359.75 99.75 361.17 100 361.33 100.24 362.16 100.49 360.83 100.8 360.76 100.98 361.79 101.22 362.51 101.47 361.73 101.72 362.43 101.96 362.03 102.21 362.28 102.45 362.9 102.7 362.73 102.94 362.86 103.19 363.78 103.43 364.62 103.68 364.62 104 364.23 104.17 363.52 104.41 362.71 104.66 361.7 104.9 362.01 105.15 361.97 105.39 360.97 105.6 360.37 105.88 359.55 106 359.44 106.13 360.07 106.37 360.11 106.62 360.63 106.86 360.87 107.11 360.93 107.35 360.65 107.6 360.95 107.84 361 108.09 362.47 108.33 362.26 108.58 361.65 108.83 362.22 109.07 362.3 109.32 362.13 109.56 363.42 109.81 363.86 110 363.46 110.3 362.9 110.54 363.09 110.79 363.59 111.03 362.7 111.28 361.28 111.52 362.81 111.77 362.52 112.01 363.02 112.26 361.84 112.5 361.77 112.75 361.01 112.99 361.07 113.24 361.2 113.48 361.4 113.73 360.7 114 362.92 114.22 361.56 114.46 361.28 114.71 361.67 114.95 361.86 115.2 361.67 115.44 361.24 115.69 360.9 115.93 360.27 116.18 360.71 116.43 361.69 116.67 360.59 116.92 360.95 117 361.05 117.16 360.76 117.41 360.68 117.65 360.76 117.9 360.93 118 361.52 118.14 361.56 118.39 361.48 118.63 361.04 118.88 361.43 119.12 362.83 119.37 361.45 119.61 361.33 119.86 362.4 120.1 361.84 120.35 365.03 120.59 362.71 120.84 363.06 121.08 363.6 121.33 362.41 121.57 362.06 121.82 362.58 122 362.99 122.31 362.35 122.55 362.32 122.8 362.07 123.04 361.37 123.29 362.31 123.54 362.6 123.78 362.42 124.03 361.56 124.27 361.73 124.52 361.65 124.76 361.53 125.01 361.35 125.25 361 125.5 360.64 125.74 361.61 126 361.07 126.23 361.69 126.48 361.75 126.72 360.96 126.97 361.94 127.21 361.64 127.46 361.85 127.7 361.26 127.95 360.95 128.19 361.06 128.44 361.37 128.68 361.58 128.93 362.06 129.17 362.36 129.42 362.23 129.66 362.03 129.91 361.49 130 362 130.15 362.72 130.4 362.92 130.65 361.53 130.89 361.95 131.14 361.88 131.38 361.33 131.63 364.98 131.87 360.76 132.12 361.68 132.36 361.75 132.61 361.45 132.85 362.52 133.1 362.04 133.34 361.97 133.59 362.3 133.83 361.46 134 362.18 134.32 362.03 134.57 361.38 134.81 361 135.06 361.71 135.3 361.87 135.6 362.18 135.8 319.88 136.04 305.63 136.3 287.73 136.6 330.94 136.77 331.96 137.02 332.46 137.1 333.14 137.26 300.09 137.4 272.8 137.51 281.51 137.8 296.39 138 283.18 138.3 262.68 138.49 260.79 138.7 261.9 138.98 282.38 139.1 288.78 139.23 313.16 139.47 357.38 139.6 380.78 139.72 391.74 139.96 419.49 140.1 433.64 140.21 423.01 140.5 390.64 140.7 361 141 318.17 141.19 313.98 141.5 306.12 141.68 315.56 142 338.84 142.2 349.87 142.41 356.49 142.5 360.26 142.66 352.89 142.9 340.36 143 334.18 143.15 330.08 143.3 321.54 143.39 314.36 143.64 300.06 143.8 290.8 143.88 290.58 144.2 282.08 144.37 290.34 144.6 300.04 144.87 333.42 145 345.32 145.1 359.66 145.36 364.83 145.6 376.24 145.85 371.6 146.09 363.15 146.3 361.58 146.5 358.29 146.58 361.26 146.83 363.57 147 362.06 147.32 363.78 147.56 351.76 147.7 357.01 147.81 359.92 148 365.82 148.3 362.94 148.54 363.82 148.79 362.91 149 356.9 149.28 354.91 149.52 354.72 149.7 353.83 150 355.45 150.26 357.03 150.5 356.18 150.75 356.78 150.99 356.01 151.24 356.05 151.48 362.27 151.73 355.71 152 360.2 152.22 362.94 152.47 362.1 152.71 367.8 152.96 364.52 153.2 359.6 153.4 361.8 153.69 362.64 153.8 361.7 154 359.52 154.18 354.87 154.5 358.35 154.67 358.22 154.92 359.56 155 356.84 155.16 364.16 155.41 363.28 155.65 359.98 155.9 360.72 156 365.6 156.14 365.82 156.39 363.8 156.63 363.09 156.88 360.77 157 363.06 157.12 361.91 157.37 363.57 157.61 363.27 157.86 361.54 158 362.44 158.1 360.9 158.35 360.56 158.59 363.48 158.84 363.54 159 363.97 159.08 364.73 159.33 365.24 159.58 363.57 159.82 362.35 160 363.98 160.31 361.55 160.4 362.87 160.56 361.02 160.8 361.1 161.05 360.87 161.29 361.97 161.5 360.34 161.78 360.18 162 358.99 162.27 356.99 162.52 357.39 162.76 354.77 163 359.64 163.25 358.39 163.5 358.42 163.74 368.38 163.99 364.64 164.23 362.66 164.48 359.91 164.72 355.44 165 358.84 165.21 364.34 165.46 363.58 165.7 361.14 166 360.21 166.19 358.8 166.44 363.14 166.69 362.88 166.93 363.99 167.18 362.67 167.42 361.98 167.67 364.51 167.91 365.88 168 366.37 168.16 366.86 168.4 366.68 168.65 367.51 168.89 367.89 169.14 368.36 169.38 369.59 169.63 370.67 169.87 372.64 170 372.83 170.12 375.63 170.36 386.05 170.61 406.96 170.8 411.36 171.1 384.24 171.3 367.82 171.59 369.06 171.83 368.1 172 365.11 172.32 365.42 172.57 362.67 172.81 359.32 173 361.07 173.3 360.94 173.55 359.05 173.8 358.51 174.04 357.92 174.29 358.52 174.5 359.85 174.78 357 175 359.5 175.27 352.69 175.51 357.24 175.76 356.38 176 358.3 176.25 357.21 176.49 359.86 176.74 361.69 176.98 362.35 177.23 363.44 177.47 360.39 177.72 364.04 178 364.29 178.21 364.19 178.5 363.98 178.7 361.98 178.94 359.89 179.19 360.02 179.43 358.71 179.68 355.71 180 361.85 180.17 356.74 180.41 354.92 180.66 353.02 180.9 352.72 181 357.35 181.15 353.24 181.4 351.53 181.5 351.89 181.64 355.9 181.89 354.18 182.13 357.9 182.38 357.7 182.62 361.88 182.87 361.27 183 362.08 183.11 360.55 183.36 360.87 183.6 361.3 183.85 362.9 184 363.52 184.09 364.95 184.34 362.15 184.58 360.11 184.83 358.74 185.07 361.21 185.32 357.38 185.56 354.3 185.81 352.03 186 351.69 186.3 350.38 186.54 347.73 186.79 348.95 187 347.61 187.28 348.55 187.52 352.89 187.77 354.71 188.01 354.99 188.26 358.08 188.51 357.68 188.75 362.41 189 363.67 189.24 359.5 189.49 363.21 189.73 362.06 189.98 358.74 190.22 360.08 190.47 362.76 190.71 361.02 191 359.77 191.2 358.26 191.45 362.46 191.69 359.71 192 355.52 192.18 362.15 192.43 360.08 192.67 362.59 192.92 362.96 193.16 363.27 193.41 373.26 193.65 366.81 193.8 356.45 193.9 360.23 194.14 361.81 194.39 364.09 194.63 366.97 194.88 370.25 195 368.5 195.12 365.25 195.37 363.85 195.62 368.39 195.86 365.81 196.11 363.9 196.35 365.15 196.6 364.48 196.84 364.67 197 362.74 197.09 358.11 197.33 360.17 197.58 358.18 197.82 360.17 198 361.03 198.31 362.25 198.5 362.01 198.8 359.97 199 361.33 199.29 362.04 199.54 361.93 199.78 363.44 200 364.83 200.27 358.9 200.5 357.68 200.76 360.19 201.01 362.62 201.25 361.5 201.5 360.31 201.74 361.99 202 361.31 202.23 361.4 202.48 359.95 202.73 360.75 202.97 359.77 203.22 358.49 203.46 358.01 203.71 359.3 204 360.37 204.2 359.78 204.44 359.38 204.69 358.83 205 358.28 205.18 358.02 205.42 359.65 205.67 356.9 205.91 360.13 206 360.39 206.16 357.91 206.4 357.68 206.65 361.63 206.89 360.31 207.14 356.54 207.38 360.19 207.63 356.39 207.87 359.33 208 365.15 208.12 364.41 208.36 364.09 208.61 361.72 208.85 361.28 209.1 364.19 209.34 363.48 209.59 361.89 209.83 358.81 210 363.94 210.08 361.98 210.33 359.67 210.57 358.1 210.82 359.26 211 359.88 211.31 362.16 211.5 361.34 211.8 360.12 212 365.31 212.29 361.57 212.6 359.71 212.78 361.5 213.02 359.28 213.27 362.02 213.51 359.07 213.76 361.37 214 359.55 214.25 359.28 214.49 359.83 214.7 359.9 214.98 360.8 215.23 359.8 215.47 362.43 215.72 361.18 216 361.7 216.21 360.46 216.45 360.23 216.7 361.73 216.94 359.52 217.19 361.02 217.44 358.8 217.68 350.8 218 359.31 218.17 361.45 218.42 360.05 218.66 362.54 218.91 361.12 219 362.24 219.15 362.97 219.4 360.24 219.64 359.27 219.89 361.48 220 361.36 220.13 363.61 220.38 358.95 220.62 361.02 220.87 364.98 221.11 364.12 221.36 363.18 221.6 363.2 221.85 362.28 222 362.2 222.09 360.14 222.34 362.7 222.58 362.57 222.83 362.68 223.07 363.17 223.32 362.76 223.56 360.42 223.81 363.77 224 361.71 224.3 360.48 224.55 362.93 224.79 364.54 225 362.51 225.28 361.67 225.53 364.25 225.77 363.05 226 360.9 226.26 361.55 226.51 361.37 226.75 362.2 227 361.71 227.24 361.65 227.49 360.7 227.73 360.57 228 363.2 228.22 358.45 228.47 361.51 228.71 363.17 229 357.71 229.2 362.36 229.45 361.65 229.69 359.4 230 362.09 230.18 363.42 230.43 363.42 230.67 367.37 230.92 356.91 231.16 362.42 231.41 369.17 231.5 365.78 231.66 364.85 231.9 367.94 232 363.84 232.15 364.12 232.39 367.03 232.64 366.62 232.88 365.48 233 366.32 233.13 368.46 233.37 367.18 233.62 366.8 233.86 370.72 234 373.5 234.11 382.64 234.35 380.91 234.6 383.63 234.84 385.89 235 391.13 235.09 392.6 235.4 400.83 235.58 393.44 235.82 386.73 236 381.7 236.31 375.38 236.5 374.86 236.8 368.73 237 366.76 237.29 363.59 237.54 355.07 237.78 354.92 238 360.33 238.27 360.65 238.52 357.24 238.77 359.13 239.01 359.36 239.26 357.65 239.5 355.1 239.75 368.8 239.99 362.53 240.24 360.63 240.48 359.49 240.8 358.78 241 361 241.22 374.28 241.46 366.39 241.71 361.66 242 361.58 242.2 360.45 242.5 360.86 242.69 364.07 242.93 364.15 243.18 363.39 243.42 362.18 243.67 358.75 243.91 362.01 244 357.97 244.16 359.15 244.4 362.32 244.65 354.55 244.89 358.15 245 359.09 245.14 358.12 245.38 356.96 245.63 356.73 245.87 359.01 246 360.43 246.12 358.84 246.37 357.58 246.61 359.76 246.8 359 247.1 360.86 247.35 362.51 247.59 363.52 247.84 363.53 248 359.7 248.08 358.46 248.33 355.11 248.57 358.64 248.82 358.85 249 362.28 249.31 357.8 249.55 357.68 249.8 351.94 250 352.69 250.29 351.79 250.53 348.81 250.78 350.95 251 346.01 251.27 341.06 251.51 336.09 251.76 332.16 252 340.21 252.25 338.83 252.5 332.96 252.74 332.85 253 329.89 253.23 328.85 253.48 323.05 253.72 321.45 254 315.79 254.21 320.06 254.46 315.5 254.6 307.45 254.7 319.04 254.95 326.82 255.19 337.76 255.5 354.99 255.68 352.98 256 361.8 256.17 363.12 256.42 369.58 256.66 373.07 256.91 377.88 257 378.8 257.15 377.15 257.4 374.62 257.5 373.72 257.64 368.09 257.89 367.66 258 363.28 258.13 363.61 258.38 359.5 258.62 355.95 258.87 355.76 259 360.75 259.11 360.16 259.36 353.51 259.5 354.62 259.6 349.99 259.85 349.34 260 349.99 260.09 349.37 260.34 351.86 260.59 356.76 260.83 362.53 261 363.57 261.32 363.57 261.57 368.82 261.81 372.72 262 376.79 262.3 363.86 262.5 364.86 262.79 362.02 263 360.9 263.3 356 263.53 352.6 263.77 350.15 264 343.46 264.26 345.51 264.5 348.6 264.75 351.45 265 353.36 265.24 351.21 265.49 357.84 265.73 358.42 266 361.85 266.22 373.99 266.47 369.69 266.6 362.93 266.71 366.51 267 368.82 267.2 373.08 267.45 376.97 267.7 379.56 268 380.75 268.19 378.66 268.5 370.16 268.68 367.81 269 365.86 269.17 364.6 269.41 360.53 269.66 355.88 269.9 351.94 270 352.51 270.15 351.69 270.39 350.02 270.5 349.98 270.64 348.32 270.88 343.62 271.13 342.08 271.37 346.9 271.5 344.24 271.62 345.14 271.86 344.5 272 346.74 272.11 351.02 272.4 365.64 272.6 377.32 272.84 390.9 273.09 400.19 273.33 409.47 273.5 417.16 273.82 402.33 274.07 392.01 274.31 380.57 274.56 371.9 274.8 357.05 275 349.42 275.3 357.48 275.54 356.94 275.79 363.5 276.03 367.05 276.28 368.75 276.52 372.55 276.77 373.95 277 377.97 277.26 392.51 277.5 401.06 277.75 411.89 278 422.32 278.24 408.64 278.48 395.16 278.73 383.77 279 369.55 279.22 369.23 279.46 367.94 279.71 361.94 280 362.16 280.2 360.97 280.44 359.54 280.69 356.81 281 354.58 281.18 355.96 281.42 359.56 281.67 360.71 281.91 365.17 282.16 361.53 282.41 366.76 282.65 371.08 282.9 374.29 283 370.18 283.14 368.45 283.39 372.93 283.5 373.29 283.63 375.65 283.88 369.42 284.12 371.38 284.37 364.85 284.61 367.11 284.86 361.95 285 359.79 285.1 362.28 285.2 357 285.35 359.09 285.59 355.03 285.84 355.44 286.08 351.68 286.33 347.44 286.5 345.16 286.82 347.34 287 346.16 287.31 347.68 287.55 346.62 287.8 349.12 288 351.25 288.29 352.42 288.53 357.59 288.78 355.67 289 361.21 289.27 361.99 289.52 360.39 289.76 360.41 290 366.14 290.25 367.58 290.5 367.27 290.74 365.97 291 367.69 291.23 367.79 291.48 365.77 291.72 362.18 292 360.76 292.21 355.88 292.46 351.64 292.7 353.52 293 349.54 293.19 353.07 293.44 362.23 293.68 366.81 294 375.69 294.17 381.61 294.42 388.31 294.66 390.59 294.91 397.4 295 398.22 295.15 402.34 295.4 411.78 295.64 418.31 295.89 428.56 296 430.99 296.13 421.6 296.38 410.36 296.5 400.48 296.63 391.67 296.87 377.23 297 371.49 297.12 370.06 297.36 367.76 297.61 368.83 297.85 364.63 298 359.23 298.1 360.52 298.34 355.36 298.59 354.38 298.83 352.29 299 347.68 299.32 346.33 299.57 349.06 299.81 345.74 300 347.2 300.3 349.05 300.55 347.86 300.79 349.41 301 339.26 301.28 342.52 301.53 346.94 301.77 351.87 302 352.21 302.26 358.72 302.5 360.12 302.75 365.01 303 372.73 303.24 365.73 303.49 364.12 303.73 361.21 304 358.42 304.23 359.84 304.47 360.45 304.72 356.12 305 354.21 305.21 355.05 305.45 357.42 305.7 348.05 306 350.66 306.19 343.01 306.43 348.71 306.68 350.57 307 349.3 307.17 350.03 307.41 353.87 307.66 357.69 307.9 363.27 308 363.34 308.15 367.23 308.39 371.85 308.5 369.47 308.64 377.42 308.88 382.34 309 382.63 309.13 379.81 309.37 383.12 309.62 391.63 309.86 399.45 310 402.49 310.11 405.3 310.35 405.88 310.5 413.22 310.6 410.8 310.84 404.18 311.09 398.14 311.34 390.26 311.58 382.71 311.83 373.72 312 366.78 312.32 362.98 312.56 365.34 312.81 364.65 313.05 361.81 313.3 364.12 313.54 355.95 313.79 357.87 314 357.64 314.28 361.58 314.52 362.93 314.77 358.35 315.01 358.81 315.26 357.26 315.5 357.13 315.75 353.28 316 356.93 316.24 358.83 316.48 356.87 316.73 356.72 316.97 358.01 317.22 356.91 317.46 356.18 317.71 356.29 317.95 356.08 318.2 358.84" stroke="#2ca02c" stroke-width="0.8" stroke-opacity="1" fill="none" stroke-linejoin="round" clip-path="url(#clipc)"/>
<path d="M22.1 256.5V440.5M332.3 256.5V440.5" stroke="#000" stroke-opacity="0.26" stroke-width="1.3" fill="none"/>
<path d="M21.7 256.5H332.7M21.7 440.5H332.7" stroke="#000" stroke-opacity="0.42" stroke-width="1.0" fill="none"/>
<path d="M33.6 440.5v1.4M64.79 440.5v1.4M95.46 440.5v1.4M126.65 440.5v1.4M157.5 440.5v1.4M188.68 440.5v1.4M219.36 440.5v1.4M250.55 440.5v1.4M281.22 440.5v1.4M312.41 440.5v1.4M22.3 261.9h-1.4M22.3 305.1h-1.4M22.3 353.9h-1.4M22.3 362.1h-1.4M22.3 369.7h-1.4M22.3 418.9h-1.4" stroke="#000" stroke-opacity="0.5" stroke-width="0.5" fill="none"/>
<text x="33.6" y="446.9" font-size="5.5" text-anchor="middle" textLength="20" lengthAdjust="spacingAndGlyphs">2018-07</text>
<text x="64.79" y="446.9" font-size="5.5" text-anchor="middle" textLength="20" lengthAdjust="spacingAndGlyphs">2019-01</text>
<text x="95.46" y="446.9" font-size="5.5" text-anchor="middle" textLength="20" lengthAdjust="spacingAndGlyphs">2019-07</text>
<text x="126.65" y="446.9" font-size="5.5" text-anchor="middle" textLength="20" lengthAdjust="spacingAndGlyphs">2020-01</text>
<text x="157.5" y="446.9" font-size="5.5" text-anchor="middle" textLength="20" lengthAdjust="spacingAndGlyphs">2020-07</text>
<text x="188.68" y="446.9" font-size="5.5" text-anchor="middle" textLength="20" lengthAdjust="spacingAndGlyphs">2021-01</text>
<text x="219.36" y="446.9" font-size="5.5" text-anchor="middle" textLength="20" lengthAdjust="spacingAndGlyphs">2021-07</text>
<text x="250.55" y="446.9" font-size="5.5" text-anchor="middle" textLength="20" lengthAdjust="spacingAndGlyphs">2022-01</text>
<text x="281.22" y="446.9" font-size="5.5" text-anchor="middle" textLength="20" lengthAdjust="spacingAndGlyphs">2022-07</text>
<text x="312.41" y="446.9" font-size="5.5" text-anchor="middle" textLength="20" lengthAdjust="spacingAndGlyphs">2023-01</text>
<text x="18.1" y="263.9" font-size="5.5" text-anchor="end">10</text>
<text x="18.2" y="261.8" font-size="3.6">3</text>
<text x="18.1" y="307.1" font-size="5.5" text-anchor="end">10</text>
<text x="18.2" y="305" font-size="3.6">2</text>
<text x="18.1" y="355.9" font-size="5.5" text-anchor="end">10</text>
<text x="18.2" y="353.8" font-size="3.6">1</text>
<text x="19.5" y="364.1" font-size="5.5" text-anchor="end">0</text>
<text x="18.1" y="371.7" font-size="5.5" text-anchor="end">−10</text>
<text x="18.2" y="369.6" font-size="3.6">1</text>
<text x="18.1" y="420.9" font-size="5.5" text-anchor="end">−10</text>
<text x="18.2" y="418.8" font-size="3.6">2</text>
<text x="177.3" y="453.4" font-size="5.8" text-anchor="middle" textLength="13" lengthAdjust="spacingAndGlyphs">Date</text>
<text transform="translate(5 348.5) rotate(-90)" font-size="5.6" text-anchor="middle" textLength="11.6" lengthAdjust="spacingAndGlyphs">USD</text>
<text x="128.8" y="254.4" font-size="7.6" textLength="48.4" lengthAdjust="spacingAndGlyphs">Tracking error</text>
<text x="179.7" y="254.4" font-size="7.6" font-style="italic" textLength="6" lengthAdjust="spacingAndGlyphs">Z</text>
<text x="185.6" y="255.7" font-size="5.2" font-style="italic">t</text>
<text x="190.7" y="254.4" font-size="7.6">(</text>
<text x="192.7" y="254.4" font-size="7.6" font-style="italic" textLength="7" lengthAdjust="spacingAndGlyphs">m</text>
<text x="199.7" y="255.7" font-size="5.2">0</text>
<text x="203.7" y="254.2" font-size="7.6" textLength="5.6" lengthAdjust="spacingAndGlyphs">=</text>
<text x="210.9" y="254.4" font-size="7.6" textLength="12" lengthAdjust="spacingAndGlyphs">0.9</text>
<text x="223.1" y="254.4" font-size="7.6">)</text>
<rect x="258.8" y="259.5" width="71" height="29.3" rx="1" fill="#fff" fill-opacity="0.8" stroke="#d0d0d0" stroke-opacity="0.8" stroke-width="0.5"/>
<text x="294.3" y="264.3" font-size="4" text-anchor="middle" textLength="35.5" lengthAdjust="spacingAndGlyphs">Hedging method</text>
<path d="M260.4 269.4h10.5" stroke="#1f77b4" stroke-opacity="0.55" stroke-width="1"/>
<text x="274.8" y="271.1" font-size="4.8" textLength="12.8" lengthAdjust="spacingAndGlyphs">Delta</text>
<path d="M260.4 276.65h10.5" stroke="#ff7f0e" stroke-opacity="0.55" stroke-width="1"/>
<text x="274.8" y="278.35" font-size="4.8" textLength="25.5" lengthAdjust="spacingAndGlyphs">Delta-vega</text>
<path d="M260.4 283.9h10.5" stroke="#2ca02c" stroke-opacity="0.55" stroke-width="1"/>
<text x="274.8" y="285.6" font-size="4.8" textLength="53" lengthAdjust="spacingAndGlyphs">Data-driven (VolGAN)</text>
<g font-family="'Liberation Serif', serif" fill-opacity="0.8">
<text x="126.4" y="476.1" font-size="14">(</text>
<text x="138" y="476.1" font-size="14">)</text>
<text x="134.85" y="475.2" font-size="12.6" text-anchor="middle">c</text>
<text x="147.7" y="475.2" font-size="12.6" font-style="italic" textLength="10.8" lengthAdjust="spacingAndGlyphs">m</text>
<text x="159.5" y="477.5" font-size="8.8">0</text>
<text x="169.1" y="475.2" font-size="12.6" textLength="9.6" lengthAdjust="spacingAndGlyphs">=</text>
<text x="182.5" y="475.2" font-size="12.8" textLength="23.6" lengthAdjust="spacingAndGlyphs">0.90</text>
</g>
<clipPath id="clipd"><rect x="374.4" y="256.5" width="310" height="184"/></clipPath>
<path d="M385.7 256.5V440.5M416.89 256.5V440.5M447.56 256.5V440.5M478.75 256.5V440.5M509.6 256.5V440.5M540.78 256.5V440.5M571.46 256.5V440.5M602.65 256.5V440.5M633.32 256.5V440.5M664.51 256.5V440.5M374.4 269.4H684.4M374.4 336.2H684.4M374.4 346.4H684.4M374.4 357.1H684.4M374.4 423.5H684.4" stroke="#b0b0b0" stroke-opacity="0.45" stroke-width="0.9" fill="none"/>
<path d="M388.6 344.55 388.85 345.7 389.09 344.72 389.34 344.42 389.58 345.01 389.83 343.49 390.07 344.18 390.32 344.5 390.56 344.13 390.81 345.46 391.05 344.9 391.3 342.15 391.54 343.29 391.79 344.45 392 345.32 392.28 345.03 392.52 344.57 392.77 344.18 393.01 344.36 393.26 343.08 393.5 344.03 393.75 344.47 393.99 344.63 394.24 344.1 394.48 342.91 394.73 343.36 394.97 344.83 395.22 346.06 395.46 347.66 395.71 346.82 396 344.19 396.2 344.86 396.45 344.62 396.69 346.41 396.94 344.4 397.18 343.51 397.43 342.74 397.67 343.55 397.92 343.65 398.16 342.26 398.41 342.69 398.65 342.78 398.9 342.6 399 342.26 399.14 342.06 399.39 343.95 399.63 341.93 399.88 342.12 400.12 343.02 400.37 341.91 400.61 343.49 400.86 344 401.1 345.18 401.35 345.38 401.59 347.45 401.84 345.8 402 345.23 402.08 345.93 402.33 345.51 402.57 345.31 402.82 343.84 403.07 342.69 403.31 342.36 403.56 342.74 403.8 341.71 404.05 341.71 404.29 341.48 404.54 340.12 404.78 340.5 405 341.22 405.3 332.2 405.52 343.68 405.76 345.63 406 346.73 406.25 346.91 406.5 342.16 406.74 343.84 406.99 342.55 407.23 342.46 407.48 341.22 407.72 341.83 408 343.67 408.21 341.16 408.46 341.29 408.7 340.86 408.95 341.84 409.19 341.18 409.44 340.73M410 344.75 410.17 344.81 410.42 344.09 410.67 345.07 410.91 346.1 411.16 345.59 411.4 344.42 411.65 346.18 411.89 347.41 412 347.04 412.14 349.08 412.38 347.04 412.63 347.7 412.87 345.91 413.12 347.47 413.36 345.2 413.61 345.59 413.85 345.11 414 344.78 414.1 343.99 414.3 342.29 414.59 342.83 414.83 342.27 415.08 342.71 415.32 339.1 415.5 338.41 415.81 331.91 416 328.44 416.2 331.96 416.3 333.39 416.5 337.05 416.79 341.12 416.9 342.55 417 344.77 417.28 346.69 417.5 347.56 417.78 349.61 418 359.5 418.27 350.89 418.51 352.82 418.76 350.62 419 354.1 419.25 358.55 419.5 361.76 419.74 365.58 420 368.59 420.3 360.69 420.47 356.14 420.72 353.81 421 350.53 421.21 349.64 421.45 347.87 421.7 349.47 421.94 350.02 422.19 350.05 422.43 347.4 422.68 347.82 423 348.64 423.17 349.32 423.41 347.42 423.66 347.38 423.9 347.23 424.15 346.16 424.39 347.48 424.64 347.81 424.89 345.77 425 347.42 425.13 347.34 425.38 346.86 425.62 345.81 425.87 345.43 426.11 345.88 426.4 344.53 426.6 346.36 426.85 344.38 427.09 344.93 427.34 342.73 427.6 342.81 427.83 344.7 428.07 343.33 428.32 344.44 428.56 345.38 428.81 345.91 429.05 345.17 429.3 343.77 429.54 345.98 429.79 346.46 430 348.86 430.28 346.04 430.52 345.3 430.77 344.06 431.01 344.66 431.26 343.97 431.5 343.68 431.75 343.37 432 344.86 432.24 343.09 432.49 342.98 432.73 344.55 433 342.1 433.22 342.75 433.47 342.57 433.71 341.56 433.96 344.87 434.2 341.88 434.45 342.4 434.69 343.26 434.94 345.68 435.18 346.58 435.43 344.49 435.67 343.6 435.92 345.7 436 344.74 436.16 345.85 436.41 346.2 436.65 347.1 436.9 347.62 437.14 348.34 437.39 349.11 437.63 348.59 437.88 347.73 438.12 350.38 438.37 349.56 438.61 349.34 438.86 350.26 439 350.9 439.1 350.73 439.35 350.33 439.6 350.58 439.84 349.62 440.09 350.35 440.33 348.69 440.58 349.4 440.82 348 441 347.8 441.31 346.83 441.56 352.05 441.8 347.7 442.05 346.91 442.29 345.07 442.54 346.31 442.78 347.1 443.03 346.87 443.27 342.73 443.52 344.23 443.76 341.24 444 343.23 444.25 344.4 444.5 344.99 444.74 346.51 444.99 346.47 445.23 345.68 445.48 345.07 445.72 348.21 445.97 348.46 446.21 349.53 446.46 349.91 446.71 350.86 447 351.83 447.2 351.11 447.44 352.32 447.69 352.09 447.93 351.25 448.18 352.43 448.42 351.54 448.67 351.61 448.91 351.1 449.16 351.05 449.4 352.83 449.65 350.64 449.89 350.24 450 349.92 450.14 349.43 450.38 348.92 450.63 349.37 450.87 351.34 451.12 351.29 451.36 351.59 451.61 350.88 451.85 350.73 452.1 349.97 452.34 351.6 452.59 350.57 452.83 351.25 453 351.38 453.32 351.13 453.57 348.63 453.82 349.46 454.06 349.27 454.31 351.87 454.55 349.75 454.8 350.28 455.04 350.08 455.29 350.79 455.53 348.78 455.78 349.41 456 348.47 456.27 349.02 456.51 348.07 456.76 348.9 457 347.32 457.25 345.2 457.49 343.08 457.74 343.99 457.98 343.86 458.23 342.46 458.47 341.18 458.72 339.96 458.96 339.31 459.21 339.92 459.5 339.6 459.7 343.01 459.94 342.42 460.19 343.19 460.43 344.94 460.68 344.3 461 346.72 461.17 345.51 461.42 346.34 461.66 346.38 461.91 345.8 462.15 345.35 462.4 345.92 462.64 346.32 462.89 345.95 463.13 345.34 463.38 346.02 463.62 344.28 463.87 344.16 464.11 344.31 464.36 342.25 464.6 342.79 464.85 343.68 465 342.78 465.09 342.76 465.34 343.62 465.58 343.82 465.83 344.19 466.07 345.62 466.32 345.55 466.56 346.94 466.81 346.3 467.05 345.55 467.3 346.06 467.54 344.99 467.79 344.59 468 345.71 468.28 346.69 468.53 345.84 468.77 346.14 469.02 347.89 469.26 351.1 469.51 350.14 469.75 349.2 470 348.35 470.24 348.07 470.49 346.9 470.73 347.71 470.98 347.91 471.22 348.19 471.47 348.23 471.71 346.03 471.96 347.23 472.2 346.96 472.45 346.18 472.69 346.56 473 345.12 473.18 345.23 473.43 346.97 473.67 346.64 473.92 347.68 474.16 349.83 474.41 352.5 474.65 350.87 474.9 350.53 475.14 351.59 475.39 352.82 475.64 352.03 475.88 354.14 476 352.62 476.13 352.99 476.37 353.59 476.62 351.52 476.86 350.17 477.11 350.15 477.35 347.5 477.6 348.22 477.84 347.7 478 347.61 478.09 345.79 478.33 346.27 478.58 346.17 478.82 346.86 479.07 346.62 479.31 349.05 479.56 345.73 479.8 344.95 480.05 345.07 480.29 347.79 480.54 346.7 480.78 345.25 481.03 344.82 481.27 345.82 481.52 345.33 481.76 345.47 482 346.44 482.25 346.25 482.5 344.5 482.75 344.15 482.99 345.01 483.24 345.23 483.48 344.82 483.73 344.8 483.97 341.68 484.22 343.08 484.46 344.49 484.71 345.77 484.95 347.95 485.2 345.78 485.44 344.45 485.69 344.93 486 346.1 486.18 343.74 486.42 345.41 486.67 344.53 486.91 347.29 487.16 345.91 487.4 344.45 487.65 344.17 487.89 344.36 488 344.09 488.14 342.04 488.38 336.69 488.7 330.85 488.87 335.35 489 338.25 489.12 339.16 489.36 343.35 489.5 345.91 489.61 344.76 489.86 342.92 490.1 341.38 490.35 340.28 490.5 340.48 490.59 340.75 490.84 344.71 491.08 348.51 491.2 350.32 491.33 358.56 491.57 374.77 491.8 390.49 492 350.36 492.3 360.01 492.5 368.21 492.8 379.47 493 385.64 493.29 395.43 493.5 404.81 493.8 415.49 494.02 421.98 494.27 432.9 494.4 436.86 494.51 431.83 494.76 409.76 495 391.66 495.25 378.76 495.5 366.81 495.8 357.76 496 351.61 496.2 352.62 496.5 356.71 496.72 360.47 496.9 365.64 497 362.61 497.21 365.5 497.5 372.21 497.7 372.11 498 376.7 498.19 380.25 498.5 381.43 498.68 383.99 498.8 388.46 498.93 385.35 499.17 382.35 499.42 380.02 499.5 376.83 499.66 371.5 499.91 369.5 500 370.89 500.15 373.88 500.4 383.79 500.5 383.37 500.64 385.97 500.89 397.18 501.13 400.86 501.4 404.62 501.5 407.82 501.7 405.25 501.87 403.68 502 396.34 502.11 386.89 502.36 377.03 502.5 370.34 502.6 372.39 502.85 367.17 503 361.79 503.09 359.42 503.34 360.53 503.5 356.4 503.58 355.07 503.83 352.05 504 350.04 504.32 328.54 504.57 325.38 504.81 312.07 505 310.7 505.3 303.97 505.4 296.62 505.55 310.32 505.79 335.72 505.9 334.29 506 343.45 506.28 349.69 506.53 349.43 506.77 359.6 507 362.61 507.1 363.65 507.26 364.12 507.51 359.53 507.75 352.06 508 349.45 508.24 349.62 508.49 349.41 508.73 349.27 509 349.49 509.22 350.52 509.5 335.28 509.71 341.15 510 342.31 510.2 348.72 510.5 352.83 510.69 354.79 511 354.52 511.18 359.6 511.43 361.45 511.68 364.33 512 368.79 512.17 371.07 512.41 374.84 512.66 372.52 512.9 380.2 513 375.92 513.15 377.04 513.39 367.06 513.64 364.19 513.88 351.7 514 352.2 514.13 350.21 514.4 349.54 514.62 352.33 514.86 351.59 515 350.97 515.11 351.1 515.35 350.94 515.6 352.48 515.84 353.94 516 351.52 516.09 351.54 516.33 355.01 516.58 355.15 516.82 349.9 517 355.49 517.31 357.57 517.56 360.15 517.8 362.28 518.05 363.88 518.29 360.53 518.54 351.92 518.79 349.18 519 348.15 519.28 353.74 519.52 354.28 519.77 349.48 520 350.39 520.2 349.82 520.5 354.25 520.75 350.7 521 353.68 521.24 354.22 521.48 353.39 521.73 350.38 522 350.71 522.22 351.77 522.46 349.46 522.71 345.23 523 343.85 523.2 342.39 523.44 340.71 523.69 338.25 523.93 338.93 524.18 335.51 524.42 334.75 524.67 338.17 524.91 338.03 525 333.87 525.16 330.14 525.4 326.9 525.65 327.01 525.9 325.12 526 329.66 526.14 325.55 526.4 321.35 526.63 333.4 526.88 345.45 527 349.11 527.12 354.76 527.37 354.42 527.61 354.15 527.7 353.88 527.86 351.5 528 356.98 528.1 351.43 528.35 353.74 528.59 356.31 528.8 358.45 529 360.23 529.08 361.25 529.33 362.16 529.5 360.67 529.82 361.85 530 360.08 530.31 361.45 530.5 371.92 530.8 374.78 531 369.72 531.29 374.46 531.5 379.15 531.78 375.17 532.02 377.32 532.27 379.5 532.51 385.69 532.76 385.87 533 388.87 533.25 393.09 533.5 396.89 533.7 392.98 534 384.54 534.23 377.57 534.4 376.9 534.72 366.73 535 358 535.21 355.57 535.46 354.78 535.7 351.41 535.95 352.47 536.19 358.3 536.44 351.45 536.68 351.63 537 351.66 537.17 350.79 537.42 350.06 537.66 350.26 537.8 349.85 537.91 356.22 538 348.7 538.15 350.35 538.4 350.02 538.64 349.24 538.89 346.43 539.13 349.3 539.38 349.41 539.62 349 539.87 347.85 540 349.08 540.11 350.79 540.36 352.16 540.61 350.17 540.85 350.03 541.1 347.52 541.34 342.79 541.59 341.67 541.83 348.86 542 347.55 542.32 347.38 542.57 348.42 542.81 353.52 543 348.8 543.3 349.08 543.55 347.36 543.79 348.96 544.04 344.63 544.28 346.03 544.53 348.99 544.77 351.13 545 349.69 545.26 345.6 545.51 346.42 545.6 348.97 545.75 350.23 546 350.33 546.3 350.95 546.49 352.44 546.73 352.98 546.98 354.56 547.22 352.78 547.47 350.65 547.72 353.84 548 353.77 548.21 357.09 548.45 358.59 548.7 359.49 548.94 361.26 549.19 360.2 549.43 361.77 549.68 363.17 550 368.13 550.17 361.68 550.41 359.31 550.6 355.8 550.9 352.21 551 349.33 551.15 350.02 551.3 348.2 551.39 350.26 551.64 351.62 551.88 350.06 552 350.9 552.13 347.57 552.37 347.83 552.62 348.43 552.86 350.62 553.11 350.7 553.35 347.44 553.6 350.03 553.84 352.97 554 350.3 554.09 351.67 554.33 351.73 554.58 351.15 554.83 352.16 555 351.65 555.32 351.27 555.56 352.17 555.81 351.58 556 349.89 556.2 349.83 556.3 349.52 556.54 350.57 556.79 351.27 557 352.92 557.28 351 557.52 350.08 557.77 348.92 558.01 348.09 558.26 348.85 558.5 348.96 558.75 350.39 558.99 349.42 559.24 346.2 559.48 347.46 559.73 348.39 560 347.77 560.22 348.21 560.46 343.93 560.71 345.3 560.95 346.92 561.2 347.74 561.44 348.89 561.69 348.3 561.93 347.63 562.18 350.17 562.43 348.15 562.67 345.26 562.92 346.45 563.16 347.89 563.41 347.63 563.65 347.7 563.9 347.52 564.14 347.48 564.39 347.27 564.63 346.11 564.88 347.79 565 347.47 565.12 347.17 565.37 347.58 565.61 346.66 565.86 347.69 566.1 346.76 566.35 347.12 566.59 347.07 566.84 346.87 567.08 347.37 567.33 346.59 567.57 347.27 567.82 346.21 568.06 346.12 568.31 345.05 568.55 345.32 568.8 345.74 569.04 345.71 569.29 345.01 569.54 345.6 569.78 344.74 570 344.48 570.27 345.02 570.52 346.25 570.76 344.45 571.01 344.18 571.25 344.77 571.5 344.6 571.74 344.52 571.99 340.42 572.23 345.17 572.48 346.25 572.72 344.89 572.97 345.3 573.21 344.63 573.46 344.96 573.7 344.56 573.95 347.32 574.19 346.35 574.44 345.27 574.68 344.81 575 343.67 575.17 342.67 575.42 342.86 575.66 343.92 575.91 344.5 576.15 344.87 576.4 344.84 576.65 345.38 576.89 344.23 577.14 344.35 577.38 344.87 577.63 344.78 577.87 344.11 578.12 344.7 578.36 342.26 578.61 343.95 578.85 344.37 579.1 345.29 579.34 344.21 579.59 344.24 579.83 343.62 580 344.92 580.32 345.91 580.57 345.9 580.81 344.52 581.06 345.02 581.3 344.57 581.55 343.29 581.79 344.27 582.04 344.61 582.28 344.33 582.53 348.26 582.77 344.27 583.02 342.84 583.26 342.55 583.51 344.79 583.76 345.16 584 343.96 584.25 343.03 584.49 344.28 584.74 344.36 585 343.95 585.23 343.75 585.47 344.51 585.72 344.6 585.96 345.34 586.21 345.18 586.45 344.4 586.7 343.48 586.94 345.48 587.19 346.44 587.43 345.22 587.68 343.9 587.92 343.63 588.17 344.4 588.41 346.54 588.66 346.64 588.9 345.43 589.15 344.41 589.39 343.92 589.64 345.24 589.88 344.94 590 345.49 590.13 344.68 590.37 346.58 590.62 348.78 590.87 346.41 591.11 345.47 591.36 344.31 591.6 343.62 591.85 343.09 592.09 343.95 592.34 344.2 592.58 344.39 592.83 344.97 593.07 343.72 593.32 344.42 593.5 343.6 593.81 344.38 594.05 343.05 594.3 344.12 594.54 345.09 594.79 344.49 595 345.3 595.28 344.97 595.52 345.26 595.77 345.71 596.01 345.13 596.26 345.14 596.5 345.15 596.75 345.25 597 344.26 597.24 344.11 597.48 344.66 597.73 344.78 597.97 344.34 598.22 343.69 598.47 345.64 598.71 345.79 598.96 343.93 599.2 343.8 599.45 345.06 599.69 343.26 600 343.76 600.18 345.91 600.43 346.42 600.67 345.84 600.92 346.65 601.16 345.79 601.41 346.64 601.65 346.84 601.9 346.19 602.14 346.71 602.39 348.26 602.63 347.69 602.88 347.67 603 346.12 603.12 353.6 603.37 347.98 603.5 347.66 603.61 346.85 603.86 349 604.1 349.48 604.35 349.5 604.59 353.89 604.84 353.65 605 351.22 605.08 352.38 605.33 352.84 605.58 350.23 605.82 350.54 606.07 351.58 606.31 352.85 606.56 352.32 606.8 354.88 607 350.96 607.29 356.22 607.54 351.09 607.78 350.73 608 351.11 608.27 355.49 608.52 357.67 608.76 358.26 609.01 357.35 609.25 359.18 609.5 357.45 609.74 357.09 610 357.73 610.23 355.65 610.48 355.22 610.72 355.07 610.97 353.4 611.21 348.17 611.46 351.58 611.7 352.6 612 345.34 612.19 348.35 612.44 344.41 612.69 347.49 612.93 346.1 613.18 345.52 613.42 346.18 613.67 346.49 613.91 347.21 614 348.25 614.16 339.28 614.4 343.53 614.65 341.82 614.89 342.28 615 348.14 615.14 347.37 615.38 348.98 615.63 352.15 615.87 353.17 616 358.25 616.12 353.6 616.36 360.62 616.5 361.21 616.61 367.58 616.85 364.1 617.1 365.25 617.34 376.96 617.6 370.48 617.83 366.47 618 363.38 618.32 362.14 618.57 359.07 618.81 352.96 619 348.31 619.3 347.98 619.55 346.88 619.8 350.14 620 350.86 620.29 348.44 620.53 350.56 620.78 347.12 621.02 347.55 621.27 348.77 621.5 344.67 621.76 341.99 622 342.12 622.25 342.29 622.49 340.28 622.74 339.48 623 339.08 623.23 337.26 623.47 334.18 623.72 334.72 624 331.22 624.21 331.3 624.45 327.45 624.7 323.57 625 328.4 625.19 324.01 625.43 328.04 625.68 330.18 626 329.5 626.17 335.59 626.41 338.78 626.66 340.77 626.9 344.49 627 346.31 627.15 347.68 627.4 351.85 627.64 355.25 627.89 357.11 628 360.47 628.13 369.77 628.38 367.95 628.62 370.38 628.87 374.72 629 375.69 629.11 379.43 629.36 367.26 629.6 361.46 629.85 355.47 630 347 630.09 346.94 630.34 342.94 630.58 332.19 630.83 318.17 631 315.91 631.32 317.75 631.56 317.26 631.81 325.74 632 334.26 632.3 338.91 632.54 342.78 632.79 344.59 633 346.42 633.28 347.69 633.52 347.53 633.77 348.32 634 353.04 634.26 344.85 634.51 350.95 634.75 359.04 635 365.82 635.24 359.34 635.49 357.97 635.73 358.7 636 354.45 636.22 347.93 636.47 348.26 636.71 344.65 637 345.13 637.2 343.13 637.45 342.81 637.69 344.17 637.8 345.54 638 349.16 638.18 345.49 638.5 354 638.67 349.55 638.92 348 639.16 352.87 639.41 349.06 639.65 350.2 639.9 349.06 640 349.56 640.14 351.21 640.39 352.53 640.63 349.82 640.88 353.69 641 355.41 641.12 353.45 641.37 350.36 641.62 355.19 641.86 357.42 642 356.51 642.11 351.97 642.35 355.37 642.6 352.28 642.84 358.24 643 355.94 643.09 358.05 643.33 356.43 643.58 352.05 643.82 349.27 644 349.5 644.31 347.44 644.56 341.76 644.8 341.7 645 332.77 645.29 334.78 645.54 333.24 645.78 332.67 646 329.27 646.27 327.78 646.52 324.08 646.76 320.32 647 322.56 647.25 320.48 647.5 329.66 647.74 326.43 648 337.01 648.23 336.04 648.48 337.19 648.73 341.76 649 350.51 649.22 351.81 649.46 351.59 649.71 357.87 650 362.06 650.2 358.17 650.44 360.78 650.69 367.07 651 365.96 651.18 367.45 651.42 371.36 651.67 378.85 651.91 378.81 652 380.19 652.16 377.08 652.4 385.58 652.65 387.78 652.89 389.79 653 397.14 653.14 387.63 653.38 384.22 653.63 380 653.87 374.56 654 369.86 654.12 363.48 654.36 361.38 654.5 358.62 654.61 355.18 654.85 350.4 655 350.53 655.1 348.64 655.34 347.55 655.59 346.84 655.83 346.83 656 347.31 656.08 346.13 656.33 355.52 656.57 355.78 656.82 363.03 657 370.21 657.31 375.82 657.55 381.96 657.8 388.55 658 395.17 658.29 390.42 658.6 389.19 658.78 381.39 659.02 378.25 659.27 373.14 659.51 370.17 659.76 362.43 660 360.75 660.25 357.57 660.49 355.81 660.74 350.44 660.98 349.59 661.23 354.91 661.47 345.47 661.72 344.63 662 340.23 662.21 335.26 662.45 336.96 662.7 339.28 662.94 336.51 663.19 330.3 663.44 326.06 663.6 325.74 663.68 329.41 664 335.65 664.17 336.21 664.42 339.56 664.66 339.92 664.91 340.21 665 344.75 665.15 350.03 665.4 348.04 665.64 349.26 665.89 354.46 666 354.81 666.13 354 666.38 355.52 666.62 356.35 666.87 355.08 667 354.82 667.11 360.31 667.36 361.59 667.6 367.23 667.85 367.71 668 368.06 668.09 367.86 668.34 374.73 668.58 367.91 668.83 373.05 669 373.81 669.3 377.99 669.56 385.22 669.81 389.41 670.05 391.87 670.2 392.72 670.3 397.31" stroke="#1f77b4" stroke-width="0.8" stroke-opacity="1" fill="none" stroke-linejoin="round" clip-path="url(#clipd)"/>
<path d="M388.6 344.05 388.85 345.22 389.09 344.3 389.34 342.85 389.58 344.32 389.83 343.85 390.07 344.01 390.32 344.63 390.56 343.83 390.81 344.75 391.05 344.16 391.3 341.99 391.54 342.18 391.79 342.97 392 344.1 392.28 344.31 392.52 345.07 392.77 343.6 393.01 343.59 393.26 342.94 393.5 343.58 393.75 344.01 393.99 345.52 394.24 343.65 394.48 342.63 394.73 343.64 394.97 344.1 395.22 345.3 395.46 346.85 395.71 346.4 396 344.61 396.2 344.97 396.45 344.28 396.69 344.67 396.94 343.42 397.18 343.51 397.43 342.86 397.67 344.05 397.92 342.31 398.16 341.74 398.41 341.65 398.65 342.27 398.9 341.65 399 341.48 399.14 342.62 399.39 342.7 399.63 341.94 399.88 342.57 400.12 342.88 400.37 342.46 400.61 343.09 400.86 342.55 401.1 345.67 401.35 345.97 401.59 346.84 401.84 344.54 402 343.91 402.08 344.64 402.33 345.08 402.57 343.95 402.82 343.61 403.07 342.31 403.31 342.24 403.56 341.84 403.8 341.35 404.05 341.06 404.29 339.95 404.54 339.84 404.78 339.7 405 341.26 405.3 342.22 405.52 343.22 405.76 344.77 406 345.76 406.25 344.85 406.5 342.08 406.74 342.56 406.99 343.32 407.23 342.38 407.48 342.63 407.72 344.4 408 341.26 408.21 339.72 408.46 341.85 408.7 340.75 408.95 341.02 409.19 341.81 409.44 339.93 409.68 341.7 410 344.47 410.17 344.31 410.42 342.81 410.67 344.16 410.91 345.21 411.16 344.95 411.4 343.54 411.65 345.71 411.89 347.02 412 346.43 412.14 347.87 412.38 345.93 412.63 347 412.87 344.72 413.12 345.33 413.36 344.4 413.61 344.05 413.85 344.48 414 343.87 414.1 343.3 414.3 359.5 414.59 342.29 414.83 342.16 415.08 341.8 415.32 338.11 415.5 346.32 415.81 333.81 416 326.71 416.2 320.15 416.3 316.24 416.5 307.82 416.79 320.76 416.9 324.02 417 327.48 417.28 336.77 417.5 344.81 417.78 347.89 418 349.03 418.27 351.19 418.51 352.34 418.76 349.68 419 353.52 419.25 358.02 419.5 353.89 419.74 363.24 420 373.21 420.3 385.25 420.47 378.7 420.72 371.12 421 360.79 421.21 349.2 421.45 346.67 421.7 349.11 421.94 348.56 422.19 349.64 422.43 345.95 422.68 347.23 423 348.55 423.17 348.48 423.41 347.51 423.66 347.39 423.9 346.19 424.15 346.24 424.39 347.63 424.64 346.71 424.89 346.6 425 347.69 425.13 346.26 425.38 346.72 425.62 344.98 425.87 346.29 426.11 344.78 426.4 356.5 426.6 345.34 426.85 343.29 427.09 344.33 427.34 342.77 427.6 342.66 427.83 344.29 428.07 343.47 428.32 343.98 428.56 345.53 428.81 345.68 429.05 344.83 429.3 344.46 429.54 346.04 429.79 345.18 430 347.54 430.28 345.43 430.52 344.28 430.77 344.85 431.01 344.14 431.26 343.22 431.5 344.28 431.75 342.84 432 343.23 432.24 341.57 432.49 343.45 432.73 344.64 433 340.55 433.22 342.28 433.47 341.95 433.71 340.47 433.96 343.23 434.2 342.29 434.45 343.43 434.69 342.96 434.94 344.27 435.18 344.52 435.43 344.39 435.67 342.49 435.92 344.34 436 343.96 436.16 343.78 436.41 346.33 436.65 346.63 436.9 346.59 437.14 347.37 437.39 348.25 437.63 348.85 437.88 349.54 438.12 349.54 438.37 349.4 438.61 349.09 438.86 349.55 439 350.51 439.1 349.49 439.35 349.75 439.6 348.87 439.84 348.83 440.09 348.94 440.33 347.23 440.58 348.47 440.82 347.11 441 346.64 441.31 346.08 441.56 350.83 441.8 347.54 442.05 346.43 442.29 345.66 442.54 345.78 442.78 346.95 443.03 344.92 443.27 342.96 443.52 345.9 443.76 340.96 444 341.69 444.25 343.25 444.5 343.91 444.74 345.73 444.99 346.28 445.23 346.12 445.48 346.91 445.72 347.48 445.97 349.58 446.21 349.75 446.46 349.34 446.71 349.53 447 350.61 447.2 352.97 447.44 352.15 447.69 352.73 447.93 350.63 448.18 351.76 448.42 349.62 448.67 351.02 448.91 350.8 449.16 350.75 449.4 352.99 449.65 350.85 449.89 349.56 450 349.78 450.14 349.83 450.38 349.43 450.63 349.25 450.87 350.9 451.12 350.91 451.36 351.06 451.61 350.26 451.85 350.48 452.1 349.85 452.34 351.61 452.59 350.64 452.83 351.16 453 350.93 453.32 350.52 453.57 349.19 453.82 349.2 454.06 348.72 454.31 351.59 454.55 349.93 454.8 349.99 455.04 348.46 455.29 349.7 455.53 347.73 455.78 349.14 456 347.69 456.27 347.69 456.51 347.42 456.76 348.04 457 346.81 457.25 344.59 457.49 344.4 457.74 345.16 457.98 343.77 458.23 343.05 458.47 340.41 458.72 340.43 458.96 339.3 459.21 339.39 459.5 338.49 459.7 342.16 459.94 341.97 460.19 343.23 460.43 344.7 460.68 343.57 461 345.79 461.17 345.22 461.42 345.8 461.66 345.05 461.91 345.06 462.15 344.23 462.4 344.61 462.64 344.47 462.89 345.4 463.13 344.89 463.38 344.86 463.62 343.77 463.87 343.85 464.11 344.28 464.36 342.37 464.6 343.29 464.85 343.03 465 342.24 465.09 342.04 465.34 343.56 465.58 343.16 465.83 343.21 466.07 345.67 466.32 344.62 466.56 345.86 466.81 344.84 467.05 344.67 467.3 345.27 467.54 344.39 467.79 344.3 468 344.62 468.28 344.95 468.53 345.61 468.77 346.16 469.02 347.5 469.26 350.16 469.51 350.57 469.75 348.9 470 348.01 470.24 347.57 470.49 347.77 470.73 348.04 470.98 349.02 471.22 348.37 471.47 348.23 471.71 345.72 471.96 347.03 472.2 345.48 472.45 346.05 472.69 345.45 473 344.72 473.18 346.5 473.43 346.83 473.67 345.43 473.92 347.11 474.16 349.8 474.41 352.64 474.65 350.94 474.9 349.96 475.14 350.48 475.39 351.14 475.64 351.86 475.88 353.53 476 352.99 476.13 353.18 476.37 352.6 476.62 351.49 476.86 350.25 477.11 350.15 477.35 348.38 477.6 348.15 477.84 347.03 478 346.69 478.09 346.36 478.33 345.92 478.58 345.3 478.82 345.91 479.07 345.17 479.31 345.25 479.56 344.36 479.8 345.73 480.05 344.29 480.29 347.65 480.54 346.07 480.78 346.32 481.03 343.99 481.27 345.43 481.52 343.67 481.76 344.66 482 345.12 482.25 346.45 482.5 344.55 482.75 344.62 482.99 344.53 483.24 345.1 483.48 343.96 483.73 344.23 483.97 342.94 484.22 344.31 484.46 344.67 484.71 344.58 484.95 347.19 485.2 344.09 485.44 344.09 485.69 344.44 486 345.25 486.18 343.92 486.42 345.1 486.67 345.04 486.91 346.3 487.16 345.41 487.4 343.8 487.65 344.22 487.89 343.66 488 344.15 488.14 341.57 488.38 336.02 488.7 330.45 488.87 335.09 489 343 489.12 344.52 489.36 341.8 489.5 341.21 489.61 341.23 489.86 335.66 490.1 335.32 490.35 332.83 490.5 332.25 490.59 332.42 490.84 332.69 491.08 330.25 491.2 329.95 491.33 328.46 491.57 326.21 491.8 324.07 492 334.53 492.3 351.3 492.5 358.04 492.8 353.53 493 350.4 493.29 345.24 493.5 342.3 493.8 347.06 494.02 352.93 494.27 361.38 494.4 368.26 494.51 369.55 494.76 374.05 495 376.09 495.25 383.75 495.5 393.5 495.8 401.24 496 407.45 496.2 419.55 496.5 402.78 496.72 387.26 496.9 373.72 497 360.73 497.21 364.34 497.5 359.91 497.7 355.7 498 351.59 498.19 348.61 498.5 348.96 498.68 346.12 498.8 341.44 498.93 347.9 499.17 347.75 499.42 346.68 499.5 350.28 499.66 348.19 499.91 348.38 500 347.52 500.15 336.99 500.4 333.29 500.5 327.19 500.64 325.04 500.89 314.35 501.13 306.33 501.4 295.43 501.5 303.99 501.7 318.59 501.87 331.93 502 340.23 502.11 341.65 502.36 343.8 502.5 344.92 502.6 347.7 502.85 346.74 503 346.05 503.09 348.78 503.34 345.5 503.5 346.96 503.58 350.71 503.83 350.8 504 349.31 504.32 349.37 504.57 346.19 504.81 349.95 505 347.87 505.3 344.74 505.4 342.78 505.55 342.3 505.79 345.31 505.9 342.44 506 345.52 506.28 340.27 506.53 339.52 506.77 339.12 507 334.69 507.1 335.88 507.26 335.64 507.51 337.97 507.75 334.41 508 331.72 508.24 330.57 508.49 327.71 508.73 325.38 509 322.46 509.22 320.39 509.5 318.13 509.71 324.25 510 329.88 510.2 334.81 510.5 341.94 510.69 339.53 511 341.14 511.18 343.28 511.43 343.52 511.68 343.62 512 349.5 512.17 347.92 512.41 346.02 512.66 345.06 512.9 341.93 513 342.79 513.15 343.1 513.39 339.1 513.64 338.03 513.88 340.01 514 338.08 514.13 334.48 514.4 338.86 514.62 340.49 514.86 346.86 515 348.98 515.11 347.89 515.35 350.69 515.6 352.28 515.84 349.53 516 355.81 516.09 349.55 516.33 353.12 516.58 349.19 516.82 350.85 517 359.12 517.31 356.13 517.56 352.15 517.8 349.73 518.05 353.57 518.29 352.38 518.54 348.56 518.79 346.22 519 348.3 519.28 347.72 519.52 352.03 519.77 346.52 520 341.14 520.2 341.71 520.5 343.17 520.75 342.86 521 347.92 521.24 347.42 521.48 346.09 521.73 347.38 522 340.98 522.22 347.4 522.46 348.26 522.71 348.24 523 346.18 523.2 341.57 523.44 346.29 523.69 353.57 523.93 354.47 524.18 355.88 524.42 353.89 524.67 356.66 524.91 360.17 525 360.15 525.16 357.3 525.4 360.58 525.65 366.06 525.9 363.92 526 366.45 526.14 364.46 526.4 368.93 526.63 373.29 526.88 374.02 527 379.45 527.12 384.1 527.37 387.22 527.61 389.67 527.7 386.45 527.86 388.94 528 391.52 528.1 391.82 528.35 397.21 528.59 402.02 528.8 404.12 529 391.53 529.08 383.74 529.33 367.31 529.5 358.1 529.82 347.55 530 341.87 530.31 332.19 530.5 323.65 530.8 338.34 531 340.33 531.29 348.17 531.5 355.5 531.78 355.84 532.02 355.6 532.27 364.86 532.51 366.8 532.76 367.62 533 369.3 533.25 377.51 533.5 385.39 533.7 386.19 534 397.14 534.23 404.64 534.4 405.49 534.72 379.85 535 354.83 535.21 351.66 535.46 352.19 535.7 350.56 535.95 350.6 536.19 349.03 536.44 345.66 536.68 347.96 537 344.58 537.17 346.5 537.42 350.55 537.66 347 537.8 348.93 537.91 346.24 538 348.34 538.15 346.49 538.4 350.27 538.64 347 538.89 349.02 539.13 349.08 539.38 348.08 539.62 347.03 539.87 351.55 540 347.45 540.11 345.12 540.36 346.25 540.61 347.29 540.85 345.85 541.1 342.76 541.34 346.55 541.59 346.87 541.83 343.62 542 345.69 542.32 346.39 542.57 348.74 542.81 346.06 543 344.19 543.3 348.38 543.55 344.63 543.79 349.69 544.04 346.74 544.28 346.64 544.53 345.79 544.77 347.26 545 349.28 545.26 339.99 545.51 328.21 545.6 322.97 545.75 327.61 546 340.64 546.3 349.3 546.49 349.54 546.73 348.56 546.98 348.56 547.22 350.13 547.47 349.18 547.72 349.28 548 347.11 548.21 347.56 548.45 347.23 548.7 347.23 548.94 344.82 549.19 354.51 549.43 351.14 549.68 345.36 550 349.58 550.17 342.04 550.41 329.69 550.6 316.76 550.9 332.19 551 333.75 551.15 342.35 551.3 347.84 551.39 350.63 551.64 350.43 551.88 354.56 552 351.06 552.13 350.25 552.37 352.53 552.62 347.45 552.86 350.98 553.11 350.57 553.35 354.13 553.6 354.64 553.84 358.29 554 357.14 554.09 355.94 554.33 357.73 554.58 360.57 554.83 360.15 555 360.78 555.32 371.3 555.56 380.57 555.81 388.25 556 394.9 556.2 408.07 556.3 402.78 556.54 381.9 556.79 368.37 557 355.67 557.28 353.97 557.52 352.84 557.77 353.27 558.01 352.01 558.26 351.99 558.5 350.86 558.75 350.19 558.99 350.33 559.24 349.39 559.48 349.4 559.73 348.27 560 345.65 560.22 346.64 560.46 348.22 560.71 347.18 560.95 347.59 561.2 346.64 561.44 347.31 561.69 348.27 561.93 349.5 562.18 348.04 562.43 349.28 562.67 348.59 562.92 347.82 563.16 346.9 563.41 346.15 563.65 347.11 563.9 347.93 564.14 347.39 564.39 347.04 564.63 346.45 564.88 346.61 565 348.31 565.12 347.82 565.37 347.3 565.61 347.52 565.86 345.86 566.1 346.47 566.35 347.19 566.59 345.51 566.84 347.71 567.08 345.74 567.33 346.27 567.57 347.2 567.82 348.37 568.06 346.28 568.31 345.32 568.55 345.43 568.8 345.81 569.04 345.72 569.29 347.07 569.54 346.97 569.78 346.11 570 345.95 570.27 344.96 570.52 345.64 570.76 346.4 571.01 346.59 571.25 345.87 571.5 345.06 571.74 345.24 571.99 345.69 572.23 346.65 572.48 345.19 572.72 346.71 572.97 345.71 573.21 344.29 573.46 343.47 573.7 344.01 573.95 345.92 574.19 343.77 574.44 344.99 574.68 347.26 575 346.54 575.17 344.78 575.42 345.13 575.66 347.3 575.91 344.66 576.15 344.73 576.4 345.69 576.65 344.95 576.89 344.48 577.14 343.57 577.38 344.77 577.63 345.15 577.87 344.32 578.12 344.91 578.36 343.93 578.61 344.27 578.85 345.05 579.1 343.51 579.34 344.21 579.59 344.13 579.83 345.35 580 344.17 580.32 344.94 580.57 345.79 580.81 344.23 581.06 344.52 581.3 345.26 581.55 344.6 581.79 343.86 582.04 344.01 582.28 342.88 582.53 345.23 582.77 344.81 583.02 344.92 583.26 344.53 583.51 345.25 583.76 342.72 584 344.61 584.25 343.18 584.49 343.96 584.74 344.59 585 344.85 585.23 344.99 585.47 344.03 585.72 343.22 585.96 343.88 586.21 344.36 586.45 344.83 586.7 341.06 586.94 342.76 587.19 343.66 587.43 344.59 587.68 345.95 587.92 346.28 588.17 345.52 588.41 345.06 588.66 344.51 588.9 345.66 589.15 345.48 589.39 344.69 589.64 344.14 589.88 345.42 590 347.35 590.13 346.67 590.37 347.3 590.62 347.13 590.87 347.64 591.11 348.37 591.36 350.22 591.6 350.95 591.85 353.75 592.09 352.92 592.34 354.5 592.58 355.01 592.83 359.17 593.07 358.56 593.32 357.51 593.5 358.8 593.81 354.75 594.05 354.8 594.3 351.54 594.54 348.54 594.79 346.28 595 344.59 595.28 344.75 595.52 344.8 595.77 345.24 596.01 347.06 596.26 345.39 596.5 344.41 596.75 346.24 597 346.43 597.24 344.89 597.48 344.68 597.73 344.28 597.97 344.7 598.22 344.91 598.47 350.34 598.71 346.78 598.96 345.01 599.2 343.93 599.45 344.51 599.69 344.06 600 344.15 600.18 344.19 600.43 343.14 600.67 340.75 600.92 338.47 601.16 337.48 601.41 336.33 601.65 335.9 601.9 333.38 602.14 332.78 602.39 332.61 602.63 329.08 602.88 328.9 603 327.4 603.12 328.65 603.37 331.2 603.5 327.89 603.61 328.5 603.86 328.16 604.1 330.55 604.35 336.58 604.59 338.98 604.84 342.22 605 343.49 605.08 343.43 605.33 345.15 605.58 347.43 605.82 344.67 606.07 351.06 606.31 343.48 606.56 348.51 606.8 354.14 607 354.37 607.29 350.33 607.54 352.35 607.78 353.89 608 355.59 608.27 353.77 608.52 359.64 608.76 358.94 609.01 361.86 609.25 359.9 609.5 353.86 609.74 361.05 610 362.19 610.23 361.14 610.48 359.34 610.72 353.79 610.97 354.93 611.21 349.7 611.46 349.6 611.7 348.1 612 346.21 612.19 347.29 612.44 347.3 612.69 345.72 612.93 342.65 613.18 342.27 613.42 338.57 613.67 339.44 613.91 340.62 614 339.49 614.16 344.36 614.4 345.05 614.65 340 614.89 337.29 615 338.17 615.14 339.09 615.38 337.77 615.63 338.1 615.87 342.57 616 343.25 616.12 344.89 616.36 345.75 616.5 350.35 616.61 350.24 616.85 348.29 617.1 348.98 617.34 352.02 617.6 356.04 617.83 374.38 618 364.2 618.32 359.1 618.57 358.12 618.81 353.38 619 354.26 619.3 348.26 619.55 347.56 619.8 348.19 620 345.54 620.29 337.86 620.53 334.94 620.78 335.9 621.02 333.66 621.27 324.31 621.5 329.8 621.76 330.97 622 339.01 622.25 337.27 622.49 339.13 622.74 344.89 623 348.11 623.23 351.76 623.47 347.22 623.72 348.28 624 353.26 624.21 349.35 624.45 352.44 624.7 350.15 625 351.99 625.19 348.27 625.43 348.06 625.68 347.21 626 344.64 626.17 341.57 626.41 338.57 626.66 342.49 626.9 336.94 627 333.22 627.15 336.01 627.4 341.2 627.64 341.97 627.89 344.92 628 346.67 628.13 346.73 628.38 351.94 628.62 361.17 628.87 357.54 629 359.99 629.11 359.28 629.36 361.95 629.6 357.7 629.85 357.96 630 357.2 630.09 352.44 630.34 357.88 630.58 354.15 630.83 345.99 631 348.83 631.32 346.15 631.56 344.31 631.81 344.95 632 341.46 632.3 333.23 632.54 335.86 632.79 330.09 633 332.81 633.28 328.99 633.52 327.27 633.77 327.03 634 324.84 634.26 326.31 634.51 325.31 634.75 320.22 635 315.29 635.24 317.7 635.49 313.5 635.73 311.8 636 314.32 636.22 307.83 636.47 306.9 636.71 303.78 637 298.41 637.2 294.57 637.45 293.92 637.69 286.83 637.8 284.63 638 302.9 638.18 313.1 638.5 340.84 638.67 348.62 638.92 354.66 639.16 349.8 639.41 356.52 639.65 356.41 639.9 359.63 640 360.09 640.14 364.66 640.39 367.24 640.63 373.24 640.88 379.96 641 383.27 641.12 377.93 641.37 370.96 641.62 360.25 641.86 347.66 642 345.24 642.11 343.62 642.35 343.61 642.6 341.37 642.84 337.2 643 333.47 643.09 336.74 643.33 333.43 643.58 327.28 643.82 328.43 644 330.31 644.31 334.86 644.56 333.97 644.8 335.98 645 339.65 645.29 344.16 645.54 345.89 645.78 346.43 646 348.84 646.27 355.69 646.52 357.35 646.76 359.59 647 364.11 647.25 364.26 647.5 368.02 647.74 370.44 648 374.06 648.23 372.03 648.48 366.2 648.73 363.17 649 360.65 649.22 351.52 649.46 350.66 649.71 346.11 650 337.94 650.2 337.55 650.44 341.32 650.69 332.85 651 327.27 651.18 320.66 651.42 316.98 651.67 314.01 651.91 309.23 652 312.95 652.16 318.83 652.4 329.39 652.65 335.99 652.89 342.12 653 343.95 653.14 349.62 653.38 349.06 653.63 350.46 653.87 351.91 654 353.87 654.12 355.79 654.36 360.46 654.5 357.93 654.61 361.32 654.85 366.69 655 367.05 655.1 364.39 655.34 358.77 655.59 352.64 655.83 352.61 656 348.01 656.08 348.45 656.33 349.48 656.57 344.81 656.82 338.38 657 340.16 657.31 335.12 657.55 335.54 657.8 332.11 658 324.86 658.29 317.45 658.6 313.9 658.78 315.6 659.02 324.04 659.27 327.51 659.51 342.07 659.76 347.91 660 348.69 660.25 348.9 660.49 344.64 660.74 347.76 660.98 351.24 661.23 352.28 661.47 360.97 661.72 356.53 662 357.34 662.21 357.56 662.45 354.16 662.7 349.71 662.94 347.58 663.19 347.64 663.44 345.23 663.6 342.99 663.68 344.99 664 338.75 664.17 339.44 664.42 338.66 664.66 338.88 664.91 337.7 665 341.83 665.15 344.06 665.4 345.93 665.64 344.06 665.89 342.65 666 342.03 666.13 348.27 666.38 346.18 666.62 348.12 666.87 348 667 346.3 667.11 345.56 667.36 351.82 667.6 352.57 667.85 348.1 668 346.41 668.09 350.7 668.34 360.33 668.58 369.18 668.83 373.3 669 376.87 669.3 388.34 669.56 392.1 669.81 403.87 670.05 411.04 670.2 416.36 670.3 396.91" stroke="#ff7f0e" stroke-width="0.8" stroke-opacity="1" fill="none" stroke-linejoin="round" clip-path="url(#clipd)"/>
<path d="M388.6 344.55 388.85 345.31 389.09 344.59 389.34 344.05 389.58 344.58 389.83 343.65 390.07 344.34 390.32 344.64 390.56 343.97 390.81 345.17 391.05 344.62 391.3 342.58 391.54 343.18 391.79 344.31 392 344.92 392.28 344.86 392.52 345.24 392.77 344.73 393.01 344.82 393.26 343.37 393.5 343.9 393.75 344.57 393.99 345.6 394.24 344.23 394.48 343.13 394.73 343.55 394.97 345.08 395.22 345.89 395.46 347.42 395.71 346.79 396 345.66 396.2 345.75 396.45 345.04 396.69 346.08 396.94 344.75 397.18 344.27 397.43 343.53 397.67 344.03 397.92 343.06 398.16 341.98 398.41 342.27 398.65 343.31 398.9 343.11 399 342.64 399.14 342.09 399.39 342.87 399.63 342.4 399.88 342.52 400.12 342.73 400.37 342.86 400.61 343.84 400.86 343.59 401.1 345.61 401.35 345.79 401.59 347.24 401.84 345.75 402 345.4 402.08 345.91 402.33 344.98 402.57 344.72 402.82 343.49 403.07 342.15 403.31 342.28 403.56 341.81 403.8 341.55 404.05 341.56 404.29 340.56 404.54 340.45 404.78 340.72 405 341.28 405.3 342.54 405.52 343.65 405.76 345.53 406 346.65 406.25 345.69 406.5 342.56 406.74 343.26 406.99 343.34 407.23 343.07 407.48 343 407.72 343.37 408 342.04 408.21 340.5 408.46 341.14 408.7 340.98 408.95 342 409.19 341.44 409.44 340.76 409.68 343.03 410 344.78 410.17 344.59 410.42 343.82 410.67 344.88 410.91 345.69 411.16 345.64 411.4 344.57 411.65 346.19 411.89 347.51 412 347.48 412.14 347.63 412.38 346.68 412.63 347.67 412.87 345.4 413.12 346.65 413.36 345.03 413.61 344.79 413.85 344.89 414 344.09 414.1 343.8 414.3 341.7 414.59 343.06 414.83 342.61 415.08 341.82 415.32 338.76 415.5 339.45 415.81 332.7 416 328.24 416.2 331.46 416.3 333.05 416.5 336.99 416.79 341.59 416.9 343.17 417 344.62 417.28 346.36 417.5 346.35 417.78 348.34 418 349.75 418.27 351.27 418.51 352.75 418.76 351.58 419 354.17 419.25 358.27 419.5 361.99 419.74 365.24 420 368.6 420.3 362.29 420.47 358.05 420.72 354.6 421 350.21 421.21 349.55 421.45 348.31 421.7 350.07 421.94 348.78 422.19 350 422.43 347.96 422.68 348.4 423 348.64 423.17 349.22 423.41 347.83 423.66 347.1 423.9 347.05 424.15 346.07 424.39 347.78 424.64 347.72 424.89 347.24 425 348 425.13 347.92 425.38 347.18 425.62 346.02 425.87 345.5 426.11 345.3 426.4 344.35 426.6 346.02 426.85 344.05 427.09 344.64 427.34 342.72 427.6 343.24 427.83 344.42 428.07 343.54 428.32 344.72 428.56 345.6 428.81 345.69 429.05 345.31 429.3 344.44 429.54 346.27 429.79 345.96 430 347.9 430.28 345.87 430.52 344.89 430.77 345.38 431.01 345.45 431.26 344.37 431.5 344.16 431.75 343.4 432 343.95 432.24 343.3 432.49 343.45 432.73 344.69 433 341.8 433.22 342.42 433.47 342.49 433.71 341.36 433.96 344.2 434.2 343.44 434.45 343.31 434.69 344.32 434.94 344.81 435.18 344.45 435.43 343.98 435.67 343.16 435.92 345.7 436 344.98 436.16 345.48 436.41 346.48 436.65 346.92 436.9 347.27 437.14 347.46 437.39 348.65 437.63 348.7 437.88 349.73 438.12 349.77 438.37 349.5 438.61 349.71 438.86 350.9 439 351.03 439.1 350.13 439.35 350.22 439.6 349.33 439.84 348.98 440.09 349.53 440.33 348.42 440.58 349.39 440.82 347.74 441 347.4 441.31 347.11 441.56 351.27 441.8 347.48 442.05 346.16 442.29 345.07 442.54 346.09 442.78 347.19 443.03 345.37 443.27 343.55 443.52 344.95 443.76 341.66 444 342.67 444.25 343.94 444.5 344.83 444.74 346.46 444.99 346.99 445.23 346.32 445.48 347.36 445.72 348.44 445.97 349.37 446.21 349.82 446.46 349.9 446.71 350.06 447 351.26 447.2 351.69 447.44 351.87 447.69 352.32 447.93 351.63 448.18 352.27 448.42 351.05 448.67 351.19 448.91 350.91 449.16 350.56 449.4 352.58 449.65 350.41 449.89 350.11 450 349.9 450.14 349.42 450.38 349.06 450.63 350 450.87 351.13 451.12 350.92 451.36 351.43 451.61 350.7 451.85 350.16 452.1 349.9 452.34 351.8 452.59 350.88 452.83 351.26 453 351.51 453.32 350.94 453.57 349.36 453.82 349.75 454.06 349.27 454.31 352.1 454.55 349.92 454.8 350.42 455.04 349.33 455.29 350.46 455.53 348.89 455.78 349.6 456 348.42 456.27 348.72 456.51 347.99 456.76 348.19 457 347.33 457.25 345.54 457.49 345.57 457.74 344.97 457.98 344.13 458.23 343.39 458.47 340.86 458.72 340.92 458.96 339.82 459.21 339.49 459.5 339 459.7 342.75 459.94 342.47 460.19 343.75 460.43 345.42 460.68 344.66 461 346.33 461.17 346.3 461.42 346.55 461.66 345.58 461.91 345.62 462.15 345.16 462.4 345.75 462.64 346.29 462.89 345.87 463.13 344.84 463.38 345.72 463.62 344.86 463.87 344.47 464.11 344.31 464.36 342.7 464.6 343.61 464.85 343.57 465 342.79 465.09 343.46 465.34 344.22 465.58 343.6 465.83 343.83 466.07 346.04 466.32 345.4 466.56 346.65 466.81 345.61 467.05 344.99 467.3 345.5 467.54 344.93 467.79 344.46 468 345.37 468.28 345.8 468.53 346.25 468.77 346.41 469.02 347.85 469.26 350.16 469.51 349.81 469.75 348.98 470 348.51 470.24 348.31 470.49 347.28 470.73 347.78 470.98 348.12 471.22 347.92 471.47 348.11 471.71 345.39 471.96 346.96 472.2 346.1 472.45 346.17 472.69 346.43 473 345.21 473.18 346.3 473.43 346.99 473.67 346.7 473.92 347.65 474.16 350.35 474.41 352.94 474.65 350.94 474.9 350.4 475.14 351.15 475.39 352.3 475.64 352.68 475.88 354.14 476 353.17 476.13 353.16 476.37 353.41 476.62 351.46 476.86 350.23 477.11 350.22 477.35 347.95 477.6 347.74 477.84 347.5 478 347.54 478.09 346.86 478.33 346.39 478.58 345.9 478.82 346.39 479.07 346.17 479.31 346.01 479.56 345.26 479.8 345.81 480.05 344.77 480.29 347.95 480.54 346.84 480.78 346.26 481.03 345.04 481.27 345.37 481.52 345.18 481.76 345.29 482 345.9 482.25 345.88 482.5 345.17 482.75 345.25 482.99 345.2 483.24 345.7 483.48 344.09 483.73 344.77 483.97 343.91 484.22 345.56 484.46 345.37 484.71 345.58 484.95 347.47 485.2 345.31 485.44 344.79 485.69 345.39 486 346.1 486.18 343.99 486.42 345.07 486.67 345.2 486.91 347.28 487.16 345.75 487.4 344.1 487.65 344.17 487.89 344.03 488 344.03 488.14 341.84 488.38 336.07 488.7 330.83 488.87 334.91 489 336.87 489.12 338.45 489.36 343.49 489.5 345.75 489.61 345.06 489.86 342.54 490.1 341.7 490.35 340.82 490.5 340.96 490.59 338.84 490.84 344.26 491.08 348.27 491.2 350.28 491.33 358.13 491.57 374.63 491.8 390.22 492 404.13 492.3 421.43 492.5 409.61 492.8 392.09 493 381.1 493.29 373.47 493.5 366 493.8 357.99 494.02 387.61 494.27 419.51 494.4 438.8 494.51 431.11 494.76 404.69 495 379.9 495.25 359.74 495.5 338.47 495.8 305.72 496 304.95 496.2 300.06 496.5 260.79 496.72 300.49 496.9 330.04 497 335.16 497.21 347.39 497.5 362.06 497.7 363.64 498 369.16 498.19 378.26 498.5 381.42 498.68 376.77 498.8 370.83 498.93 368.35 499.17 359.84 499.42 355.09 499.5 349.74 499.66 350.12 499.91 353.54 500 354 500.15 353.53 500.4 356.04 500.5 357.94 500.64 360.45 500.89 367.73 501.13 372.99 501.4 378.29 501.5 380.17 501.7 368.51 501.87 368.23 502 368.16 502.11 364.5 502.36 356.01 502.5 354.49 502.6 354.13 502.85 348.62 503 348.12 503.09 349.64 503.34 346.94 503.5 344.62 503.58 344.33 503.83 343.52 504 344.1 504.32 342.97 504.57 346.61 504.81 340.52 505 340.48 505.3 306.55 505.4 299 505.55 313.69 505.79 336.72 505.9 346.03 506 348.69 506.28 349.8 506.53 352.91 506.77 353.45 507 353.53 507.1 352.14 507.26 350.24 507.51 351.91 507.75 351.15 508 348.55 508.24 348.92 508.49 349.06 508.73 345.41 509 346.92 509.22 345.82 509.5 346.38 509.71 345.73 510 348.76 510.2 346.93 510.5 349.65 510.69 348.52 511 350.17 511.18 350.9 511.43 351.29 511.68 352.64 512 348.27 512.17 351.26 512.41 354.26 512.66 351.67 512.9 351.5 513 353.11 513.15 355.73 513.39 353.68 513.64 353.15 513.88 348.32 514 347.87 514.13 348.13 514.4 347.33 514.62 350.57 514.86 347.87 515 346.52 515.11 352.88 515.35 350.38 515.6 350.56 515.84 349.15 516 350.68 516.09 351.45 516.33 350.55 516.58 351.13 516.82 353.71 517 357.02 517.31 351.33 517.56 350.43 517.8 348.73 518.05 346 518.29 347.64 518.54 347.13 518.79 344.44 519 344.68 519.28 337.12 519.52 329.14 519.77 327.97 520 325.22 520.2 321.01 520.5 326.61 520.75 335.37 521 343.78 521.24 347.43 521.48 342.59 521.73 344.53 522 355.44 522.22 351.8 522.46 350.88 522.71 347.87 523 348.84 523.2 352.18 523.44 351.57 523.69 359.28 523.93 356.99 524.18 358.16 524.42 359.2 524.67 363.28 524.91 361.58 525 363.06 525.16 362.05 525.4 361.93 525.65 363.99 525.9 367.39 526 369.49 526.14 368.16 526.4 365.74 526.63 367.02 526.88 371.05 527 371.66 527.12 371.25 527.37 375.27 527.61 377.11 527.7 378.56 527.86 386.21 528 385.36 528.1 385.83 528.35 367.46 528.59 364.22 528.8 362.34 529 356.24 529.08 354.1 529.33 353.97 529.5 354.27 529.82 351.72 530 352.86 530.31 350.6 530.5 348.37 530.8 345.97 531 352.7 531.29 351.64 531.5 356.09 531.78 359.95 532.02 364.39 532.27 361.45 532.51 366.53 532.76 370.61 533 370.09 533.25 372.38 533.5 373.46 533.7 377.11 534 380.05 534.23 371.24 534.4 366.94 534.72 358.43 535 353.08 535.21 354.82 535.46 350.31 535.7 350.98 535.95 350.85 536.19 347.43 536.44 349.73 536.68 347.47 537 348.85 537.17 353.07 537.42 356.3 537.66 356.61 537.8 356.25 537.91 361 538 357.42 538.15 356.83 538.4 354.36 538.64 353.27 538.89 352.23 539.13 350.21 539.38 349.48 539.62 347.21 539.87 347.32 540 345.02 540.11 343.14 540.36 341.15 540.61 343.19 540.85 343.58 541.1 342.45 541.34 343.54 541.59 342.14 541.83 342.4 542 342.22 542.32 339.73 542.57 341.43 542.81 342.97 543 341.48 543.3 341.83 543.55 341.23 543.79 344.58 544.04 343.86 544.28 345.47 544.53 341.79 544.77 345.1 545 346.2 545.26 347.48 545.51 345.59 545.6 346.39 545.75 347.2 546 347.21 546.3 346.13 546.49 344.25 546.73 345.57 546.98 348.15 547.22 346.63 547.47 344.87 547.72 346.46 548 347.5 548.21 346.81 548.45 346.31 548.7 345.81 548.94 347.03 549.19 348.5 549.43 349.43 549.68 352.62 550 352.99 550.17 353.57 550.41 351.02 550.6 352.33 550.9 350.16 551 347.57 551.15 349.06 551.3 348.59 551.39 346.45 551.64 347.86 551.88 345 552 344.28 552.13 345.46 552.37 346.88 552.62 346.11 552.86 345.54 553.11 347.37 553.35 346.67 553.6 348.4 553.84 347.34 554 349.44 554.09 351.28 554.33 354.71 554.58 356.43 554.83 362.51 555 365.46 555.32 371.62 555.56 376.16 555.81 379.17 556 382.24 556.2 376.48 556.3 375.14 556.54 367.62 556.79 358.66 557 350.42 557.28 351.16 557.52 351.34 557.77 349.6 558.01 350.97 558.26 350.23 558.5 349.61 558.75 349.68 558.99 349.23 559.24 348.96 559.48 348.83 559.73 348.19 560 348.13 560.22 348.56 560.46 348.6 560.71 347.62 560.95 348.26 561.2 348.47 561.44 348.39 561.69 348.88 561.93 349.4 562.18 348.29 562.43 346.6 562.67 346.71 562.92 347.93 563.16 350.78 563.41 349.23 563.65 348.32 563.9 349.72 564.14 347.57 564.39 347.57 564.63 347.15 564.88 346.03 565 347.2 565.12 346.4 565.37 347.18 565.61 347.37 565.86 355.88 566.1 349.54 566.35 347.18 566.59 348.19 566.84 347.51 567.08 347.79 567.33 346.83 567.57 347.36 567.82 347.52 568.06 346.8 568.31 345.36 568.55 344.09 568.8 345.65 569.04 346.08 569.29 346.09 569.54 345.92 569.78 344.92 570 346.48 570.27 345.05 570.52 345.71 570.76 345.95 571.01 345.63 571.25 345.69 571.5 345.65 571.74 346.56 571.99 347.24 572.23 346.01 572.48 346.24 572.72 345.92 572.97 346.09 573.21 343.96 573.46 345 573.7 348.21 573.95 346.97 574.19 345.38 574.44 344.42 574.68 344.42 575 346.1 575.17 345.24 575.42 345.41 575.66 343.05 575.91 346.57 576.15 345.6 576.4 352.51 576.65 348.19 576.89 346.22 577.14 345.61 577.38 344.12 577.63 344.02 577.87 344.32 578.12 344.28 578.36 344.6 578.61 343.67 578.85 343.56 579.1 344.34 579.34 345.4 579.59 344.44 579.83 343.6 580 343.66 580.32 344.22 580.57 344.49 580.81 345.3 581.06 344.7 581.3 344.18 581.55 344.1 581.79 344.28 582.04 344.94 582.28 344.73 582.53 344.47 582.77 344.42 583.02 344.91 583.26 344.58 583.51 346.17 583.76 345.63 584 345.53 584.25 345.91 584.49 345.5 584.74 343.86 585 345.64 585.23 344.59 585.47 344.91 585.72 344.7 585.96 343.38 586.21 344.83 586.45 344.15 586.7 344.58 586.94 344.18 587.19 343.65 587.43 343.89 587.68 346.17 587.92 344.84 588.17 344.7 588.41 344.12 588.66 344.41 588.9 343.73 589.15 343.42 589.39 343.13 589.64 344.89 589.88 342.75 590 344.59 590.13 343 590.37 342.91 590.62 342.78 590.87 343.34 591.11 345.07 591.36 344.4 591.6 344.48 591.85 344.94 592.09 344.94 592.34 345.91 592.58 345.82 592.83 346.4 593.07 346.35 593.32 346.54 593.5 347.86 593.81 347.63 594.05 346.14 594.3 345.4 594.54 345.71 594.79 345.93 595 347.12 595.28 345.42 595.52 346.78 595.77 346.21 596.01 346.02 596.26 344.1 596.5 345.1 596.75 345.31 597 344.78 597.24 344.09 597.48 344.89 597.73 345.01 597.97 343.4 598.22 344.33 598.47 344.61 598.71 344.9 598.96 344.94 599.2 344.95 599.45 344.41 599.69 344.9 600 344.92 600.18 345.53 600.43 345.41 600.67 345.94 600.92 345.17 601.16 346.52 601.41 344.83 601.65 343.7 601.9 344.56 602.14 344.04 602.39 344.13 602.63 344.82 602.88 343.74 603 344.36 603.12 343.68 603.37 345.62 603.5 344.07 603.61 344.1 603.86 342.94 604.1 343 604.35 344.78 604.59 344.49 604.84 346.68 605 348.02 605.08 349.13 605.33 348.32 605.58 349.17 605.82 350.08 606.07 350.81 606.31 351.64 606.56 353.68 606.8 354.7 607 352.88 607.29 350.37 607.54 351.17 607.78 354.26 608 355.13 608.27 348.91 608.52 355.61 608.76 354.63 609.01 357.68 609.25 358.39 609.5 360.58 609.74 359.03 610 360.43 610.23 358.11 610.48 358.42 610.72 356.14 610.97 358.7 611.21 359.24 611.46 357.88 611.7 351.87 612 349.28 612.19 348.89 612.44 350.3 612.69 349.29 612.93 347.95 613.18 347.56 613.42 347.15 613.67 346.73 613.91 340.17 614 341.48 614.16 338.95 614.4 342.03 614.65 347.63 614.89 349.1 615 351.02 615.14 350.01 615.38 354.49 615.63 353.64 615.87 354.16 616 353.55 616.12 353 616.36 350.86 616.5 356.41 616.61 353.16 616.85 351.01 617.1 351.51 617.34 350.21 617.6 349.07 617.83 349.17 618 348.16 618.32 347.06 618.57 347.48 618.81 345.26 619 344.77 619.3 339.9 619.55 339.91 619.8 340.04 620 339.33 620.29 341.86 620.53 343.21 620.78 343.4 621.02 344.39 621.27 348.26 621.5 349.43 621.76 351.97 622 358.02 622.25 353.77 622.49 350.57 622.74 347.84 623 352.2 623.23 349.42 623.47 346.72 623.72 345.67 624 344.48 624.21 346.31 624.45 347.88 624.7 350.5 625 351.62 625.19 351.55 625.43 356.7 625.68 360.28 626 361.28 626.17 358.62 626.41 356.58 626.66 355.09 626.9 351.2 627 357.81 627.15 351.5 627.4 345.61 627.64 345.21 627.89 341.47 628 342.79 628.13 346.35 628.38 344.57 628.62 342.74 628.87 348.36 629 346.13 629.11 346.02 629.36 348.78 629.6 349.29 629.85 351.23 630 350.02 630.09 354 630.34 345.82 630.58 342.31 630.83 343.25 631 339.95 631.32 340.55 631.56 338.73 631.81 333.08 632 335.93 632.3 335.07 632.54 337.73 632.79 338.22 633 349.12 633.28 342.57 633.52 343.45 633.77 341.3 634 344.62 634.26 345.94 634.51 345.22 634.75 347.77 635 350.36 635.24 350.01 635.49 353.5 635.73 357.9 636 359.73 636.22 351.77 636.47 350.52 636.71 348.38 637 344.94 637.2 344.21 637.45 342.37 637.69 340.85 637.8 341.85 638 336.76 638.18 337.35 638.5 341.37 638.67 343.67 638.92 344.57 639.16 345.66 639.41 345.94 639.65 347.31 639.9 346.87 640 343.67 640.14 346.6 640.39 347.99 640.63 349.5 640.88 354.55 641 354 641.12 356.02 641.37 355.83 641.62 356.09 641.86 356.23 642 359.23 642.11 356.34 642.35 354.52 642.6 353.26 642.84 351.79 643 352.11 643.09 354.83 643.33 352.89 643.58 349.76 643.82 345.64 644 347.39 644.31 345.68 644.56 338.88 644.8 341.31 645 340.58 645.29 334.65 645.54 336.54 645.78 332.17 646 330.58 646.27 335.67 646.52 338.67 646.76 340.63 647 344.44 647.25 342.25 647.5 346.24 647.74 347.36 648 349.51 648.23 350.69 648.48 356.7 648.73 355.02 649 355.9 649.22 360.11 649.46 365.38 649.71 368.65 650 370.52 650.2 368.48 650.44 364.12 650.69 358.73 651 356.1 651.18 347.13 651.42 351.25 651.67 349.32 651.91 346.8 652 344.71 652.16 344.67 652.4 349.15 652.65 350.72 652.89 354.34 653 356.79 653.14 356.81 653.38 360.34 653.63 361.81 653.87 364.6 654 366.96 654.12 362.55 654.36 362.69 654.5 359.79 654.61 361.1 654.85 359.36 655 362.47 655.1 359.58 655.34 358.28 655.59 356.24 655.83 354.18 656 352.09 656.08 350.6 656.33 346.72 656.57 346.9 656.82 345.93 657 344.55 657.31 341.56 657.55 338.19 657.8 338.4 658 340.94 658.29 342.36 658.6 343.54 658.78 345.52 659.02 346.75 659.27 350.63 659.51 348.85 659.76 352.7 660 355.71 660.25 352.7 660.49 350.03 660.74 349.55 660.98 343.95 661.23 346.52 661.47 340.74 661.72 344.17 662 343.58 662.21 342.87 662.45 342.8 662.7 341.33 662.94 340.93 663.19 343.87 663.44 342.94 663.6 342.23 663.68 338.97 664 342.73 664.17 344.28 664.42 339.72 664.66 340.99 664.91 344.85 665 343.71 665.15 343.95 665.4 344.42 665.64 346.47 665.89 350.91 666 349.72 666.13 349.43 666.38 357.28 666.62 354.99 666.87 355.1 667 357.51 667.11 356.74 667.36 363.16 667.6 364.89 667.85 360.93 668 364.18 668.09 365.23 668.34 368.47 668.58 371.7 668.83 376.61 669 380.2 669.3 383.48 669.56 390.24 669.81 395.46 670.05 398.29 670.2 401.47 670.3 397.12" stroke="#2ca02c" stroke-width="0.8" stroke-opacity="1" fill="none" stroke-linejoin="round" clip-path="url(#clipd)"/>
<path d="M374.2 256.5V440.5M684.4 256.5V440.5" stroke="#000" stroke-opacity="0.26" stroke-width="1.3" fill="none"/>
<path d="M373.8 256.5H684.8M373.8 440.5H684.8" stroke="#000" stroke-opacity="0.42" stroke-width="1.0" fill="none"/>
<path d="M385.7 440.5v1.4M416.89 440.5v1.4M447.56 440.5v1.4M478.75 440.5v1.4M509.6 440.5v1.4M540.78 440.5v1.4M571.46 440.5v1.4M602.65 440.5v1.4M633.32 440.5v1.4M664.51 440.5v1.4M374.4 269.4h-1.4M374.4 336.2h-1.4M374.4 346.4h-1.4M374.4 357.1h-1.4M374.4 423.5h-1.4" stroke="#000" stroke-opacity="0.5" stroke-width="0.5" fill="none"/>
<text x="385.7" y="446.9" font-size="5.5" text-anchor="middle" textLength="20" lengthAdjust="spacingAndGlyphs">2018-07</text>
<text x="416.89" y="446.9" font-size="5.5" text-anchor="middle" textLength="20" lengthAdjust="spacingAndGlyphs">2019-01</text>
<text x="447.56" y="446.9" font-size="5.5" text-anchor="middle" textLength="20" lengthAdjust="spacingAndGlyphs">2019-07</text>
<text x="478.75" y="446.9" font-size="5.5" text-anchor="middle" textLength="20" lengthAdjust="spacingAndGlyphs">2020-01</text>
<text x="509.6" y="446.9" font-size="5.5" text-anchor="middle" textLength="20" lengthAdjust="spacingAndGlyphs">2020-07</text>
<text x="540.78" y="446.9" font-size="5.5" text-anchor="middle" textLength="20" lengthAdjust="spacingAndGlyphs">2021-01</text>
<text x="571.46" y="446.9" font-size="5.5" text-anchor="middle" textLength="20" lengthAdjust="spacingAndGlyphs">2021-07</text>
<text x="602.65" y="446.9" font-size="5.5" text-anchor="middle" textLength="20" lengthAdjust="spacingAndGlyphs">2022-01</text>
<text x="633.32" y="446.9" font-size="5.5" text-anchor="middle" textLength="20" lengthAdjust="spacingAndGlyphs">2022-07</text>
<text x="664.51" y="446.9" font-size="5.5" text-anchor="middle" textLength="20" lengthAdjust="spacingAndGlyphs">2023-01</text>
<text x="370.2" y="271.4" font-size="5.5" text-anchor="end">10</text>
<text x="370.3" y="269.3" font-size="3.6">2</text>
<text x="370.2" y="338.2" font-size="5.5" text-anchor="end">10</text>
<text x="370.3" y="336.1" font-size="3.6">1</text>
<text x="371.6" y="348.4" font-size="5.5" text-anchor="end">0</text>
<text x="370.2" y="359.1" font-size="5.5" text-anchor="end">−10</text>
<text x="370.3" y="357" font-size="3.6">1</text>
<text x="370.2" y="425.5" font-size="5.5" text-anchor="end">−10</text>
<text x="370.3" y="423.4" font-size="3.6">2</text>
<text x="529.4" y="453.4" font-size="5.8" text-anchor="middle" textLength="13" lengthAdjust="spacingAndGlyphs">Date</text>
<text transform="translate(357.1 348.5) rotate(-90)" font-size="5.6" text-anchor="middle" textLength="11.6" lengthAdjust="spacingAndGlyphs">USD</text>
<text x="480.9" y="254.4" font-size="7.6" textLength="48.4" lengthAdjust="spacingAndGlyphs">Tracking error</text>
<text x="531.8" y="254.4" font-size="7.6" font-style="italic" textLength="6" lengthAdjust="spacingAndGlyphs">Z</text>
<text x="537.7" y="255.7" font-size="5.2" font-style="italic">t</text>
<text x="542.8" y="254.4" font-size="7.6">(</text>
<text x="544.8" y="254.4" font-size="7.6" font-style="italic" textLength="7" lengthAdjust="spacingAndGlyphs">m</text>
<text x="551.8" y="255.7" font-size="5.2">0</text>
<text x="555.8" y="254.2" font-size="7.6" textLength="5.6" lengthAdjust="spacingAndGlyphs">=</text>
<text x="563" y="254.4" font-size="7.6" textLength="12" lengthAdjust="spacingAndGlyphs">1.1</text>
<text x="575.2" y="254.4" font-size="7.6">)</text>
<rect x="377" y="258.9" width="71" height="29.3" rx="1" fill="#fff" fill-opacity="0.8" stroke="#d0d0d0" stroke-opacity="0.8" stroke-width="0.5"/>
<text x="412.5" y="263.7" font-size="4" text-anchor="middle" textLength="35.5" lengthAdjust="spacingAndGlyphs">Hedging method</text>
<path d="M378.6 268.8h10.5" stroke="#1f77b4" stroke-opacity="0.55" stroke-width="1"/>
<text x="393" y="270.5" font-size="4.8" textLength="12.8" lengthAdjust="spacingAndGlyphs">Delta</text>
<path d="M378.6 276.05h10.5" stroke="#ff7f0e" stroke-opacity="0.55" stroke-width="1"/>
<text x="393" y="277.75" font-size="4.8" textLength="25.5" lengthAdjust="spacingAndGlyphs">Delta-vega</text>
<path d="M378.6 283.3h10.5" stroke="#2ca02c" stroke-opacity="0.55" stroke-width="1"/>
<text x="393" y="285" font-size="4.8" textLength="53" lengthAdjust="spacingAndGlyphs">Data-driven (VolGAN)</text>
<g font-family="'Liberation Serif', serif" fill-opacity="0.8">
<text x="478.4" y="476.1" font-size="14">(</text>
<text x="490" y="476.1" font-size="14">)</text>
<text x="486.85" y="475.2" font-size="12.6" text-anchor="middle">d</text>
<text x="499.7" y="475.2" font-size="12.6" font-style="italic" textLength="10.8" lengthAdjust="spacingAndGlyphs">m</text>
<text x="511.5" y="477.5" font-size="8.8">0</text>
<text x="521.1" y="475.2" font-size="12.6" textLength="9.6" lengthAdjust="spacingAndGlyphs">=</text>
<text x="534.5" y="475.2" font-size="12.8" textLength="23.6" lengthAdjust="spacingAndGlyphs">1.10</text>
</g>
<clipPath id="clipe"><rect x="22.3" y="505.4" width="310" height="183.1"/></clipPath>
<path d="M33.6 505.4V688.5M64.79 505.4V688.5M95.46 505.4V688.5M126.65 505.4V688.5M157.5 505.4V688.5M188.68 505.4V688.5M219.36 505.4V688.5M250.55 505.4V688.5M281.22 505.4V688.5M312.41 505.4V688.5M22.3 563.3H332.3M22.3 578.2H332.3M22.3 668.5H332.3" stroke="#b0b0b0" stroke-opacity="0.45" stroke-width="0.9" fill="none"/>
<path d="M139.5 558 139.72 565.1 139.9 570.4 140.1 578.26 140.1 578.11 140.21 578.91 140.3 579.25 140.5 583.89 140.7 590.29 140.8 594.48 140.9 597.42 141.1 604.58 141.19 607.87 141.4 616.57 141.5 620.56 141.7 628.48 141.9 637.5 142 642.39 142.1 646.24 142.2 649.9 142.3 654.38 142.4 658.48 142.6 667.47 142.6 667.13 142.9 658.18 143 655.68 143.1 651.78 143.2 650.22 143.4 643.24 143.5 640.81 143.7 632.21 143.8 627.75 143.9 624.68 144.2 611.71 144.3 607.94 144.4 603.18 144.5 601.68 144.6 598.56 144.8 591.61 144.9 588.99 145 586.08 145.11 583.98 145.2 570.25 145.3 576.67 145.4 575.81 145.5 576.6 145.6 573.98 145.7 572.32 145.8 570.97 145.9 571.8 146 569.26" stroke="#1f77b4" stroke-width="0.8" stroke-opacity="1" fill="none" stroke-linejoin="round" clip-path="url(#clipe)"/>
<path d="M140.1 576.31 140.21 576.26 140.3 575.85 140.5 578.89 140.7 581.74 140.8 584.08 140.9 585.22 141.1 588.78 141.19 590.49 141.4 595.37 141.5 597.56 141.7 582.81 141.9 569.17 142 562.73 142.1 570.88 142.2 578.84 142.3 587.63 142.4 596.03 142.6 602.8 142.6 602.47 142.9 612.01 143 615.68 143.1 617.91 143.2 622.47 143.4 627.74 143.5 631.43 143.7 637.08 143.8 639.75 143.9 650.02 144.2 677.07 144.3 686.64 144.4 676.54 144.5 669.7 144.6 660.09 144.8 640.18 144.9 632.42 145 624.37 145.11 616.6 145.2 598.25 145.3 598.33 145.4 592.9 145.5 589.1 145.6 581.87 145.7 575.66 145.8 573.57 145.9 572.2 146 567.46 146.09 564.98 146.2 563.4 146.34 561.95 146.58 563.04 146.83 561.65 147 561.86 147.32 561.83 147.5 561.59 147.81 563.35 148 562.86 148.3 562.48 148.54 565.69 148.79 564.92 149 563.48" stroke="#ff7f0e" stroke-width="0.8" stroke-opacity="1" fill="none" stroke-linejoin="round" clip-path="url(#clipe)"/>
<path d="M36 563.31 36.5 561.05 36.75 559.74 36.99 560.42 37.24 559.48 37.5 558.81 37.73 558.09 37.97 559.27 38.22 559.7 38.46 558.7 38.71 559.39 38.95 560.75 39.2 559.63 39.44 560.4 39.69 559.99 40 560.53 40.18 562.8 40.42 562.41 40.67 561.85 40.91 561.96 41.16 562.31 41.4 561.79 41.65 565.5 41.89 561.99 42 561.04 42.14 562.96 42.38 563.09 42.63 562.64 42.87 564.14 43.12 562.36 43.36 564.63 43.61 562.71 43.86 562.8 44.1 565.36 44.35 565.18 44.5 564.73 44.59 563.87 44.84 563.46 45.08 562.83 45.33 565.71 45.57 564.2 45.82 563.31 46 561.46 46.31 559.62 46.55 560.76 46.8 559.05 47.04 558.81 47.29 558.88 47.5 556.23 47.78 558.11 48.02 559.17 48.27 560.07 48.51 558.15 48.76 558.11 49 557.82 49.25 560.6 49.49 560.37 49.74 559.85 49.98 560.05 50.23 560.67 50.5 561.48 50.72 563.07 50.97 561.87 51.21 561.69 51.46 562.43 51.7 561.77 52 562.69 52.1 565.6 52.19 561.52 52.44 560.18 52.68 560.36 52.93 557.93 53.17 555.64 53.3 544.4 53.42 552.84 53.66 550.15 53.91 554.95 54 554.14 54.15 553.79 54.4 553.45 54.64 555.92 54.89 552.92 55.13 555.03 55.38 555.39 55.7 554.74 55.87 555.75 56.11 557.95 56.36 557.1 56.6 557.83 56.85 557.53 57.1 566.5 57.34 557.09 57.58 559.63 57.83 558.46 58.07 557.84 58.32 557.15 58.6 556.84 58.81 557.62 59.06 559.4 59.3 559.38 59.55 558.99 59.79 561.03 60 562.41 60.28 562.11 60.53 563.75 60.77 570.9 61.02 560.96 61.26 563.05 61.5 564.93 61.75 564.2 62 568.65 62.24 564.98 62.49 563.76 62.73 566.63 62.9 561.4 63.22 546.56 63.4 536.76 63.71 532.01 63.96 526.72 64.2 522.22 64.3 520.85 64.45 527.8 64.69 542.9 64.8 547.77 64.94 549.06 65.18 546.46 65.5 555.5 65.68 548.14 65.92 547.29 66.17 546.77 66.41 547.86 66.5 548.1 66.66 547.51 66.9 548.26 67.15 547.46 67.39 544.54 67.64 546.49 67.88 546.07 68.2 544.97 68.37 549.89 68.62 559.23 68.7 563.3 68.86 561.82 69.11 562.43 69.35 563 69.5 573.8 69.6 562.96 69.84 565.71 70.1 566.95 70.33 566.39 70.58 564.9 70.82 564.54 71.07 566.06 71.31 565.91 71.56 566.28 71.8 566.59 72.1 566.24 72.29 566.82 72.54 567.6 72.79 566.9 73.03 566.97 73.28 565.36 73.52 567.23 73.77 565.3 74.01 564.44 74.26 565.46 74.5 565.8 74.7 559.3 74.9 565.49 74.99 564.7 75.1 570.4 75.24 565.53 75.48 564.23 75.73 566.3 75.97 564.07 76.22 564.57 76.4 565.97 76.71 563.72 76.95 564.16 77.2 565.41 77.44 565.02 77.69 564.12 77.93 562.85 78.18 563.21 78.42 565.5 78.67 561.73 78.8 562.64 78.91 562.46 79.16 561.93 79.4 562.92 79.65 560.27 79.9 560.49 80.14 560.01 80.39 561.78 80.63 558.9 80.88 559.96 81.2 559.92 81.37 560.04 81.61 558.78 81.86 559.24 82.1 560.21 82.2 559.3 82.35 561.27 82.59 560.5 82.84 560.04 83.08 561.42 83.33 563.68 83.5 562.74 83.82 563.76 84.06 564.55 84.31 565.42 84.55 565.23 84.8 567.76 85.1 562.25 85.29 568.06 85.53 568.73 85.78 568.33 86.02 569.94 86.27 569.87 86.51 569.46 86.76 571.35 87 569.41 87.25 571.24 87.5 571.11 87.74 569.94 87.99 570.91 88.23 569.61 88.4 570.56 88.72 569.66 88.97 571.1 89.21 569.77 89.4 568.86 89.7 567.08 89.95 568.14 90.19 566.1 90.44 564.91 90.68 564.78 90.8 563.13 90.93 565.82 91.17 563.06 91.42 563.67 91.66 565 91.91 562.4 92 562.99 92.15 565.48 92.3 557.9 92.4 564.94 92.64 565.71 92.89 564.54 93.13 564.44 93.38 566.3 93.62 564.13 93.87 564.34 94 564.36 94.11 564.67 94.36 564.78 94.61 565.43 94.85 564.92 95.1 565.44 95.34 570.25 95.5 566.25 95.59 567.5 95.83 568.32 96.08 566.12 96.4 576.6 96.5 568.83 96.81 567.66 97.06 567.99 97.3 569.85 97.55 570.28 97.79 567.52 98 574.6 98.28 570.12 98.53 569.13 98.77 567.21 99.02 569.82 99.26 571.99 99.51 570.2 99.75 568.71 100 567.42 100.24 568.78 100.49 567.74 100.73 567.53 100.98 567.57 101.3 572.5 101.5 566.02 101.7 559.3 101.96 566.99 102.21 564.22 102.45 564.51 102.7 565.04 103 565.29 103.19 563.65 103.43 564.3 103.68 563.14 103.92 563.49 104.17 562.74 104.41 564.28 104.5 560.5 104.66 564.05 104.9 564.38 105.15 562.12 105.39 563.32 105.64 561.59 105.88 562.71 106.13 561.42 106.37 563.85 106.62 562.16 106.86 562.61 107 562.18 107.11 563.46 107.3 552.3 107.6 564.07 107.84 565.67 108.09 563.34 108.33 563.83 108.58 564.45 108.83 564.28 109 567.1 109.32 565.14 109.56 563.64 109.81 564.46 110.05 561 110.3 561.98 110.54 563.63 110.79 563.08 111 563.62 111.28 563.46 111.52 562.42 111.77 560.64 112.01 559.11 112.26 560.56 112.5 561.09 112.75 557.87 112.99 559.78 113.24 559.64 113.48 558.25 113.73 558.6 114 555.88 114.22 555.25 114.46 557 114.71 557.78 114.95 556.41 115.2 556.53 115.44 555.73 115.69 552.91 116 554.35 116.18 554.44 116.43 557.69 116.67 556.28 116.92 559.41 117.16 559.35 117.41 556.86 117.5 561.21 117.65 560.87 117.9 560.73 118.14 562.87 118.39 561.2 118.63 561.63 118.88 564.78 119 563.35 119.12 562.57 119.37 562.98 119.61 563.46 119.86 563.09 120.1 565.24 120.35 565.75 120.59 563.76 120.84 564.85 121 566.58 121.08 565.28 121.33 565.77 121.57 563.58 121.82 564.82 122.06 565 122.31 569.58 122.55 566.34 122.8 565.47 123 563.7 123.29 566.67 123.54 566.3 123.78 566.12 124.03 565.24 124.3 575 124.52 565.36 124.76 566.17 125 565.85 125.25 565.85 125.5 565.64 125.74 565.67 125.99 564.07 126.23 563.33 126.48 566.64 126.72 565.08 127 565.49 127.21 563.42 127.46 562.7 127.7 560.39 127.95 560.41 128.19 562.18 128.44 562.87 128.68 562.54 129 560.53 129.17 564.11 129.42 562.25 129.66 562.63 129.91 565.93 130.15 562.9 130.4 562.23 130.65 561.01 130.89 563.05 131 562.27 131.14 563.37 131.38 562.93 131.63 563.41 131.87 561.76 132.12 561.24 132.36 562.16 132.61 560.76 132.85 560.85 133 561.71 133.1 561.55 133.34 561.61 133.59 563.48 133.83 562.26 134.08 561.46 134.32 562.33 134.57 562.43 134.81 562.64 135 563.1 135.3 563.35 135.5 568.8 135.79 562.33 136 560.68 136.28 561.13 136.4 542.8 136.6 572.9 136.77 561.84 137.02 559.82 137.26 556.12 137.5 559.09 137.76 558.93 138 558.62 138.25 556.99 138.49 558.43 138.74 558.39 139 556.28 139.3 553.54 139.5 558 139.72 564.45 139.9 569.2 140.1 576.46 140.1 576.31 140.21 579.41 140.3 581.75 140.5 590.69 140.7 596.5 140.8 600.38 140.9 603.9 141.1 612.23 141.19 616.04 141.4 625.99 141.5 630.56 141.7 637.08 141.9 644.69 142 648.89 142.1 652.03 142.2 654.99 142.3 656.3 142.4 657.23 142.6 659.87 142.6 659.53 142.9 662.88 143 664.48 143.1 664.68 143.2 667.22 143.4 655.84 143.5 651.21 143.7 640.21 143.8 631.75 143.9 624.68 144.2 599.71 144.3 616.94 144.4 633.18 144.5 652.68 144.6 669.41 144.8 649.68 144.9 640.67 145 631.37 145.11 609.82 145.2 580.25 145.3 586.57 145.4 585.61 145.5 586.3 145.6 582.32 145.7 579.32 145.8 576.61 145.9 574.62 146 569.26 146.09 568.8 146.2 569.67 146.34 568.16 146.58 569.15 146.83 567.65 147 567.8 147.32 566.76 147.5 565.94 147.81 566.75 148 565.66 148.3 564.45 148.54 566.97 148.79 565.52 149 563.48 149.28 561.98 149.52 560.69 149.77 558.7 150 557.05 150.26 558.1 150.5 553.66 150.75 554.37 150.99 552.56 151.3 551.97 151.48 553.22 151.73 552.08 151.97 553.05 152.22 554.05 152.5 555.07 152.71 555.14 152.96 556.33 153.2 558.7 153.5 558.08 153.69 557.44 153.94 557.96 154.18 557.46 154.43 558.28 154.67 558.62 154.92 558.26 155 557.85 155.16 555.25 155.41 553.26 155.5 563 155.65 553.06 155.9 551.86 156.14 549.99 156.39 551.32 156.5 549.49 156.63 548.75 156.88 549.13 157.12 548.68 157.37 547.26 157.5 539.5 157.61 553.32 157.86 547.95 158.1 547.25 158.35 548.23 158.5 547.91 158.59 549.74 158.84 549 159.08 548.84 159.33 548.08 159.58 551.22 159.82 552.24 160 551.8 160.31 552.8 160.56 554.16 160.8 554.37 161.05 556.59 161.3 563 161.5 557.29 161.78 556.7 162.03 553.36 162.27 552.69 162.5 549.44 162.6 549.5 162.76 551.28 163.01 552.97 163.25 554.87 163.5 555.13 163.74 555.21 163.99 556.44 164.23 555.56 164.48 556.57 164.72 556.18 165 556.66 165.21 555.86 165.46 554.26 165.7 555.61 165.95 553.66 166.19 553.14 166.5 551.41 166.69 553.92 166.93 554.45 167.18 559.18 167.5 561.57 167.7 576.2 167.91 556.67 168.16 556.52 168.4 553.28 168.5 553 168.65 557.26 168.89 558.63 169.14 558.88 169.38 563.08 169.5 564.44 169.63 564.86 169.87 564.81 170.12 565.66 170.36 565.32 170.61 564.83 170.85 565.65 171 566.87 171.1 565.86 171.34 565.13 171.59 565.17 171.83 564.6 172.08 564.92 172.32 564.67 172.5 563.49 172.81 565.35 173 582 173.3 565.8 173.55 565.81 173.8 567.63 174 570.02 174.29 569.72 174.53 571.18 174.78 568.74 175.02 571.87 175.27 570.83 175.5 572.34 175.76 576.45 176 571.58 176.25 570.68 176.5 571.63 176.74 571.04 176.98 568.68 177.23 569.75 177.5 578.3 177.72 566.33 177.96 566.42 178.21 566.59 178.4 546.5 178.7 567.3 178.94 566.18 179.19 565.97 179.5 564.13 179.68 565.58 179.92 565.45 180.17 564.58 180.41 566.23 180.66 566.29 180.9 566.79 181 566.94 181.15 566.5 181.4 566.18 181.64 565.5 181.89 564.78 182.13 565.81 182.38 564.95 182.62 564.35 182.87 562.86 183.11 564.36 183.36 562.78 183.5 558.59 183.6 552.3 183.85 565.79 184.09 564.66 184.34 565.86 184.58 568.78 184.83 567.97 185 575.4 185.32 567.59 185.56 568.94 185.81 567.65 186.05 567.8 186.3 568.97 186.5 567.9 186.79 566.89 187.03 566.19 187.28 566.68 187.52 565.86 187.77 564.27 188 564.54 188.26 563.78 188.51 560.56 188.75 562.33 189 559.61 189.24 560.45 189.5 557.13 189.73 557.84 189.98 558.07 190.22 559.68 190.47 559.14 190.7 568 191 559.99 191.2 559.83 191.45 561.5 191.69 559.92 192 559.88 192.18 561.24 192.43 562.16 192.67 561.08 192.92 561.08 193.16 562.61 193.41 564.32 193.5 562.39 193.65 562.23 193.9 561.02 194.14 555.86 194.39 555.63 194.63 553.36 194.88 550.1 195 547.3 195.12 549.92 195.37 550.7 195.62 554.56 195.86 554.62 196 556.98 196.11 557.75 196.35 557.45 196.6 557.46 196.84 557.49 197.09 556.39 197.33 557.44 197.5 558.44 197.82 556.26 198.07 557.68 198.31 555.89 198.56 555.39 198.8 555.41 199 555.49 199.3 551.5 199.54 555.19 199.78 556.45 200 570.4 200.27 556.5 200.52 555.35 200.76 558.05 201 558.46 201.25 558.81 201.5 556.18 201.74 558.78 201.99 556.51 202.23 556.83 202.48 556.86 202.73 558.48 203 558.55 203.22 557.49 203.46 560.77 203.71 560.32 203.95 560.9 204.2 562.14 204.44 563.55 204.69 561.1 205 564.26 205.18 564.98 205.5 568 205.67 565.74 205.91 567.24 206.16 564.17 206.4 563.83 206.65 564.83 206.89 564.92 207 565.32 207.14 564.2 207.38 563.23 207.63 564.26 207.87 564.07 208.12 565.84 208.36 561.19 208.61 564.62 208.85 563.55 209 564.07 209.1 565.56 209.34 564.61 209.59 565.66 209.83 565.99 210.08 571.1 210.33 568.35 210.5 567.56 210.82 569.19 211.06 569 211.31 570.67 211.55 570.8 211.8 570.84 212 573.3 212.29 572.68 212.53 570.42 212.78 568.35 213.02 570.26 213.27 569.18 213.51 570.24 213.76 569.49 214 571.67 214.25 570.3 214.49 568.55 214.74 567.58 214.98 566.82 215.23 563.79 215.5 564.91 215.72 564.74 215.96 564.9 216.21 565.5 216.5 556.4 216.7 564.77 216.94 565.36 217.19 564.01 217.5 566.3 217.68 564.64 217.93 563.62 218.17 562.98 218.42 563.74 218.66 563.9 218.91 563.23 219 562.96 219.15 561.86 219.4 562.04 219.64 561.38 219.89 562.56 220.13 563.43 220.38 562.2 220.62 563.2 220.87 564.18 221 563.06 221.11 564.29 221.36 564.52 221.5 570.4 221.6 564.12 221.85 564.87 222.09 564.97 222.34 565.26 222.58 563.56 222.83 564.36 223 567.05 223.32 564.12 223.56 564.68 223.81 564.15 224.05 562.5 224.3 561.71 224.55 561.03 224.79 562.12 225.04 561.74 225.28 559.85 225.53 559.44 225.77 561.46 226 560.56 226.26 560.66 226.5 575 226.75 561.91 227 563.3 227.24 562.78 227.49 563.67 227.73 564.88 228 563.89 228.22 565.02 228.47 564.63 228.71 565.9 228.96 563.92 229.2 565.08 229.45 565.66 229.69 567 230 565.33 230.18 567.04 230.43 565.11 230.67 564.64 230.92 563.51 231.16 562.88 231.41 563.61 231.66 563.99 231.9 562.13 232 562.88 232.15 562.59 232.39 562.24 232.64 562.12 232.88 563.34 233.13 561.92 233.3 557.2 233.5 568.8 233.62 563.07 233.86 562.98 234.11 566.58 234.35 562.18 234.6 561.94 234.84 562.25 235 560.41 235.09 561.02 235.33 561.99 235.58 562.64 235.82 560.08 236.07 559.86 236.31 560.92 236.56 560.69 236.8 559.03 237 570.4 237.29 560.29 237.54 560.49 237.78 560.7 238.03 559.61 238.27 558.14 238.52 558.44 238.77 559.15 239 557.78 239.26 560.63 239.5 558.62 239.75 559.02 240 559.67 240.24 560.04 240.48 558.33 240.73 560.17 240.97 558.87 241.22 560.83 241.5 559.5 241.71 558.14 241.95 558.2 242.2 559.46 242.3 547 242.44 557.3 242.69 559.47 242.93 555.06 243.18 557.37 243.5 556.76 243.67 556.98 243.91 557.18 244.16 557.2 244.4 556.53 244.5 567.6 244.65 558.27 244.89 556.76 245.14 558.58 245.38 557.97 245.5 553.3 245.63 558.54 245.87 558.17 246.12 558.81 246.37 559.31 246.5 560.33 246.61 559.28 246.86 559.71 247.1 559.83 247.35 558.24 247.5 549.2 247.59 559.33 247.84 558.37 248.08 557.58 248.33 557.98 248.5 557.88 248.82 556.2 249.06 555.35 249.31 555.43 249.55 554.54 249.8 549.35 250 553.69 250.29 553.66 250.53 553.58 250.78 554.24 251.02 554.79 251.27 554.99 251.5 555.91 251.76 556.16 252 559.46 252.25 560.94 252.49 562.73 252.74 564.24 253 565.07 253.23 565.49 253.48 565.79 253.72 563.43 254 581.4 254.21 564.25 254.46 563.4 254.7 564.05 255 564.31 255.19 563.3 255.44 562.13 255.68 565.33 255.93 563.24 256.17 562.01 256.42 562.09 256.5 563.02 256.66 561.26 256.91 561.69 257.15 564.31 257.4 563.29 257.64 562.6 257.89 563.82 258 562.34 258.13 565.6 258.38 568.7 258.62 572.65 258.87 576.61 259 581.68 259.11 579.87 259.36 578.53 259.6 578.57 259.85 576.8 260 576.04 260.09 576.91 260.34 580.75 260.59 582.51 260.83 581.79 261 584.79 261.32 581.98 261.57 583.14 261.81 581.41 262 579.39 262.3 579.23 262.55 576.94 262.79 575.13 263 574.46 263.28 571.57 263.53 569.55 263.77 565.01 264 565.93 264.26 564.56 264.51 565.29 264.75 566.72 265 567.41 265.24 568.15 265.49 569.09 265.8 588.6 265.98 569.13 266.22 568.54 266.5 568.35 266.71 570.57 266.96 570.62 267.2 571.01 267.45 570.47 267.7 571 268 570.69 268.19 571.35 268.43 569.83 268.68 572.25 268.92 570.25 269.17 568.25 269.41 568.31 269.5 567.94 269.66 565.15 269.9 559.65 270.15 555.18 270.3 552.62 270.39 553.62 270.64 553.16 270.88 554.97 271.13 554.12 271.37 553.96 271.5 556.74 271.62 556.52 271.86 556.65 272.11 552.42 272.35 556.91 272.6 556.6 272.84 556.31 273 556.55 273.09 558.23 273.33 558.65 273.58 558.15 273.82 560.51 274 560.5 274.31 558.24 274.56 558.03 274.8 557.77 275 556.3 275.3 558.24 275.54 559.69 275.79 563.81 276 562.22 276.28 561.49 276.52 561.66 276.77 558.5 277.01 559.06 277.26 557.89 277.5 556.46 277.75 558.64 277.99 559.66 278.24 561.46 278.5 562.93 278.73 560.27 278.97 558.9 279.22 557.97 279.46 555.54 279.71 553.93 280 551.52 280.2 550.89 280.44 550.64 280.69 552.36 281 552.42 281.2 542.1 281.5 567.6 281.67 554.96 281.91 556.37 282.16 561.06 282.41 558.65 282.5 557.01 282.65 557.63 282.9 556.14 283.14 558.68 283.39 558.5 283.63 558.5 283.88 559.09 284 558.82 284.12 560.05 284.37 561.12 284.61 561.63 284.86 563.74 285.1 564.85 285.35 564.76 285.5 572.5 285.59 566.12 285.84 566.51 286.08 565.36 286.33 562.61 286.57 562.34 286.82 562.42 287 562.15 287.31 562.92 287.55 563.4 287.8 563.22 288.04 564.35 288.29 563.43 288.5 563.82 288.78 565.75 289.02 566.52 289.27 566.08 289.52 566.71 289.76 567.46 290 567.57 290.25 566.49 290.5 566.29 290.74 563.5 290.99 562.91 291.3 581.4 291.48 562.07 291.72 561.57 291.97 560.76 292.21 560.68 292.5 559.87 292.7 559.6 292.95 561.33 293.19 563.62 293.44 564.28 293.68 568.06 294 568.4 294.17 571.26 294.42 570.4 294.66 570.7 294.91 571.42 295.15 572.38 295.4 572.69 295.5 573.81 295.64 573.11 295.89 570.33 296.13 566.85 296.38 566.34 296.63 566.87 296.87 563.45 297 564.03 297.12 562.86 297.36 563.91 297.5 559.4 297.61 565.26 297.85 566.01 298.1 567.74 298.34 566.92 298.59 567.49 298.83 567.72 299 568.63 299.32 565.89 299.57 568.35 299.81 565.49 300.06 565.05 300.3 566.33 300.5 564.28 300.79 565.92 301.04 566.7 301.28 566.75 301.53 567.25 301.77 568.73 302 569.63 302.3 580 302.51 568.89 302.75 568.38 303 567.12 303.24 567.58 303.5 568.19 303.73 567.1 303.98 568.68 304.23 568.27 304.47 569.53 304.72 568 305 568.96 305.21 569.33 305.45 568.19 305.7 566.44 306 560.91 306.19 566.26 306.43 564.85 306.68 561.68 306.92 562.51 307.17 561.38 307.3 533 307.41 559.21 307.66 559.45 307.9 557.91 308.2 556.69 308.39 558.15 308.64 558.85 308.88 559.51 309.13 556.51 309.37 562.6 309.5 562.16 309.62 563.82 309.86 563.2 310.11 565.12 310.35 567.4 310.6 564.95 310.84 563.92 311 564.61 311.09 565.67 311.34 564.67 311.58 566.32 311.83 564.03 312.07 562.97 312.32 563.62 312.5 563.55 312.81 565.05 313.05 564.72 313.3 565.49 313.5 573.7 313.79 567.49 314.03 566.01 314.28 565.37 314.52 565.73 314.77 567.68 315 568.81 315.26 567.68 315.5 568.92 315.75 566.21 315.99 567.37 316.24 567.85 316.5 567.04 316.73 565.55 316.97 567.5 317.22 569.64 317.46 567.71 317.71 567.6 318 568.26 318.2 568.33" stroke="#2ca02c" stroke-width="0.8" stroke-opacity="1" fill="none" stroke-linejoin="round" clip-path="url(#clipe)"/>
<path d="M22.1 505.4V688.5M332.3 505.4V688.5" stroke="#000" stroke-opacity="0.26" stroke-width="1.3" fill="none"/>
<path d="M21.7 505.4H332.7M21.7 688.5H332.7" stroke="#000" stroke-opacity="0.26" stroke-width="1.3" fill="none"/>
<path d="M33.6 688.5v1.4M64.79 688.5v1.4M95.46 688.5v1.4M126.65 688.5v1.4M157.5 688.5v1.4M188.68 688.5v1.4M219.36 688.5v1.4M250.55 688.5v1.4M281.22 688.5v1.4M312.41 688.5v1.4M22.3 563.3h-1.4M22.3 578.2h-1.4M22.3 668.5h-1.4" stroke="#000" stroke-opacity="0.5" stroke-width="0.5" fill="none"/>
<text x="33.6" y="694.9" font-size="5.5" text-anchor="middle" textLength="20" lengthAdjust="spacingAndGlyphs">2018-07</text>
<text x="64.79" y="694.9" font-size="5.5" text-anchor="middle" textLength="20" lengthAdjust="spacingAndGlyphs">2019-01</text>
<text x="95.46" y="694.9" font-size="5.5" text-anchor="middle" textLength="20" lengthAdjust="spacingAndGlyphs">2019-07</text>
<text x="126.65" y="694.9" font-size="5.5" text-anchor="middle" textLength="20" lengthAdjust="spacingAndGlyphs">2020-01</text>
<text x="157.5" y="694.9" font-size="5.5" text-anchor="middle" textLength="20" lengthAdjust="spacingAndGlyphs">2020-07</text>
<text x="188.68" y="694.9" font-size="5.5" text-anchor="middle" textLength="20" lengthAdjust="spacingAndGlyphs">2021-01</text>
<text x="219.36" y="694.9" font-size="5.5" text-anchor="middle" textLength="20" lengthAdjust="spacingAndGlyphs">2021-07</text>
<text x="250.55" y="694.9" font-size="5.5" text-anchor="middle" textLength="20" lengthAdjust="spacingAndGlyphs">2022-01</text>
<text x="281.22" y="694.9" font-size="5.5" text-anchor="middle" textLength="20" lengthAdjust="spacingAndGlyphs">2022-07</text>
<text x="312.41" y="694.9" font-size="5.5" text-anchor="middle" textLength="20" lengthAdjust="spacingAndGlyphs">2023-01</text>
<text x="19.5" y="565.3" font-size="5.5" text-anchor="end">0</text>
<text x="18.1" y="580.2" font-size="5.5" text-anchor="end">−10</text>
<text x="18.2" y="578.1" font-size="3.6">1</text>
<text x="18.1" y="670.5" font-size="5.5" text-anchor="end">−10</text>
<text x="18.2" y="668.4" font-size="3.6">2</text>
<text x="177.3" y="701.4" font-size="5.8" text-anchor="middle" textLength="13" lengthAdjust="spacingAndGlyphs">Date</text>
<text transform="translate(5 596.95) rotate(-90)" font-size="5.6" text-anchor="middle" textLength="11.6" lengthAdjust="spacingAndGlyphs">USD</text>
<text x="128.8" y="503.3" font-size="7.6" textLength="48.4" lengthAdjust="spacingAndGlyphs">Tracking error</text>
<text x="179.7" y="503.3" font-size="7.6" font-style="italic" textLength="6" lengthAdjust="spacingAndGlyphs">Z</text>
<text x="185.6" y="504.6" font-size="5.2" font-style="italic">t</text>
<text x="190.7" y="503.3" font-size="7.6">(</text>
<text x="192.7" y="503.3" font-size="7.6" font-style="italic" textLength="7" lengthAdjust="spacingAndGlyphs">m</text>
<text x="199.7" y="504.6" font-size="5.2">0</text>
<text x="203.7" y="503.1" font-size="7.6" textLength="5.6" lengthAdjust="spacingAndGlyphs">=</text>
<text x="210.9" y="503.3" font-size="7.6" textLength="12" lengthAdjust="spacingAndGlyphs">1.2</text>
<text x="223.1" y="503.3" font-size="7.6">)</text>
<rect x="24.6" y="656.8" width="71" height="29.3" rx="1" fill="#fff" fill-opacity="0.8" stroke="#d0d0d0" stroke-opacity="0.8" stroke-width="0.5"/>
<text x="60.1" y="661.6" font-size="4" text-anchor="middle" textLength="35.5" lengthAdjust="spacingAndGlyphs">Hedging method</text>
<path d="M26.2 666.7h10.5" stroke="#1f77b4" stroke-opacity="0.55" stroke-width="1"/>
<text x="40.6" y="668.4" font-size="4.8" textLength="12.8" lengthAdjust="spacingAndGlyphs">Delta</text>
<path d="M26.2 673.95h10.5" stroke="#ff7f0e" stroke-opacity="0.55" stroke-width="1"/>
<text x="40.6" y="675.65" font-size="4.8" textLength="25.5" lengthAdjust="spacingAndGlyphs">Delta-vega</text>
<path d="M26.2 681.2h10.5" stroke="#2ca02c" stroke-opacity="0.55" stroke-width="1"/>
<text x="40.6" y="682.9" font-size="4.8" textLength="53" lengthAdjust="spacingAndGlyphs">Data-driven (VolGAN)</text>
<g font-family="'Liberation Serif', serif" fill-opacity="0.8">
<text x="126.4" y="724.1" font-size="14">(</text>
<text x="138" y="724.1" font-size="14">)</text>
<text x="134.85" y="723.2" font-size="12.6" text-anchor="middle">e</text>
<text x="147.7" y="723.2" font-size="12.6" font-style="italic" textLength="10.8" lengthAdjust="spacingAndGlyphs">m</text>
<text x="159.5" y="725.5" font-size="8.8">0</text>
<text x="169.1" y="723.2" font-size="12.6" textLength="9.6" lengthAdjust="spacingAndGlyphs">=</text>
<text x="182.5" y="723.2" font-size="12.8" textLength="23.6" lengthAdjust="spacingAndGlyphs">1.20</text>
</g>
<clipPath id="clipf"><rect x="374.4" y="505.4" width="310" height="183.1"/></clipPath>
<path d="M385.7 505.4V688.5M416.89 505.4V688.5M447.56 505.4V688.5M478.75 505.4V688.5M509.6 505.4V688.5M540.78 505.4V688.5M571.46 505.4V688.5M602.65 505.4V688.5M633.32 505.4V688.5M664.51 505.4V688.5M374.4 567.4H684.4M374.4 583.9H684.4M374.4 688.1H684.4" stroke="#b0b0b0" stroke-opacity="0.45" stroke-width="0.9" fill="none"/>
<path d="M491.4 564.86 491.6 589.25 491.82 609.51 492 625.88 492.2 646.07 492.2 645.9 492.31 655.56 492.4 663.58 492.6 654.35 492.8 641.83 492.9 636.27 493 629.56 493.2 635.29 493.29 637.97 493.5 645.31 493.6 642.06 493.8 634.21 494 627.61 494.1 624.74 494.2 620.69 494.3 623.74 494.4 627.73 494.5 631.28 494.7 639.29 494.7 638.9 495 650.2 495.1 645.78 495.2 639.75 495.3 636.39 495.5 625.27 495.6 620.92 495.8 610.23 495.9 608.29 496 607.91 496.3 602.53 496.4 601.36 496.5 599.07 496.6 599.64 496.7 597.07 496.9 591.11 497 589.12 497.1 586.78 497.21 585.47 497.3 570.7 497.4 577.64 497.5 576.3 497.6 576.82 497.7 575.34 497.8 574.95 497.9 574.9 498 575.68 498.1 572.61" stroke="#1f77b4" stroke-width="0.8" stroke-opacity="1" fill="none" stroke-linejoin="round" clip-path="url(#clipf)"/>
<path d="M491.4 564.86 491.6 576.56 491.82 583.08 492 587.79 492.2 595.29 492.2 595.12 492.31 595.05 492.4 594.58 492.6 598.02 492.8 597.98 492.9 598.93 493 598.56 493.2 599.29 493.29 597.16 493.5 592.81 493.6 590.64 493.8 614.92 494 640.46 494.1 631.17 494.2 620.69 494.3 609.99 494.4 615.23 494.5 620.03 494.7 630.54 494.7 630.15 495 612.2 495.1 606.78 495.2 599.75 495.3 616.39 495.5 645.27 495.6 660.92 495.8 665.95 495.9 668.28 496 672.19 496.3 679.66 496.4 682.78 496.5 684.77 496.6 680 496.7 672.08 496.9 655.44 497 648.1 497.1 640.42 497.21 630.59 497.3 608.88 497.4 608.1 497.5 599.03 497.6 596.82 497.7 590.72 497.8 585.75 497.9 581.1 498 577.28 498.1 572.61" stroke="#ff7f0e" stroke-width="0.8" stroke-opacity="1" fill="none" stroke-linejoin="round" clip-path="url(#clipf)"/>
<path d="M388.1 567.3 388.6 564.72 388.85 563.22 389.09 564 389.34 562.93 389.6 562.17 389.83 561.35 390.07 562.69 390.32 563.18 390.56 562.05 390.81 562.83 391.05 564.38 391.3 563.1 391.54 563.98 391.79 563.51 392.1 564.13 392.28 566.72 392.52 566.28 392.77 565.63 393.01 565.76 393.26 566.16 393.5 565.57 393.75 569.79 393.99 565.79 394.1 564.71 394.24 566.9 394.48 567.05 394.73 566.53 394.97 568.25 395.22 566.21 395.46 568.8 395.71 566.61 395.96 566.71 396.2 569.64 396.45 569.43 396.6 568.91 396.69 567.94 396.94 567.47 397.18 566.75 397.43 570.04 397.67 568.31 397.92 567.29 398.1 565.19 398.41 563.09 398.65 564.39 398.9 562.44 399.14 562.17 399.39 562.25 399.6 559.22 399.88 561.37 400.12 562.57 400.37 563.6 400.61 561.42 400.86 561.37 401.1 561.03 401.35 564.21 401.59 563.95 401.84 563.36 402.08 563.58 402.33 564.28 402.6 565.21 402.82 567.02 403.07 565.66 403.31 565.45 403.56 566.29 403.8 565.55 404.1 566.59 404.2 569.91 404.29 565.26 404.54 563.72 404.78 563.93 405.03 561.16 405.27 558.56 405.4 545.74 405.52 555.36 405.76 552.3 406.01 557.77 406.1 556.84 406.25 556.45 406.5 556.06 406.74 558.87 406.99 555.45 407.23 557.86 407.48 558.26 407.8 557.53 407.97 558.68 408.21 561.19 408.46 560.21 408.7 561.05 408.95 560.7 409.2 570.93 409.44 560.2 409.68 563.1 409.93 561.77 410.17 561.06 410.42 560.28 410.7 559.92 410.91 560.81 411.16 562.84 411.4 562.82 411.65 562.37 411.89 564.7 412.1 566.28 412.38 565.93 412.63 567.8 412.87 575.95 413.12 564.62 413.36 567 413.6 569.14 413.85 568.31 414.1 573.39 414.34 569.2 414.59 567.81 414.83 571.08 415 565.12 415.32 548.2 415.5 537.03 415.81 531.61 416.06 525.58 416.3 520.45 416.4 518.89 416.55 526.82 416.79 544.03 416.9 549.58 417.04 551.05 417.28 548.09 417.6 558.39 417.78 550 418.02 549.03 418.27 548.44 418.51 549.68 418.6 549.95 418.76 549.29 419 550.14 419.25 549.23 419.49 545.9 419.74 548.12 419.98 547.65 420.3 546.39 420.47 552 420.72 562.64 420.8 567.29 420.96 565.6 421.21 566.29 421.45 566.94 421.6 579.26 421.7 566.9 421.94 570.03 422.2 571.44 422.43 570.81 422.68 569.11 422.92 568.7 423.17 570.43 423.41 570.26 423.66 570.69 423.9 571.04 424.2 570.64 424.39 571.29 424.64 572.19 424.89 571.39 425.13 571.47 425.38 569.64 425.62 571.77 425.87 569.57 426.11 568.59 426.36 569.75 426.6 570.13 426.8 562.73 427 569.78 427.09 568.88 427.2 575.38 427.34 569.83 427.58 568.35 427.83 570.71 428.07 568.16 428.32 568.73 428.5 570.32 428.81 567.76 429.05 568.26 429.3 569.69 429.54 569.25 429.79 568.22 430.03 566.78 430.28 567.18 430.52 569.79 430.77 565.49 430.9 566.54 431.01 566.33 431.26 565.73 431.5 566.86 431.75 563.83 432 564.08 432.24 563.54 432.49 565.56 432.73 562.26 432.98 563.48 433.3 563.44 433.47 563.57 433.71 562.14 433.96 562.66 434.2 563.76 434.3 562.72 434.45 564.97 434.69 564.09 434.94 563.56 435.18 565.15 435.43 567.72 435.6 566.65 435.92 567.81 436.16 568.71 436.41 569.7 436.65 569.48 436.9 572.37 437.2 566.09 437.39 572.71 437.63 573.47 437.88 573.02 438.12 574.85 438.37 574.78 438.61 574.31 438.86 576.46 439.1 574.25 439.35 576.34 439.6 576.19 439.84 574.85 440.09 575.96 440.33 574.47 440.5 575.57 440.82 574.54 441.07 576.18 441.31 574.67 441.5 573.62 441.8 571.6 442.05 572.8 442.29 570.48 442.54 569.12 442.78 568.98 442.9 567.09 443.03 570.16 443.27 567.01 443.52 567.71 443.76 569.23 444.01 566.26 444.1 566.93 444.25 569.77 444.4 561.13 444.5 569.16 444.74 570.03 444.99 568.7 445.23 568.59 445.48 570.71 445.72 568.23 445.97 568.47 446.1 568.49 446.21 568.85 446.46 568.97 446.71 569.71 446.95 569.13 447.2 569.72 447.44 575.21 447.6 570.65 447.69 572.07 447.93 573.01 448.18 570.5 448.5 582.45 448.6 573.59 448.91 572.25 449.16 572.63 449.4 574.75 449.65 575.25 449.89 572.1 450.1 580.17 450.38 575.06 450.63 573.93 450.87 571.75 451.12 574.72 451.36 577.19 451.61 575.15 451.85 573.45 452.1 571.99 452.34 573.54 452.59 572.35 452.83 572.11 453.08 572.16 453.4 577.77 453.6 570.39 453.8 562.73 454.06 571.49 454.31 568.34 454.55 568.66 454.8 569.27 455.1 569.56 455.29 567.69 455.53 568.43 455.78 567.11 456.02 567.51 456.27 566.64 456.51 568.41 456.6 564.09 456.76 568.15 457 568.52 457.25 565.94 457.49 567.31 457.74 565.34 457.98 566.62 458.23 565.15 458.47 567.92 458.72 565.98 458.96 566.5 459.1 566.01 459.21 567.47 459.4 554.75 459.7 568.17 459.94 569.98 460.19 567.33 460.43 567.88 460.68 568.6 460.93 568.4 461.1 571.62 461.42 569.38 461.66 567.67 461.91 568.61 462.15 564.66 462.4 565.79 462.64 567.67 462.89 567.03 463.1 567.65 463.38 567.47 463.62 566.28 463.87 564.25 464.11 562.51 464.36 564.16 464.6 564.76 464.85 561.09 465.09 563.28 465.34 563.11 465.58 561.53 465.83 561.92 466.1 558.83 466.32 558.11 466.56 560.1 466.81 561 467.05 559.43 467.3 559.57 467.54 558.66 467.79 555.44 468.1 557.08 468.28 557.18 468.53 560.89 468.77 559.28 469.02 562.85 469.26 562.78 469.51 559.95 469.6 564.91 469.75 564.51 470 564.35 470.24 566.8 470.49 564.89 470.73 565.39 470.98 568.98 471.1 567.34 471.22 566.46 471.47 566.92 471.71 567.47 471.96 567.05 472.2 569.5 472.45 570.08 472.69 567.81 472.94 569.05 473.1 571.03 473.18 569.54 473.43 570.1 473.67 567.61 473.92 569.02 474.16 569.22 474.41 574.45 474.65 570.76 474.9 569.76 475.1 567.74 475.39 571.12 475.64 570.71 475.88 570.5 476.13 569.49 476.4 580.62 476.62 569.63 476.86 570.56 477.1 570.19 477.35 570.19 477.6 569.96 477.84 569.98 478.09 568.17 478.33 567.32 478.58 571.09 478.82 569.31 479.1 569.78 479.31 567.43 479.56 566.6 479.8 563.97 480.05 563.99 480.29 566.01 480.54 566.79 480.78 566.42 481.1 564.12 481.27 568.21 481.52 566.09 481.76 566.52 482.01 570.28 482.25 566.83 482.5 566.07 482.75 564.68 482.99 567.01 483.1 566.11 483.24 567.37 483.48 566.86 483.73 567.41 483.97 565.53 484.22 564.94 484.46 565.99 484.71 564.4 484.95 564.5 485.1 565.47 485.2 565.29 485.44 565.36 485.69 567.5 485.93 566.1 486.18 565.18 486.42 566.18 486.67 566.29 486.91 566.54 487.1 567.06 487.4 567.34 487.6 573.56 487.89 566.18 488.1 564.29 488.38 564.81 488.5 543.92 488.7 578.23 488.87 565.63 489.12 563.32 489.36 559.1 489.6 562.48 489.86 562.3 490.1 561.95 490.35 560.1 490.59 561.74 490.84 561.69 491.1 559.28 491.4 564.86 491.6 597.6 491.82 626.89 492 650.92 492.2 634.69 492.2 634.52 492.31 624.73 492.4 615.78 492.6 601.02 492.8 613.14 492.9 620.43 493 626.23 493.2 639.29 493.29 634.98 493.5 625.31 493.6 620.64 493.8 609.92 494 625.46 494.1 633.67 494.2 640.69 494.3 647.49 494.4 655.23 494.5 652.53 494.7 648.04 494.7 647.65 495 640.2 495.1 644.74 495.2 647.67 495.3 653.27 495.5 660.07 495.6 654.76 495.8 642.15 495.9 635.68 496 630.77 496.3 606.69 496.4 599.29 496.5 590.77 496.6 592.27 496.7 590.63 496.9 586.54 497 585.48 497.1 583.42 497.21 582.4 497.3 567.88 497.4 575.1 497.5 574.03 497.6 574.82 497.7 573.75 497.8 573.75 497.9 574.1 498 575.28 498.1 572.61 498.19 573.56 498.3 574.55 498.44 572.82 498.68 573.96 498.93 572.25 499.1 572.41 499.42 571.23 499.6 570.29 499.91 571.22 500.1 569.98 500.4 568.6 500.64 571.47 500.89 569.81 501.1 567.49 501.38 565.78 501.62 564.31 501.87 562.05 502.1 560.16 502.36 561.36 502.6 556.29 502.85 557.11 503.09 555.04 503.4 554.37 503.58 555.79 503.83 554.5 504.07 555.6 504.32 556.74 504.6 557.9 504.81 557.98 505.06 559.33 505.3 562.04 505.6 561.34 505.79 560.6 506.04 561.2 506.28 560.63 506.53 561.56 506.77 561.95 507.02 561.54 507.1 561.08 507.26 558.11 507.51 555.84 507.6 566.94 507.75 555.62 508 554.24 508.24 552.11 508.49 553.63 508.6 551.55 508.73 550.7 508.98 551.13 509.22 550.61 509.47 549 509.6 540.15 509.71 555.91 509.96 549.79 510.2 548.99 510.45 550.1 510.6 549.74 510.69 551.83 510.94 550.99 511.18 550.81 511.43 549.94 511.68 553.52 511.92 554.68 512.1 554.18 512.41 555.32 512.66 556.86 512.9 557.11 513.15 559.64 513.4 566.94 513.6 560.43 513.88 559.76 514.13 555.96 514.37 555.19 514.6 551.48 514.7 551.55 514.86 553.59 515.11 555.51 515.35 557.68 515.6 557.97 515.84 558.06 516.09 559.46 516.33 558.46 516.58 559.62 516.82 559.17 517.1 559.71 517.31 558.81 517.56 556.99 517.8 558.52 518.05 556.3 518.29 555.71 518.6 553.74 518.79 556.6 519.03 557.19 519.28 562.59 519.6 565.32 519.8 581.99 520.01 559.73 520.26 559.56 520.5 555.86 520.6 555.54 520.75 560.4 520.99 561.96 521.24 562.25 521.48 567.03 521.6 568.59 521.73 569.07 521.97 569.01 522.22 569.97 522.46 569.58 522.71 569.03 522.95 569.97 523.1 571.36 523.2 570.2 523.44 569.37 523.69 569.41 523.93 568.77 524.18 569.14 524.42 568.84 524.6 567.5 524.91 569.62 525.1 588.6 525.4 570.14 525.65 570.15 525.9 572.22 526.1 574.95 526.39 574.61 526.63 576.27 526.88 573.49 527.12 577.06 527.37 575.87 527.6 577.59 527.86 582.28 528.1 576.73 528.35 575.7 528.6 576.78 528.84 576.1 529.08 573.42 529.33 574.63 529.6 584.39 529.82 570.74 530.06 570.85 530.31 571.04 530.5 548.13 530.8 571.85 531.04 570.57 531.29 570.33 531.6 568.24 531.78 569.88 532.02 569.74 532.27 568.75 532.51 570.63 532.76 570.69 533 571.26 533.1 571.44 533.25 570.93 533.5 570.57 533.74 569.8 533.99 568.97 534.23 570.15 534.48 569.17 534.72 568.48 534.97 566.79 535.21 568.49 535.46 566.69 535.6 561.91 535.7 554.75 535.95 570.13 536.19 568.84 536.44 570.2 536.68 573.53 536.93 572.61 537.1 581.08 537.42 572.17 537.66 573.72 537.91 572.25 538.15 572.42 538.4 573.75 538.6 572.53 538.89 571.38 539.13 570.58 539.38 571.14 539.62 570.2 539.87 568.39 540.1 568.7 540.36 567.83 540.61 564.16 540.85 566.18 541.1 563.07 541.34 564.04 541.6 560.25 541.83 561.06 542.08 561.32 542.32 563.16 542.57 562.54 542.8 572.64 543.1 563.51 543.3 563.33 543.55 565.23 543.79 563.43 544.1 563.39 544.28 564.93 544.53 565.99 544.77 564.76 545.02 564.76 545.26 566.5 545.51 568.45 545.6 566.25 545.75 566.06 546 564.69 546.24 558.8 546.49 558.54 546.73 555.96 546.98 552.23 547.1 549.05 547.22 552.03 547.47 552.93 547.72 557.32 547.96 557.39 548.1 560.08 548.21 560.96 548.45 560.62 548.7 560.63 548.94 560.67 549.19 559.41 549.43 560.6 549.6 561.75 549.92 559.26 550.17 560.87 550.41 558.84 550.66 558.27 550.9 558.29 551.1 558.39 551.4 553.83 551.64 558.04 551.88 559.48 552.1 575.38 552.37 559.54 552.62 558.22 552.86 561.3 553.1 561.77 553.35 562.17 553.6 559.17 553.84 562.13 554.09 559.55 554.33 559.91 554.58 559.95 554.83 561.79 555.1 561.88 555.32 560.66 555.56 564.4 555.81 563.89 556.05 564.56 556.3 565.97 556.54 567.57 556.79 564.78 557.1 568.38 557.28 569.2 557.6 572.64 557.77 570.07 558.01 571.78 558.26 568.28 558.5 567.89 558.75 569.03 558.99 569.13 559.1 569.59 559.24 568.31 559.48 567.21 559.73 568.38 559.97 568.16 560.22 570.18 560.46 564.89 560.71 568.8 560.95 567.57 561.1 568.16 561.2 569.86 561.44 568.78 561.69 569.97 561.93 570.35 562.18 576.18 562.43 573.04 562.6 572.15 562.92 574 563.16 573.78 563.41 575.68 563.65 575.84 563.9 575.88 564.1 578.69 564.39 577.97 564.63 575.4 564.88 573.05 565.12 575.22 565.37 573.99 565.61 575.2 565.86 574.34 566.1 576.83 566.35 575.27 566.59 573.28 566.84 572.17 567.08 571.3 567.33 567.84 567.6 569.12 567.82 568.93 568.06 569.11 568.31 569.79 568.6 559.42 568.8 568.96 569.04 569.64 569.29 568.09 569.6 570.71 569.78 568.81 570.03 567.65 570.27 566.92 570.52 567.78 570.76 567.97 571.01 567.2 571.1 566.89 571.25 565.64 571.5 565.85 571.74 565.09 571.99 566.45 572.23 567.43 572.48 566.03 572.72 567.17 572.97 568.29 573.1 567.01 573.21 568.41 573.46 568.68 573.6 575.38 573.7 568.22 573.95 569.08 574.19 569.19 574.44 569.52 574.68 567.58 574.93 568.49 575.1 571.56 575.42 568.22 575.66 568.85 575.91 568.26 576.15 566.37 576.4 565.48 576.65 564.7 576.89 565.94 577.14 565.51 577.38 563.35 577.63 562.89 577.87 565.19 578.1 564.16 578.36 564.28 578.6 580.62 578.85 565.7 579.1 567.29 579.34 566.7 579.59 567.71 579.83 569.09 580.1 567.95 580.32 569.24 580.57 568.81 580.81 570.25 581.06 567.99 581.3 569.32 581.55 569.97 581.79 571.5 582.1 569.61 582.28 571.56 582.53 569.35 582.77 568.81 583.02 567.52 583.26 566.81 583.51 567.64 583.76 568.07 584 565.95 584.1 566.8 584.25 566.48 584.49 566.08 584.74 565.94 584.98 567.33 585.23 565.71 585.4 560.33 585.6 573.56 585.72 567.02 585.96 566.92 586.21 571.02 586.45 566.01 586.7 565.74 586.94 566.09 587.1 563.99 587.19 564.68 587.43 565.79 587.68 566.53 587.92 563.62 588.17 563.37 588.41 564.57 588.66 564.32 588.9 562.42 589.1 575.38 589.39 563.85 589.64 564.08 589.88 564.32 590.13 563.07 590.37 561.41 590.62 561.75 590.87 562.55 591.1 560.99 591.36 564.24 591.6 561.95 591.85 562.41 592.1 563.15 592.34 563.57 592.58 561.62 592.83 563.71 593.07 562.24 593.32 564.47 593.6 562.95 593.81 561.41 594.05 561.47 594.3 562.91 594.4 548.7 594.54 560.44 594.79 562.92 595.03 557.89 595.28 560.52 595.6 559.83 595.77 560.08 596.01 560.31 596.26 560.34 596.5 559.56 596.6 572.19 596.75 561.55 596.99 559.84 597.24 561.9 597.48 561.21 597.6 555.89 597.73 561.86 597.97 561.43 598.22 562.16 598.47 562.74 598.6 563.9 598.71 562.7 598.96 563.19 599.2 563.33 599.45 561.52 599.6 551.21 599.69 562.76 599.94 561.66 600.18 560.76 600.43 561.23 600.6 561.11 600.92 559.19 601.16 558.22 601.41 558.31 601.65 557.31 601.9 551.38 602.1 556.33 602.39 556.3 602.63 556.2 602.88 556.96 603.12 557.58 603.37 557.82 603.6 558.87 603.86 559.14 604.1 562.91 604.35 564.59 604.59 566.64 604.84 568.36 605.1 569.3 605.33 569.78 605.58 570.13 605.82 567.43 606.1 587.92 606.31 568.37 606.56 567.4 606.8 568.14 607.1 568.44 607.29 567.29 607.54 565.96 607.78 569.6 608.03 567.21 608.27 565.82 608.52 565.9 608.6 566.96 608.76 564.96 609.01 565.45 609.25 568.44 609.5 567.27 609.74 566.49 609.99 567.88 610.1 566.19 610.23 569.91 610.48 573.44 610.72 577.94 610.97 582.46 611.1 588.24 611.21 586.17 611.46 584.65 611.7 584.69 611.95 582.67 612.1 581.81 612.19 582.8 612.44 587.17 612.69 589.18 612.93 588.37 613.1 591.79 613.42 588.58 613.67 589.91 613.91 587.93 614.1 585.63 614.4 585.45 614.65 582.84 614.89 580.78 615.1 580 615.38 576.71 615.63 574.41 615.87 569.24 616.1 570.28 616.36 568.72 616.61 569.56 616.85 571.18 617.1 571.97 617.34 572.82 617.59 573.89 617.9 596.13 618.08 573.93 618.32 573.25 618.6 573.05 618.81 575.58 619.06 575.63 619.3 576.08 619.55 575.46 619.8 576.07 620.1 575.71 620.29 576.47 620.53 574.72 620.78 577.49 621.02 575.21 621.27 572.93 621.51 573 621.6 572.58 621.76 569.4 622 563.12 622.25 558.03 622.4 555.11 622.49 556.25 622.74 555.72 622.98 557.79 623.23 556.82 623.47 556.63 623.6 559.8 623.72 559.56 623.96 559.71 624.21 554.89 624.45 560 624.7 559.65 624.94 559.31 625.1 559.6 625.19 561.5 625.43 561.98 625.68 561.42 625.92 564.1 626.1 564.09 626.41 561.52 626.66 561.28 626.9 560.98 627.1 559.3 627.4 561.52 627.64 563.17 627.89 567.87 628.1 566.06 628.38 565.23 628.62 565.41 628.87 561.81 629.11 562.46 629.36 561.12 629.6 559.49 629.85 561.98 630.09 563.13 630.34 565.19 630.6 566.87 630.83 563.84 631.07 562.27 631.32 561.21 631.56 558.44 631.81 556.61 632.1 553.86 632.3 553.14 632.54 552.85 632.79 554.81 633.1 554.88 633.3 543.12 633.6 572.19 633.77 557.78 634.01 559.39 634.26 564.73 634.51 561.99 634.6 560.11 634.75 560.82 635 559.12 635.24 562.02 635.49 561.81 635.73 561.81 635.98 562.49 636.1 562.18 636.22 563.58 636.47 564.81 636.71 565.39 636.96 567.78 637.2 569.05 637.45 568.95 637.6 577.77 637.69 570.5 637.94 570.95 638.18 569.63 638.43 566.5 638.67 566.19 638.92 566.28 639.1 565.98 639.41 566.86 639.65 567.4 639.9 567.19 640.14 568.48 640.39 567.43 640.6 567.88 640.88 570.07 641.12 570.96 641.37 570.45 641.62 571.17 641.86 572.03 642.1 572.15 642.35 570.93 642.6 570.7 642.84 567.52 643.09 566.84 643.4 587.92 643.58 565.89 643.82 565.31 644.07 564.39 644.31 564.3 644.6 563.38 644.8 563.07 645.05 565.04 645.29 567.66 645.54 568.4 645.78 572.71 646.1 573.1 646.27 576.36 646.52 575.37 646.76 575.72 647.01 576.55 647.25 577.64 647.5 577.99 647.6 579.27 647.74 578.46 647.99 575.31 648.23 571.33 648.48 570.75 648.73 571.36 648.97 567.46 649.1 568.12 649.22 566.78 649.46 567.99 649.6 562.84 649.71 569.52 649.95 570.38 650.2 572.35 650.44 571.42 650.69 572.07 650.93 572.32 651.1 573.36 651.42 570.24 651.67 573.04 651.91 569.79 652.16 569.28 652.4 570.74 652.6 568.4 652.89 570.28 653.14 571.16 653.38 571.22 653.63 571.79 653.87 573.47 654.1 574.51 654.4 586.32 654.61 573.66 654.85 573.08 655.1 571.65 655.34 572.17 655.6 572.86 655.83 571.61 656.08 573.42 656.33 572.95 656.57 574.38 656.82 572.65 657.1 573.73 657.31 574.16 657.55 572.86 657.8 570.87 658.1 564.56 658.29 570.66 658.53 569.06 658.78 565.44 659.02 566.38 659.27 565.1 659.4 532.74 659.51 562.62 659.76 562.9 660 561.14 660.3 559.75 660.49 561.41 660.74 562.22 660.98 562.97 661.23 559.55 661.47 566.49 661.6 565.98 661.72 567.88 661.96 567.17 662.21 569.36 662.45 571.96 662.7 569.16 662.94 567.99 663.1 568.78 663.19 569.98 663.44 568.85 663.68 570.73 663.93 568.12 664.17 566.91 664.42 567.65 664.6 567.58 664.91 569.28 665.15 568.9 665.4 569.78 665.6 579.14 665.89 572.06 666.13 570.38 666.38 569.65 666.62 570.05 666.87 572.28 667.1 573.57 667.36 572.28 667.6 573.69 667.85 570.61 668.09 571.92 668.34 572.48 668.6 571.55 668.83 569.85 669.07 572.07 669.32 574.52 669.56 572.31 669.81 572.19 670.1 572.94 670.3 573.02" stroke="#2ca02c" stroke-width="0.8" stroke-opacity="1" fill="none" stroke-linejoin="round" clip-path="url(#clipf)"/>
<path d="M374.2 505.4V688.5M684.4 505.4V688.5" stroke="#000" stroke-opacity="0.26" stroke-width="1.3" fill="none"/>
<path d="M373.8 505.4H684.8M373.8 688.5H684.8" stroke="#000" stroke-opacity="0.26" stroke-width="1.3" fill="none"/>
<path d="M385.7 688.5v1.4M416.89 688.5v1.4M447.56 688.5v1.4M478.75 688.5v1.4M509.6 688.5v1.4M540.78 688.5v1.4M571.46 688.5v1.4M602.65 688.5v1.4M633.32 688.5v1.4M664.51 688.5v1.4M374.4 567.4h-1.4M374.4 583.9h-1.4M374.4 688.1h-1.4" stroke="#000" stroke-opacity="0.5" stroke-width="0.5" fill="none"/>
<text x="385.7" y="694.9" font-size="5.5" text-anchor="middle" textLength="20" lengthAdjust="spacingAndGlyphs">2018-07</text>
<text x="416.89" y="694.9" font-size="5.5" text-anchor="middle" textLength="20" lengthAdjust="spacingAndGlyphs">2019-01</text>
<text x="447.56" y="694.9" font-size="5.5" text-anchor="middle" textLength="20" lengthAdjust="spacingAndGlyphs">2019-07</text>
<text x="478.75" y="694.9" font-size="5.5" text-anchor="middle" textLength="20" lengthAdjust="spacingAndGlyphs">2020-01</text>
<text x="509.6" y="694.9" font-size="5.5" text-anchor="middle" textLength="20" lengthAdjust="spacingAndGlyphs">2020-07</text>
<text x="540.78" y="694.9" font-size="5.5" text-anchor="middle" textLength="20" lengthAdjust="spacingAndGlyphs">2021-01</text>
<text x="571.46" y="694.9" font-size="5.5" text-anchor="middle" textLength="20" lengthAdjust="spacingAndGlyphs">2021-07</text>
<text x="602.65" y="694.9" font-size="5.5" text-anchor="middle" textLength="20" lengthAdjust="spacingAndGlyphs">2022-01</text>
<text x="633.32" y="694.9" font-size="5.5" text-anchor="middle" textLength="20" lengthAdjust="spacingAndGlyphs">2022-07</text>
<text x="664.51" y="694.9" font-size="5.5" text-anchor="middle" textLength="20" lengthAdjust="spacingAndGlyphs">2023-01</text>
<text x="371.6" y="569.4" font-size="5.5" text-anchor="end">0</text>
<text x="370.2" y="585.9" font-size="5.5" text-anchor="end">−10</text>
<text x="370.3" y="583.8" font-size="3.6">1</text>
<text x="370.2" y="690.1" font-size="5.5" text-anchor="end">−10</text>
<text x="370.3" y="688" font-size="3.6">2</text>
<text x="529.4" y="701.4" font-size="5.8" text-anchor="middle" textLength="13" lengthAdjust="spacingAndGlyphs">Date</text>
<text transform="translate(357.1 596.95) rotate(-90)" font-size="5.6" text-anchor="middle" textLength="11.6" lengthAdjust="spacingAndGlyphs">USD</text>
<text x="478.6" y="503.3" font-size="7.6" textLength="48.4" lengthAdjust="spacingAndGlyphs">Tracking error</text>
<text x="529.5" y="503.3" font-size="7.6" font-style="italic" textLength="6" lengthAdjust="spacingAndGlyphs">Z</text>
<text x="535.4" y="504.6" font-size="5.2" font-style="italic">t</text>
<text x="540.5" y="503.3" font-size="7.6">(</text>
<text x="542.5" y="503.3" font-size="7.6" font-style="italic" textLength="7" lengthAdjust="spacingAndGlyphs">m</text>
<text x="549.5" y="504.6" font-size="5.2">0</text>
<text x="553.5" y="503.1" font-size="7.6" textLength="5.6" lengthAdjust="spacingAndGlyphs">=</text>
<text x="560.7" y="503.3" font-size="7.6" textLength="16.6" lengthAdjust="spacingAndGlyphs">1.25</text>
<text x="577.5" y="503.3" font-size="7.6">)</text>
<rect x="376.7" y="656.8" width="71" height="29.3" rx="1" fill="#fff" fill-opacity="0.8" stroke="#d0d0d0" stroke-opacity="0.8" stroke-width="0.5"/>
<text x="412.2" y="661.6" font-size="4" text-anchor="middle" textLength="35.5" lengthAdjust="spacingAndGlyphs">Hedging method</text>
<path d="M378.3 666.7h10.5" stroke="#1f77b4" stroke-opacity="0.55" stroke-width="1"/>
<text x="392.7" y="668.4" font-size="4.8" textLength="12.8" lengthAdjust="spacingAndGlyphs">Delta</text>
<path d="M378.3 673.95h10.5" stroke="#ff7f0e" stroke-opacity="0.55" stroke-width="1"/>
<text x="392.7" y="675.65" font-size="4.8" textLength="25.5" lengthAdjust="spacingAndGlyphs">Delta-vega</text>
<path d="M378.3 681.2h10.5" stroke="#2ca02c" stroke-opacity="0.55" stroke-width="1"/>
<text x="392.7" y="682.9" font-size="4.8" textLength="53" lengthAdjust="spacingAndGlyphs">Data-driven (VolGAN)</text>
<g font-family="'Liberation Serif', serif" fill-opacity="0.8">
<text x="478.4" y="724.1" font-size="14">(</text>
<text x="490" y="724.1" font-size="14">)</text>
<text x="486.85" y="723.2" font-size="12.6" text-anchor="middle">f</text>
<text x="499.7" y="723.2" font-size="12.6" font-style="italic" textLength="10.8" lengthAdjust="spacingAndGlyphs">m</text>
<text x="511.5" y="725.5" font-size="8.8">0</text>
<text x="521.1" y="723.2" font-size="12.6" textLength="9.6" lengthAdjust="spacingAndGlyphs">=</text>
<text x="534.5" y="723.2" font-size="12.8" textLength="23.6" lengthAdjust="spacingAndGlyphs">1.25</text>
</g>
</svg>
</body></html>
